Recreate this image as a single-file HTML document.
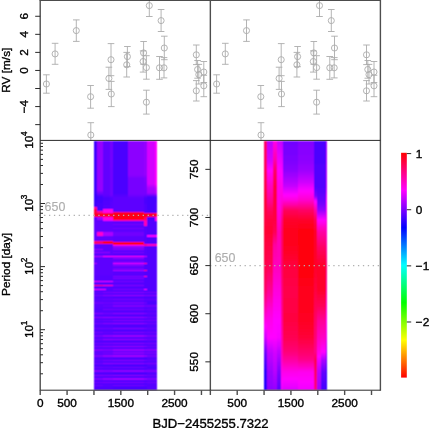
<!DOCTYPE html>
<html lang="en"><head><meta charset="utf-8"><title>RV periodogram</title>
<style>html,body{margin:0;padding:0;background:#fff;overflow:hidden}svg{display:block}text{stroke:#000;stroke-width:.36px}text.g{stroke:#adadad;stroke-width:.12px}</style>
</head><body>
<svg width="429" height="428" viewBox="0 0 429 428" font-family='"Liberation Sans", Arial, Helvetica, sans-serif' font-size="11.8" fill="#000">
<rect width="429" height="428" fill="#fff"/>
<defs><filter id="bl" x="-5%" y="-2%" width="110%" height="104%"><feConvolveMatrix order="3" kernelMatrix="1 2 1 2 5 2 1 2 1" divisor="17" edgeMode="none" preserveAlpha="false"/></filter></defs>
<g filter="url(#bl)" shape-rendering="crispEdges">
<rect x="94.10" y="140.90" width="62.80" height="249.00" fill="#4d00ff"/>
<rect x="264.35" y="140.90" width="62.80" height="249.00" fill="#ff0060"/>
<rect x="94.10" y="140.90" width="3.10" height="53.25" fill="#3c00ff"/>
<rect x="94.10" y="194.00" width="3.10" height="7.15" fill="#3700ff"/>
<rect x="94.10" y="201.00" width="3.10" height="5.25" fill="#3c00ff"/>
<rect x="94.10" y="206.10" width="3.10" height="0.45" fill="#4000ff"/>
<rect x="94.10" y="206.40" width="3.10" height="0.35" fill="#4400ff"/>
<rect x="94.10" y="206.60" width="3.10" height="0.45" fill="#4800ff"/>
<rect x="94.10" y="206.90" width="3.10" height="0.55" fill="#4c00ff"/>
<rect x="94.10" y="207.30" width="3.10" height="2.15" fill="#ff00a1"/>
<rect x="94.10" y="209.30" width="3.10" height="3.85" fill="#ff0040"/>
<rect x="94.10" y="213.00" width="3.10" height="3.85" fill="#ff0022"/>
<rect x="94.10" y="216.70" width="3.10" height="0.95" fill="#5900ff"/>
<rect x="94.10" y="217.50" width="3.10" height="3.15" fill="#5d00ff"/>
<rect x="94.10" y="220.50" width="3.10" height="19.15" fill="#6200ff"/>
<rect x="94.10" y="239.50" width="3.10" height="1.25" fill="#5d00ff"/>
<rect x="94.10" y="240.60" width="3.10" height="1.75" fill="#ff0080"/>
<rect x="94.10" y="242.20" width="3.10" height="1.85" fill="#ff005e"/>
<rect x="94.10" y="243.90" width="3.10" height="5.55" fill="#5d00ff"/>
<rect x="94.10" y="249.30" width="3.10" height="0.85" fill="#9900ff"/>
<rect x="94.10" y="250.00" width="3.10" height="2.45" fill="#5d00ff"/>
<rect x="94.10" y="252.30" width="3.10" height="0.85" fill="#9000ff"/>
<rect x="94.10" y="253.00" width="3.10" height="2.75" fill="#5d00ff"/>
<rect x="94.10" y="255.60" width="3.10" height="1.55" fill="#b700ff"/>
<rect x="94.10" y="257.00" width="3.10" height="5.85" fill="#5d00ff"/>
<rect x="94.10" y="262.70" width="3.10" height="1.45" fill="#aa00ff"/>
<rect x="94.10" y="264.00" width="3.10" height="2.65" fill="#5d00ff"/>
<rect x="94.10" y="266.50" width="3.10" height="0.85" fill="#8800ff"/>
<rect x="94.10" y="267.20" width="3.10" height="6.45" fill="#5d00ff"/>
<rect x="94.10" y="273.50" width="3.10" height="0.85" fill="#9000ff"/>
<rect x="94.10" y="274.20" width="3.10" height="0.45" fill="#5d00ff"/>
<rect x="94.10" y="274.50" width="3.10" height="6.25" fill="#5900ff"/>
<rect x="94.10" y="280.60" width="3.10" height="1.15" fill="#e100ff"/>
<rect x="94.10" y="281.60" width="3.10" height="3.55" fill="#5900ff"/>
<rect x="94.10" y="285.00" width="3.10" height="1.45" fill="#ff005e"/>
<rect x="94.10" y="286.30" width="3.10" height="2.45" fill="#5900ff"/>
<rect x="94.10" y="288.60" width="3.10" height="1.05" fill="#ee00ff"/>
<rect x="94.10" y="289.50" width="3.10" height="2.95" fill="#5900ff"/>
<rect x="94.10" y="292.30" width="3.10" height="1.15" fill="#6600ff"/>
<rect x="94.10" y="293.30" width="3.10" height="2.15" fill="#5900ff"/>
<rect x="94.10" y="295.30" width="3.10" height="1.15" fill="#7700ff"/>
<rect x="94.10" y="296.30" width="3.10" height="2.55" fill="#5900ff"/>
<rect x="94.10" y="298.70" width="3.10" height="1.15" fill="#6200ff"/>
<rect x="94.10" y="299.70" width="3.10" height="2.55" fill="#5900ff"/>
<rect x="94.10" y="302.10" width="3.10" height="1.55" fill="#6f00ff"/>
<rect x="94.10" y="303.50" width="3.10" height="1.75" fill="#5900ff"/>
<rect x="94.10" y="305.10" width="3.10" height="1.55" fill="#5d00ff"/>
<rect x="94.10" y="306.50" width="3.10" height="3.05" fill="#5900ff"/>
<rect x="94.10" y="309.40" width="3.10" height="1.15" fill="#5500ff"/>
<rect x="94.10" y="310.40" width="3.10" height="2.95" fill="#5900ff"/>
<rect x="94.10" y="313.20" width="3.10" height="1.15" fill="#8800ff"/>
<rect x="94.10" y="314.20" width="3.10" height="2.15" fill="#5900ff"/>
<rect x="94.10" y="316.20" width="3.10" height="0.95" fill="#5500ff"/>
<rect x="94.10" y="317.00" width="3.10" height="1.55" fill="#9000ff"/>
<rect x="94.10" y="318.40" width="3.10" height="2.15" fill="#5500ff"/>
<rect x="94.10" y="320.40" width="3.10" height="1.15" fill="#6600ff"/>
<rect x="94.10" y="321.40" width="3.10" height="2.15" fill="#5500ff"/>
<rect x="94.10" y="323.40" width="3.10" height="1.15" fill="#7700ff"/>
<rect x="94.10" y="324.40" width="3.10" height="3.45" fill="#5500ff"/>
<rect x="94.10" y="327.70" width="3.10" height="1.35" fill="#7300ff"/>
<rect x="94.10" y="328.90" width="3.10" height="2.75" fill="#5500ff"/>
<rect x="94.10" y="331.50" width="3.10" height="1.15" fill="#7700ff"/>
<rect x="94.10" y="332.50" width="3.10" height="2.95" fill="#5500ff"/>
<rect x="94.10" y="335.30" width="3.10" height="1.35" fill="#7700ff"/>
<rect x="94.10" y="336.50" width="3.10" height="2.75" fill="#5500ff"/>
<rect x="94.10" y="339.10" width="3.10" height="1.15" fill="#7700ff"/>
<rect x="94.10" y="340.10" width="3.10" height="2.55" fill="#5500ff"/>
<rect x="94.10" y="342.50" width="3.10" height="1.15" fill="#7300ff"/>
<rect x="94.10" y="343.50" width="3.10" height="2.15" fill="#5500ff"/>
<rect x="94.10" y="345.50" width="3.10" height="1.55" fill="#8400ff"/>
<rect x="94.10" y="346.90" width="3.10" height="2.55" fill="#5500ff"/>
<rect x="94.10" y="349.30" width="3.10" height="1.35" fill="#8400ff"/>
<rect x="94.10" y="350.50" width="3.10" height="1.95" fill="#5500ff"/>
<rect x="94.10" y="352.30" width="3.10" height="1.35" fill="#6600ff"/>
<rect x="94.10" y="353.50" width="3.10" height="1.95" fill="#5500ff"/>
<rect x="94.10" y="355.30" width="3.10" height="1.55" fill="#8000ff"/>
<rect x="94.10" y="356.70" width="3.10" height="3.05" fill="#5500ff"/>
<rect x="94.10" y="359.60" width="3.10" height="1.55" fill="#6600ff"/>
<rect x="94.10" y="361.00" width="3.10" height="1.75" fill="#5500ff"/>
<rect x="94.10" y="362.60" width="3.10" height="1.35" fill="#6f00ff"/>
<rect x="94.10" y="363.80" width="3.10" height="1.05" fill="#5500ff"/>
<rect x="94.10" y="364.70" width="3.10" height="2.35" fill="#5100ff"/>
<rect x="94.10" y="366.90" width="3.10" height="1.15" fill="#6f00ff"/>
<rect x="94.10" y="367.90" width="3.10" height="2.55" fill="#5100ff"/>
<rect x="94.10" y="370.30" width="3.10" height="1.35" fill="#8800ff"/>
<rect x="94.10" y="371.50" width="3.10" height="3.25" fill="#5100ff"/>
<rect x="94.10" y="374.60" width="3.10" height="1.55" fill="#8800ff"/>
<rect x="94.10" y="376.00" width="3.10" height="2.55" fill="#5100ff"/>
<rect x="94.10" y="378.40" width="3.10" height="1.35" fill="#8000ff"/>
<rect x="94.10" y="379.60" width="3.10" height="2.35" fill="#5100ff"/>
<rect x="94.10" y="381.80" width="3.10" height="1.15" fill="#7700ff"/>
<rect x="94.10" y="382.80" width="3.10" height="2.55" fill="#5100ff"/>
<rect x="94.10" y="385.20" width="3.10" height="1.35" fill="#6f00ff"/>
<rect x="94.10" y="386.40" width="3.10" height="3.65" fill="#5100ff"/>
<rect x="96.90" y="140.90" width="6.10" height="49.45" fill="#9500ff"/>
<rect x="96.90" y="190.20" width="6.10" height="0.45" fill="#9000ff"/>
<rect x="96.90" y="190.50" width="6.10" height="0.55" fill="#8c00ff"/>
<rect x="96.90" y="190.90" width="6.10" height="0.55" fill="#8800ff"/>
<rect x="96.90" y="191.30" width="6.10" height="0.45" fill="#8400ff"/>
<rect x="96.90" y="191.60" width="6.10" height="0.55" fill="#8000ff"/>
<rect x="96.90" y="192.00" width="6.10" height="0.55" fill="#7b00ff"/>
<rect x="96.90" y="192.40" width="6.10" height="0.45" fill="#7700ff"/>
<rect x="96.90" y="192.70" width="6.10" height="0.55" fill="#7300ff"/>
<rect x="96.90" y="193.10" width="6.10" height="0.55" fill="#6f00ff"/>
<rect x="96.90" y="193.50" width="6.10" height="0.45" fill="#6a00ff"/>
<rect x="96.90" y="193.80" width="6.10" height="0.55" fill="#6600ff"/>
<rect x="96.90" y="194.20" width="6.10" height="0.55" fill="#6200ff"/>
<rect x="96.90" y="194.60" width="6.10" height="0.45" fill="#5d00ff"/>
<rect x="96.90" y="194.90" width="6.10" height="0.55" fill="#5900ff"/>
<rect x="96.90" y="195.30" width="6.10" height="0.55" fill="#5500ff"/>
<rect x="96.90" y="195.70" width="6.10" height="0.55" fill="#5100ff"/>
<rect x="96.90" y="196.10" width="6.10" height="0.45" fill="#4c00ff"/>
<rect x="96.90" y="196.40" width="6.10" height="0.55" fill="#4800ff"/>
<rect x="96.90" y="196.80" width="6.10" height="5.85" fill="#4400ff"/>
<rect x="96.90" y="202.50" width="6.10" height="6.85" fill="#4800ff"/>
<rect x="96.90" y="209.20" width="6.10" height="2.15" fill="#4c00ff"/>
<rect x="96.90" y="211.20" width="6.10" height="1.95" fill="#ff0095"/>
<rect x="96.90" y="213.00" width="6.10" height="3.85" fill="#ff0022"/>
<rect x="96.90" y="216.70" width="6.10" height="2.95" fill="#a200ff"/>
<rect x="96.90" y="219.50" width="6.10" height="1.45" fill="#5d00ff"/>
<rect x="96.90" y="220.80" width="6.10" height="11.75" fill="#6200ff"/>
<rect x="96.90" y="232.40" width="6.10" height="3.45" fill="#ff00cc"/>
<rect x="96.90" y="235.70" width="6.10" height="3.95" fill="#6200ff"/>
<rect x="96.90" y="239.50" width="6.10" height="1.25" fill="#5d00ff"/>
<rect x="96.90" y="240.60" width="6.10" height="1.75" fill="#ff0080"/>
<rect x="96.90" y="242.20" width="6.10" height="1.85" fill="#ff005e"/>
<rect x="96.90" y="243.90" width="6.10" height="5.55" fill="#5d00ff"/>
<rect x="96.90" y="249.30" width="6.10" height="0.85" fill="#9900ff"/>
<rect x="96.90" y="250.00" width="6.10" height="2.45" fill="#5d00ff"/>
<rect x="96.90" y="252.30" width="6.10" height="0.85" fill="#9000ff"/>
<rect x="96.90" y="253.00" width="6.10" height="2.75" fill="#5d00ff"/>
<rect x="96.90" y="255.60" width="6.10" height="1.55" fill="#b700ff"/>
<rect x="96.90" y="257.00" width="6.10" height="9.65" fill="#5d00ff"/>
<rect x="96.90" y="266.50" width="6.10" height="0.85" fill="#8800ff"/>
<rect x="96.90" y="267.20" width="6.10" height="6.45" fill="#5d00ff"/>
<rect x="96.90" y="273.50" width="6.10" height="0.85" fill="#9000ff"/>
<rect x="96.90" y="274.20" width="6.10" height="0.45" fill="#5d00ff"/>
<rect x="96.90" y="274.50" width="6.10" height="6.25" fill="#5900ff"/>
<rect x="96.90" y="280.60" width="6.10" height="1.15" fill="#e100ff"/>
<rect x="96.90" y="281.60" width="6.10" height="3.55" fill="#5900ff"/>
<rect x="96.90" y="285.00" width="6.10" height="1.45" fill="#ff005e"/>
<rect x="96.90" y="286.30" width="6.10" height="2.45" fill="#5900ff"/>
<rect x="96.90" y="288.60" width="6.10" height="1.05" fill="#ee00ff"/>
<rect x="96.90" y="289.50" width="6.10" height="2.95" fill="#5900ff"/>
<rect x="96.90" y="292.30" width="6.10" height="1.15" fill="#6600ff"/>
<rect x="96.90" y="293.30" width="6.10" height="2.15" fill="#5900ff"/>
<rect x="96.90" y="295.30" width="6.10" height="1.15" fill="#7700ff"/>
<rect x="96.90" y="296.30" width="6.10" height="2.55" fill="#5900ff"/>
<rect x="96.90" y="298.70" width="6.10" height="1.15" fill="#6200ff"/>
<rect x="96.90" y="299.70" width="6.10" height="2.55" fill="#5900ff"/>
<rect x="96.90" y="302.10" width="6.10" height="1.55" fill="#6f00ff"/>
<rect x="96.90" y="303.50" width="6.10" height="1.75" fill="#5900ff"/>
<rect x="96.90" y="305.10" width="6.10" height="1.55" fill="#5d00ff"/>
<rect x="96.90" y="306.50" width="6.10" height="3.05" fill="#5900ff"/>
<rect x="96.90" y="309.40" width="6.10" height="1.15" fill="#5500ff"/>
<rect x="96.90" y="310.40" width="6.10" height="2.95" fill="#5900ff"/>
<rect x="96.90" y="313.20" width="6.10" height="1.15" fill="#8800ff"/>
<rect x="96.90" y="314.20" width="6.10" height="2.15" fill="#5900ff"/>
<rect x="96.90" y="316.20" width="6.10" height="0.95" fill="#5500ff"/>
<rect x="96.90" y="317.00" width="6.10" height="1.55" fill="#9000ff"/>
<rect x="96.90" y="318.40" width="6.10" height="2.15" fill="#5500ff"/>
<rect x="96.90" y="320.40" width="6.10" height="1.15" fill="#6600ff"/>
<rect x="96.90" y="321.40" width="6.10" height="2.15" fill="#5500ff"/>
<rect x="96.90" y="323.40" width="6.10" height="1.15" fill="#7700ff"/>
<rect x="96.90" y="324.40" width="6.10" height="3.45" fill="#5500ff"/>
<rect x="96.90" y="327.70" width="6.10" height="1.35" fill="#7300ff"/>
<rect x="96.90" y="328.90" width="6.10" height="2.75" fill="#5500ff"/>
<rect x="96.90" y="331.50" width="6.10" height="1.15" fill="#7700ff"/>
<rect x="96.90" y="332.50" width="6.10" height="2.95" fill="#5500ff"/>
<rect x="96.90" y="335.30" width="6.10" height="1.35" fill="#7700ff"/>
<rect x="96.90" y="336.50" width="6.10" height="2.75" fill="#5500ff"/>
<rect x="96.90" y="339.10" width="6.10" height="1.15" fill="#7700ff"/>
<rect x="96.90" y="340.10" width="6.10" height="2.55" fill="#5500ff"/>
<rect x="96.90" y="342.50" width="6.10" height="1.15" fill="#7300ff"/>
<rect x="96.90" y="343.50" width="6.10" height="2.15" fill="#5500ff"/>
<rect x="96.90" y="345.50" width="6.10" height="1.55" fill="#8400ff"/>
<rect x="96.90" y="346.90" width="6.10" height="2.55" fill="#5500ff"/>
<rect x="96.90" y="349.30" width="6.10" height="1.35" fill="#8400ff"/>
<rect x="96.90" y="350.50" width="6.10" height="1.95" fill="#5500ff"/>
<rect x="96.90" y="352.30" width="6.10" height="1.35" fill="#6600ff"/>
<rect x="96.90" y="353.50" width="6.10" height="1.95" fill="#5500ff"/>
<rect x="96.90" y="355.30" width="6.10" height="1.55" fill="#8000ff"/>
<rect x="96.90" y="356.70" width="6.10" height="3.05" fill="#5500ff"/>
<rect x="96.90" y="359.60" width="6.10" height="1.55" fill="#6600ff"/>
<rect x="96.90" y="361.00" width="6.10" height="1.75" fill="#5500ff"/>
<rect x="96.90" y="362.60" width="6.10" height="1.35" fill="#6f00ff"/>
<rect x="96.90" y="363.80" width="6.10" height="1.05" fill="#5500ff"/>
<rect x="96.90" y="364.70" width="6.10" height="2.35" fill="#5100ff"/>
<rect x="96.90" y="366.90" width="6.10" height="1.15" fill="#6f00ff"/>
<rect x="96.90" y="367.90" width="6.10" height="2.55" fill="#5100ff"/>
<rect x="96.90" y="370.30" width="6.10" height="1.35" fill="#8800ff"/>
<rect x="96.90" y="371.50" width="6.10" height="3.25" fill="#5100ff"/>
<rect x="96.90" y="374.60" width="6.10" height="1.55" fill="#8800ff"/>
<rect x="96.90" y="376.00" width="6.10" height="2.55" fill="#5100ff"/>
<rect x="96.90" y="378.40" width="6.10" height="1.35" fill="#8000ff"/>
<rect x="96.90" y="379.60" width="6.10" height="2.35" fill="#5100ff"/>
<rect x="96.90" y="381.80" width="6.10" height="1.15" fill="#7700ff"/>
<rect x="96.90" y="382.80" width="6.10" height="2.55" fill="#5100ff"/>
<rect x="96.90" y="385.20" width="6.10" height="1.35" fill="#6f00ff"/>
<rect x="96.90" y="386.40" width="6.10" height="3.65" fill="#5100ff"/>
<rect x="102.70" y="140.90" width="3.90" height="54.55" fill="#6200ff"/>
<rect x="102.70" y="195.30" width="3.90" height="0.75" fill="#5d00ff"/>
<rect x="102.70" y="195.90" width="3.90" height="0.75" fill="#5900ff"/>
<rect x="102.70" y="196.50" width="3.90" height="0.75" fill="#5500ff"/>
<rect x="102.70" y="197.10" width="3.90" height="0.75" fill="#5100ff"/>
<rect x="102.70" y="197.70" width="3.90" height="2.85" fill="#4c00ff"/>
<rect x="102.70" y="200.40" width="3.90" height="4.95" fill="#5100ff"/>
<rect x="102.70" y="205.20" width="3.90" height="4.25" fill="#5500ff"/>
<rect x="102.70" y="209.30" width="3.90" height="3.85" fill="#ff00ea"/>
<rect x="102.70" y="213.00" width="3.90" height="3.85" fill="#ff0022"/>
<rect x="102.70" y="216.70" width="3.90" height="2.95" fill="#ff00dd"/>
<rect x="102.70" y="219.50" width="3.90" height="1.25" fill="#ea00ff"/>
<rect x="102.70" y="220.60" width="3.90" height="11.95" fill="#6200ff"/>
<rect x="102.70" y="232.40" width="3.90" height="3.45" fill="#aa00ff"/>
<rect x="102.70" y="235.70" width="3.90" height="3.95" fill="#6200ff"/>
<rect x="102.70" y="239.50" width="3.90" height="1.25" fill="#5d00ff"/>
<rect x="102.70" y="240.60" width="3.90" height="3.45" fill="#ff0022"/>
<rect x="102.70" y="243.90" width="3.90" height="8.55" fill="#5d00ff"/>
<rect x="102.70" y="252.30" width="3.90" height="0.85" fill="#9000ff"/>
<rect x="102.70" y="253.00" width="3.90" height="2.75" fill="#5d00ff"/>
<rect x="102.70" y="255.60" width="3.90" height="1.55" fill="#ff00f2"/>
<rect x="102.70" y="257.00" width="3.90" height="9.65" fill="#5d00ff"/>
<rect x="102.70" y="266.50" width="3.90" height="0.85" fill="#8800ff"/>
<rect x="102.70" y="267.20" width="3.90" height="6.45" fill="#5d00ff"/>
<rect x="102.70" y="273.50" width="3.90" height="0.85" fill="#9000ff"/>
<rect x="102.70" y="274.20" width="3.90" height="0.45" fill="#5d00ff"/>
<rect x="102.70" y="274.50" width="3.90" height="6.25" fill="#5900ff"/>
<rect x="102.70" y="280.60" width="3.90" height="1.15" fill="#e100ff"/>
<rect x="102.70" y="281.60" width="3.90" height="3.55" fill="#5900ff"/>
<rect x="102.70" y="285.00" width="3.90" height="1.45" fill="#ff00b3"/>
<rect x="102.70" y="286.30" width="3.90" height="2.45" fill="#5900ff"/>
<rect x="102.70" y="288.60" width="3.90" height="1.05" fill="#ee00ff"/>
<rect x="102.70" y="289.50" width="3.90" height="2.95" fill="#5900ff"/>
<rect x="102.70" y="292.30" width="3.90" height="1.15" fill="#7b00ff"/>
<rect x="102.70" y="293.30" width="3.90" height="2.15" fill="#5900ff"/>
<rect x="102.70" y="295.30" width="3.90" height="1.15" fill="#8c00ff"/>
<rect x="102.70" y="296.30" width="3.90" height="2.55" fill="#5900ff"/>
<rect x="102.70" y="298.70" width="3.90" height="1.15" fill="#6a00ff"/>
<rect x="102.70" y="299.70" width="3.90" height="2.55" fill="#5900ff"/>
<rect x="102.70" y="302.10" width="3.90" height="1.55" fill="#6a00ff"/>
<rect x="102.70" y="303.50" width="3.90" height="1.75" fill="#5900ff"/>
<rect x="102.70" y="305.10" width="3.90" height="1.55" fill="#6600ff"/>
<rect x="102.70" y="306.50" width="3.90" height="3.05" fill="#5900ff"/>
<rect x="102.70" y="309.40" width="3.90" height="1.15" fill="#7700ff"/>
<rect x="102.70" y="310.40" width="3.90" height="2.95" fill="#5900ff"/>
<rect x="102.70" y="313.20" width="3.90" height="1.15" fill="#7700ff"/>
<rect x="102.70" y="314.20" width="3.90" height="2.15" fill="#5900ff"/>
<rect x="102.70" y="316.20" width="3.90" height="0.95" fill="#5500ff"/>
<rect x="102.70" y="317.00" width="3.90" height="1.55" fill="#9900ff"/>
<rect x="102.70" y="318.40" width="3.90" height="2.15" fill="#5500ff"/>
<rect x="102.70" y="320.40" width="3.90" height="1.15" fill="#6f00ff"/>
<rect x="102.70" y="321.40" width="3.90" height="2.15" fill="#5500ff"/>
<rect x="102.70" y="323.40" width="3.90" height="1.15" fill="#8c00ff"/>
<rect x="102.70" y="324.40" width="3.90" height="3.45" fill="#5500ff"/>
<rect x="102.70" y="327.70" width="3.90" height="1.35" fill="#6f00ff"/>
<rect x="102.70" y="328.90" width="3.90" height="2.75" fill="#5500ff"/>
<rect x="102.70" y="331.50" width="3.90" height="1.15" fill="#6600ff"/>
<rect x="102.70" y="332.50" width="3.90" height="2.95" fill="#5500ff"/>
<rect x="102.70" y="335.30" width="3.90" height="1.35" fill="#8c00ff"/>
<rect x="102.70" y="336.50" width="3.90" height="2.75" fill="#5500ff"/>
<rect x="102.70" y="339.10" width="3.90" height="1.15" fill="#9900ff"/>
<rect x="102.70" y="340.10" width="3.90" height="2.55" fill="#5500ff"/>
<rect x="102.70" y="342.50" width="3.90" height="1.15" fill="#7b00ff"/>
<rect x="102.70" y="343.50" width="3.90" height="2.15" fill="#5500ff"/>
<rect x="102.70" y="345.50" width="3.90" height="1.55" fill="#8c00ff"/>
<rect x="102.70" y="346.90" width="3.90" height="2.55" fill="#5500ff"/>
<rect x="102.70" y="349.30" width="3.90" height="1.35" fill="#8000ff"/>
<rect x="102.70" y="350.50" width="3.90" height="1.95" fill="#5500ff"/>
<rect x="102.70" y="352.30" width="3.90" height="1.35" fill="#6f00ff"/>
<rect x="102.70" y="353.50" width="3.90" height="1.95" fill="#5500ff"/>
<rect x="102.70" y="355.30" width="3.90" height="1.55" fill="#9500ff"/>
<rect x="102.70" y="356.70" width="3.90" height="3.05" fill="#5500ff"/>
<rect x="102.70" y="359.60" width="3.90" height="1.55" fill="#7b00ff"/>
<rect x="102.70" y="361.00" width="3.90" height="1.75" fill="#5500ff"/>
<rect x="102.70" y="362.60" width="3.90" height="1.35" fill="#9000ff"/>
<rect x="102.70" y="363.80" width="3.90" height="1.05" fill="#5500ff"/>
<rect x="102.70" y="364.70" width="3.90" height="2.35" fill="#5100ff"/>
<rect x="102.70" y="366.90" width="3.90" height="1.15" fill="#6a00ff"/>
<rect x="102.70" y="367.90" width="3.90" height="2.55" fill="#5100ff"/>
<rect x="102.70" y="370.30" width="3.90" height="1.35" fill="#8400ff"/>
<rect x="102.70" y="371.50" width="3.90" height="3.25" fill="#5100ff"/>
<rect x="102.70" y="374.60" width="3.90" height="1.55" fill="#8400ff"/>
<rect x="102.70" y="376.00" width="3.90" height="2.55" fill="#5100ff"/>
<rect x="102.70" y="378.40" width="3.90" height="1.35" fill="#9500ff"/>
<rect x="102.70" y="379.60" width="3.90" height="2.35" fill="#5100ff"/>
<rect x="102.70" y="381.80" width="3.90" height="1.15" fill="#8000ff"/>
<rect x="102.70" y="382.80" width="3.90" height="2.55" fill="#5100ff"/>
<rect x="102.70" y="385.20" width="3.90" height="1.35" fill="#5d00ff"/>
<rect x="102.70" y="386.40" width="3.90" height="3.65" fill="#5100ff"/>
<rect x="106.30" y="140.90" width="4.40" height="54.55" fill="#6200ff"/>
<rect x="106.30" y="195.30" width="4.40" height="0.75" fill="#5d00ff"/>
<rect x="106.30" y="195.90" width="4.40" height="0.75" fill="#5900ff"/>
<rect x="106.30" y="196.50" width="4.40" height="0.75" fill="#5500ff"/>
<rect x="106.30" y="197.10" width="4.40" height="0.75" fill="#5100ff"/>
<rect x="106.30" y="197.70" width="4.40" height="2.85" fill="#4c00ff"/>
<rect x="106.30" y="200.40" width="4.40" height="4.95" fill="#5100ff"/>
<rect x="106.30" y="205.20" width="4.40" height="4.25" fill="#5500ff"/>
<rect x="106.30" y="209.30" width="4.40" height="3.85" fill="#ff00ea"/>
<rect x="106.30" y="213.00" width="4.40" height="3.85" fill="#ff0022"/>
<rect x="106.30" y="216.70" width="4.40" height="2.95" fill="#ff00dd"/>
<rect x="106.30" y="219.50" width="4.40" height="1.25" fill="#ea00ff"/>
<rect x="106.30" y="220.60" width="4.40" height="11.95" fill="#6200ff"/>
<rect x="106.30" y="232.40" width="4.40" height="3.45" fill="#aa00ff"/>
<rect x="106.30" y="235.70" width="4.40" height="3.95" fill="#6200ff"/>
<rect x="106.30" y="239.50" width="4.40" height="1.25" fill="#5d00ff"/>
<rect x="106.30" y="240.60" width="4.40" height="3.45" fill="#ff0022"/>
<rect x="106.30" y="243.90" width="4.40" height="8.55" fill="#5d00ff"/>
<rect x="106.30" y="252.30" width="4.40" height="0.85" fill="#9000ff"/>
<rect x="106.30" y="253.00" width="4.40" height="2.75" fill="#5d00ff"/>
<rect x="106.30" y="255.60" width="4.40" height="1.55" fill="#ff00f2"/>
<rect x="106.30" y="257.00" width="4.40" height="9.65" fill="#5d00ff"/>
<rect x="106.30" y="266.50" width="4.40" height="0.85" fill="#8800ff"/>
<rect x="106.30" y="267.20" width="4.40" height="6.45" fill="#5d00ff"/>
<rect x="106.30" y="273.50" width="4.40" height="0.85" fill="#9000ff"/>
<rect x="106.30" y="274.20" width="4.40" height="0.45" fill="#5d00ff"/>
<rect x="106.30" y="274.50" width="4.40" height="6.25" fill="#5900ff"/>
<rect x="106.30" y="280.60" width="4.40" height="1.15" fill="#e100ff"/>
<rect x="106.30" y="281.60" width="4.40" height="3.55" fill="#5900ff"/>
<rect x="106.30" y="285.00" width="4.40" height="1.45" fill="#ff00b3"/>
<rect x="106.30" y="286.30" width="4.40" height="6.15" fill="#5900ff"/>
<rect x="106.30" y="292.30" width="4.40" height="1.15" fill="#7b00ff"/>
<rect x="106.30" y="293.30" width="4.40" height="2.15" fill="#5900ff"/>
<rect x="106.30" y="295.30" width="4.40" height="1.15" fill="#8c00ff"/>
<rect x="106.30" y="296.30" width="4.40" height="2.55" fill="#5900ff"/>
<rect x="106.30" y="298.70" width="4.40" height="1.15" fill="#6a00ff"/>
<rect x="106.30" y="299.70" width="4.40" height="2.55" fill="#5900ff"/>
<rect x="106.30" y="302.10" width="4.40" height="1.55" fill="#6a00ff"/>
<rect x="106.30" y="303.50" width="4.40" height="1.75" fill="#5900ff"/>
<rect x="106.30" y="305.10" width="4.40" height="1.55" fill="#6600ff"/>
<rect x="106.30" y="306.50" width="4.40" height="3.05" fill="#5900ff"/>
<rect x="106.30" y="309.40" width="4.40" height="1.15" fill="#7700ff"/>
<rect x="106.30" y="310.40" width="4.40" height="2.95" fill="#5900ff"/>
<rect x="106.30" y="313.20" width="4.40" height="1.15" fill="#7700ff"/>
<rect x="106.30" y="314.20" width="4.40" height="2.15" fill="#5900ff"/>
<rect x="106.30" y="316.20" width="4.40" height="0.95" fill="#5500ff"/>
<rect x="106.30" y="317.00" width="4.40" height="1.55" fill="#9900ff"/>
<rect x="106.30" y="318.40" width="4.40" height="2.15" fill="#5500ff"/>
<rect x="106.30" y="320.40" width="4.40" height="1.15" fill="#6f00ff"/>
<rect x="106.30" y="321.40" width="4.40" height="2.15" fill="#5500ff"/>
<rect x="106.30" y="323.40" width="4.40" height="1.15" fill="#8c00ff"/>
<rect x="106.30" y="324.40" width="4.40" height="3.45" fill="#5500ff"/>
<rect x="106.30" y="327.70" width="4.40" height="1.35" fill="#6f00ff"/>
<rect x="106.30" y="328.90" width="4.40" height="2.75" fill="#5500ff"/>
<rect x="106.30" y="331.50" width="4.40" height="1.15" fill="#6600ff"/>
<rect x="106.30" y="332.50" width="4.40" height="2.95" fill="#5500ff"/>
<rect x="106.30" y="335.30" width="4.40" height="1.35" fill="#8c00ff"/>
<rect x="106.30" y="336.50" width="4.40" height="2.75" fill="#5500ff"/>
<rect x="106.30" y="339.10" width="4.40" height="1.15" fill="#9900ff"/>
<rect x="106.30" y="340.10" width="4.40" height="2.55" fill="#5500ff"/>
<rect x="106.30" y="342.50" width="4.40" height="1.15" fill="#7b00ff"/>
<rect x="106.30" y="343.50" width="4.40" height="2.15" fill="#5500ff"/>
<rect x="106.30" y="345.50" width="4.40" height="1.55" fill="#8c00ff"/>
<rect x="106.30" y="346.90" width="4.40" height="2.55" fill="#5500ff"/>
<rect x="106.30" y="349.30" width="4.40" height="1.35" fill="#8000ff"/>
<rect x="106.30" y="350.50" width="4.40" height="1.95" fill="#5500ff"/>
<rect x="106.30" y="352.30" width="4.40" height="1.35" fill="#6f00ff"/>
<rect x="106.30" y="353.50" width="4.40" height="1.95" fill="#5500ff"/>
<rect x="106.30" y="355.30" width="4.40" height="1.55" fill="#9500ff"/>
<rect x="106.30" y="356.70" width="4.40" height="3.05" fill="#5500ff"/>
<rect x="106.30" y="359.60" width="4.40" height="1.55" fill="#7b00ff"/>
<rect x="106.30" y="361.00" width="4.40" height="1.75" fill="#5500ff"/>
<rect x="106.30" y="362.60" width="4.40" height="1.35" fill="#9000ff"/>
<rect x="106.30" y="363.80" width="4.40" height="1.05" fill="#5500ff"/>
<rect x="106.30" y="364.70" width="4.40" height="2.35" fill="#5100ff"/>
<rect x="106.30" y="366.90" width="4.40" height="1.15" fill="#6a00ff"/>
<rect x="106.30" y="367.90" width="4.40" height="2.55" fill="#5100ff"/>
<rect x="106.30" y="370.30" width="4.40" height="1.35" fill="#8400ff"/>
<rect x="106.30" y="371.50" width="4.40" height="3.25" fill="#5100ff"/>
<rect x="106.30" y="374.60" width="4.40" height="1.55" fill="#8400ff"/>
<rect x="106.30" y="376.00" width="4.40" height="2.55" fill="#5100ff"/>
<rect x="106.30" y="378.40" width="4.40" height="1.35" fill="#9500ff"/>
<rect x="106.30" y="379.60" width="4.40" height="2.35" fill="#5100ff"/>
<rect x="106.30" y="381.80" width="4.40" height="1.15" fill="#8000ff"/>
<rect x="106.30" y="382.80" width="4.40" height="2.55" fill="#5100ff"/>
<rect x="106.30" y="385.20" width="4.40" height="1.35" fill="#5d00ff"/>
<rect x="106.30" y="386.40" width="4.40" height="3.65" fill="#5100ff"/>
<rect x="110.40" y="140.90" width="2.40" height="27.25" fill="#7300ff"/>
<rect x="110.40" y="168.00" width="2.40" height="27.45" fill="#6f00ff"/>
<rect x="110.40" y="195.30" width="2.40" height="0.65" fill="#6a00ff"/>
<rect x="110.40" y="195.80" width="2.40" height="0.65" fill="#6600ff"/>
<rect x="110.40" y="196.30" width="2.40" height="0.65" fill="#6200ff"/>
<rect x="110.40" y="196.80" width="2.40" height="0.65" fill="#5d00ff"/>
<rect x="110.40" y="197.30" width="2.40" height="0.65" fill="#5900ff"/>
<rect x="110.40" y="197.80" width="2.40" height="4.35" fill="#5500ff"/>
<rect x="110.40" y="202.00" width="2.40" height="7.45" fill="#5900ff"/>
<rect x="110.40" y="209.30" width="2.40" height="3.85" fill="#ff00ea"/>
<rect x="110.40" y="213.00" width="2.40" height="3.85" fill="#ff0022"/>
<rect x="110.40" y="216.70" width="2.40" height="2.95" fill="#ff00dd"/>
<rect x="110.40" y="219.50" width="2.40" height="1.25" fill="#ea00ff"/>
<rect x="110.40" y="220.60" width="2.40" height="11.95" fill="#6200ff"/>
<rect x="110.40" y="232.40" width="2.40" height="3.45" fill="#aa00ff"/>
<rect x="110.40" y="235.70" width="2.40" height="3.95" fill="#6200ff"/>
<rect x="110.40" y="239.50" width="2.40" height="1.25" fill="#5d00ff"/>
<rect x="110.40" y="240.60" width="2.40" height="3.45" fill="#ff0022"/>
<rect x="110.40" y="243.90" width="2.40" height="11.85" fill="#5d00ff"/>
<rect x="110.40" y="255.60" width="2.40" height="1.55" fill="#ff00f2"/>
<rect x="110.40" y="257.00" width="2.40" height="16.65" fill="#5d00ff"/>
<rect x="110.40" y="273.50" width="2.40" height="0.85" fill="#9000ff"/>
<rect x="110.40" y="274.20" width="2.40" height="0.45" fill="#5d00ff"/>
<rect x="110.40" y="274.50" width="2.40" height="6.25" fill="#5900ff"/>
<rect x="110.40" y="280.60" width="2.40" height="1.15" fill="#e100ff"/>
<rect x="110.40" y="281.60" width="2.40" height="3.55" fill="#5900ff"/>
<rect x="110.40" y="285.00" width="2.40" height="1.45" fill="#ff00b3"/>
<rect x="110.40" y="286.30" width="2.40" height="6.15" fill="#5900ff"/>
<rect x="110.40" y="292.30" width="2.40" height="1.15" fill="#7b00ff"/>
<rect x="110.40" y="293.30" width="2.40" height="2.15" fill="#5900ff"/>
<rect x="110.40" y="295.30" width="2.40" height="1.15" fill="#8c00ff"/>
<rect x="110.40" y="296.30" width="2.40" height="2.55" fill="#5900ff"/>
<rect x="110.40" y="298.70" width="2.40" height="1.15" fill="#6a00ff"/>
<rect x="110.40" y="299.70" width="2.40" height="2.55" fill="#5900ff"/>
<rect x="110.40" y="302.10" width="2.40" height="1.55" fill="#6a00ff"/>
<rect x="110.40" y="303.50" width="2.40" height="1.75" fill="#5900ff"/>
<rect x="110.40" y="305.10" width="2.40" height="1.55" fill="#6600ff"/>
<rect x="110.40" y="306.50" width="2.40" height="3.05" fill="#5900ff"/>
<rect x="110.40" y="309.40" width="2.40" height="1.15" fill="#7700ff"/>
<rect x="110.40" y="310.40" width="2.40" height="2.95" fill="#5900ff"/>
<rect x="110.40" y="313.20" width="2.40" height="1.15" fill="#7700ff"/>
<rect x="110.40" y="314.20" width="2.40" height="2.15" fill="#5900ff"/>
<rect x="110.40" y="316.20" width="2.40" height="0.95" fill="#5500ff"/>
<rect x="110.40" y="317.00" width="2.40" height="1.55" fill="#9900ff"/>
<rect x="110.40" y="318.40" width="2.40" height="2.15" fill="#5500ff"/>
<rect x="110.40" y="320.40" width="2.40" height="1.15" fill="#6f00ff"/>
<rect x="110.40" y="321.40" width="2.40" height="2.15" fill="#5500ff"/>
<rect x="110.40" y="323.40" width="2.40" height="1.15" fill="#8c00ff"/>
<rect x="110.40" y="324.40" width="2.40" height="3.45" fill="#5500ff"/>
<rect x="110.40" y="327.70" width="2.40" height="1.35" fill="#6f00ff"/>
<rect x="110.40" y="328.90" width="2.40" height="2.75" fill="#5500ff"/>
<rect x="110.40" y="331.50" width="2.40" height="1.15" fill="#6600ff"/>
<rect x="110.40" y="332.50" width="2.40" height="2.95" fill="#5500ff"/>
<rect x="110.40" y="335.30" width="2.40" height="1.35" fill="#8c00ff"/>
<rect x="110.40" y="336.50" width="2.40" height="2.75" fill="#5500ff"/>
<rect x="110.40" y="339.10" width="2.40" height="1.15" fill="#9900ff"/>
<rect x="110.40" y="340.10" width="2.40" height="2.55" fill="#5500ff"/>
<rect x="110.40" y="342.50" width="2.40" height="1.15" fill="#7b00ff"/>
<rect x="110.40" y="343.50" width="2.40" height="2.15" fill="#5500ff"/>
<rect x="110.40" y="345.50" width="2.40" height="1.55" fill="#8c00ff"/>
<rect x="110.40" y="346.90" width="2.40" height="2.55" fill="#5500ff"/>
<rect x="110.40" y="349.30" width="2.40" height="1.35" fill="#8000ff"/>
<rect x="110.40" y="350.50" width="2.40" height="1.95" fill="#5500ff"/>
<rect x="110.40" y="352.30" width="2.40" height="1.35" fill="#6f00ff"/>
<rect x="110.40" y="353.50" width="2.40" height="1.95" fill="#5500ff"/>
<rect x="110.40" y="355.30" width="2.40" height="1.55" fill="#9500ff"/>
<rect x="110.40" y="356.70" width="2.40" height="3.05" fill="#5500ff"/>
<rect x="110.40" y="359.60" width="2.40" height="1.55" fill="#7b00ff"/>
<rect x="110.40" y="361.00" width="2.40" height="1.75" fill="#5500ff"/>
<rect x="110.40" y="362.60" width="2.40" height="1.35" fill="#9000ff"/>
<rect x="110.40" y="363.80" width="2.40" height="1.05" fill="#5500ff"/>
<rect x="110.40" y="364.70" width="2.40" height="2.35" fill="#5100ff"/>
<rect x="110.40" y="366.90" width="2.40" height="1.15" fill="#6a00ff"/>
<rect x="110.40" y="367.90" width="2.40" height="2.55" fill="#5100ff"/>
<rect x="110.40" y="370.30" width="2.40" height="1.35" fill="#8400ff"/>
<rect x="110.40" y="371.50" width="2.40" height="3.25" fill="#5100ff"/>
<rect x="110.40" y="374.60" width="2.40" height="1.55" fill="#8400ff"/>
<rect x="110.40" y="376.00" width="2.40" height="2.55" fill="#5100ff"/>
<rect x="110.40" y="378.40" width="2.40" height="1.35" fill="#9500ff"/>
<rect x="110.40" y="379.60" width="2.40" height="2.35" fill="#5100ff"/>
<rect x="110.40" y="381.80" width="2.40" height="1.15" fill="#8000ff"/>
<rect x="110.40" y="382.80" width="2.40" height="2.55" fill="#5100ff"/>
<rect x="110.40" y="385.20" width="2.40" height="1.35" fill="#5d00ff"/>
<rect x="110.40" y="386.40" width="2.40" height="3.65" fill="#5100ff"/>
<rect x="112.50" y="140.90" width="15.60" height="53.65" fill="#4c00ff"/>
<rect x="112.50" y="194.40" width="15.60" height="0.85" fill="#5100ff"/>
<rect x="112.50" y="195.10" width="15.60" height="0.95" fill="#5500ff"/>
<rect x="112.50" y="195.90" width="15.60" height="0.85" fill="#5900ff"/>
<rect x="112.50" y="196.60" width="15.60" height="15.35" fill="#5d00ff"/>
<rect x="112.50" y="211.80" width="15.60" height="1.35" fill="#ff0040"/>
<rect x="112.50" y="213.00" width="15.60" height="6.65" fill="#ff0015"/>
<rect x="112.50" y="219.50" width="15.60" height="1.25" fill="#ff00b3"/>
<rect x="112.50" y="220.60" width="15.60" height="3.55" fill="#5d00ff"/>
<rect x="112.50" y="224.00" width="15.60" height="1.15" fill="#7700ff"/>
<rect x="112.50" y="225.00" width="15.60" height="3.15" fill="#5d00ff"/>
<rect x="112.50" y="228.00" width="15.60" height="1.15" fill="#7700ff"/>
<rect x="112.50" y="229.00" width="15.60" height="3.55" fill="#5d00ff"/>
<rect x="112.50" y="232.40" width="15.60" height="3.45" fill="#6f00ff"/>
<rect x="112.50" y="235.70" width="15.60" height="3.95" fill="#5d00ff"/>
<rect x="112.50" y="239.50" width="15.60" height="2.85" fill="#5900ff"/>
<rect x="112.50" y="242.20" width="15.60" height="2.95" fill="#ff001a"/>
<rect x="112.50" y="245.00" width="15.60" height="1.45" fill="#ff00ff"/>
<rect x="112.50" y="246.30" width="15.60" height="0.65" fill="#5900ff"/>
<rect x="112.50" y="246.80" width="15.60" height="0.85" fill="#aa00ff"/>
<rect x="112.50" y="247.50" width="15.60" height="1.95" fill="#5900ff"/>
<rect x="112.50" y="249.30" width="15.60" height="0.85" fill="#9000ff"/>
<rect x="112.50" y="250.00" width="15.60" height="2.45" fill="#5900ff"/>
<rect x="112.50" y="252.30" width="15.60" height="0.85" fill="#7700ff"/>
<rect x="112.50" y="253.00" width="15.60" height="0.75" fill="#5900ff"/>
<rect x="112.50" y="253.60" width="15.60" height="0.75" fill="#8800ff"/>
<rect x="112.50" y="254.20" width="15.60" height="1.55" fill="#5900ff"/>
<rect x="112.50" y="255.60" width="15.60" height="1.55" fill="#ff00f2"/>
<rect x="112.50" y="257.00" width="15.60" height="1.05" fill="#5900ff"/>
<rect x="112.50" y="257.90" width="15.60" height="0.85" fill="#9900ff"/>
<rect x="112.50" y="258.60" width="15.60" height="1.05" fill="#5900ff"/>
<rect x="112.50" y="259.50" width="15.60" height="0.85" fill="#8800ff"/>
<rect x="112.50" y="260.20" width="15.60" height="1.15" fill="#5900ff"/>
<rect x="112.50" y="261.20" width="15.60" height="0.75" fill="#8000ff"/>
<rect x="112.50" y="261.80" width="15.60" height="1.05" fill="#5900ff"/>
<rect x="112.50" y="262.70" width="15.60" height="1.45" fill="#f700ff"/>
<rect x="112.50" y="264.00" width="15.60" height="1.05" fill="#5900ff"/>
<rect x="112.50" y="264.90" width="15.60" height="0.75" fill="#9900ff"/>
<rect x="112.50" y="265.50" width="15.60" height="1.15" fill="#5900ff"/>
<rect x="112.50" y="266.50" width="15.60" height="0.85" fill="#8000ff"/>
<rect x="112.50" y="267.20" width="15.60" height="1.35" fill="#5900ff"/>
<rect x="112.50" y="268.40" width="15.60" height="0.75" fill="#8000ff"/>
<rect x="112.50" y="269.00" width="15.60" height="1.15" fill="#5900ff"/>
<rect x="112.50" y="270.00" width="15.60" height="1.35" fill="#b700ff"/>
<rect x="112.50" y="271.20" width="15.60" height="2.45" fill="#5900ff"/>
<rect x="112.50" y="273.50" width="15.60" height="0.85" fill="#7700ff"/>
<rect x="112.50" y="274.20" width="15.60" height="0.45" fill="#5900ff"/>
<rect x="112.50" y="274.50" width="15.60" height="1.65" fill="#5500ff"/>
<rect x="112.50" y="276.00" width="15.60" height="1.15" fill="#8800ff"/>
<rect x="112.50" y="277.00" width="15.60" height="1.55" fill="#5500ff"/>
<rect x="112.50" y="278.40" width="15.60" height="0.75" fill="#8800ff"/>
<rect x="112.50" y="279.00" width="15.60" height="1.75" fill="#5500ff"/>
<rect x="112.50" y="280.60" width="15.60" height="1.15" fill="#7700ff"/>
<rect x="112.50" y="281.60" width="15.60" height="1.15" fill="#5500ff"/>
<rect x="112.50" y="282.60" width="15.60" height="0.75" fill="#8800ff"/>
<rect x="112.50" y="283.20" width="15.60" height="1.95" fill="#5500ff"/>
<rect x="112.50" y="285.00" width="15.60" height="1.45" fill="#8000ff"/>
<rect x="112.50" y="286.30" width="15.60" height="2.45" fill="#5500ff"/>
<rect x="112.50" y="288.60" width="15.60" height="1.05" fill="#7700ff"/>
<rect x="112.50" y="289.50" width="15.60" height="1.25" fill="#5500ff"/>
<rect x="112.50" y="290.60" width="15.60" height="0.75" fill="#8000ff"/>
<rect x="112.50" y="291.20" width="15.60" height="1.25" fill="#5500ff"/>
<rect x="112.50" y="292.30" width="15.60" height="1.15" fill="#8800ff"/>
<rect x="112.50" y="293.30" width="15.60" height="2.15" fill="#5500ff"/>
<rect x="112.50" y="295.30" width="15.60" height="1.15" fill="#9900ff"/>
<rect x="112.50" y="296.30" width="15.60" height="2.55" fill="#5500ff"/>
<rect x="112.50" y="298.70" width="15.60" height="1.15" fill="#7700ff"/>
<rect x="112.50" y="299.70" width="15.60" height="2.55" fill="#5500ff"/>
<rect x="112.50" y="302.10" width="15.60" height="1.55" fill="#7700ff"/>
<rect x="112.50" y="303.50" width="15.60" height="1.75" fill="#5500ff"/>
<rect x="112.50" y="305.10" width="15.60" height="1.55" fill="#8000ff"/>
<rect x="112.50" y="306.50" width="15.60" height="3.05" fill="#5500ff"/>
<rect x="112.50" y="309.40" width="15.60" height="1.15" fill="#7700ff"/>
<rect x="112.50" y="310.40" width="15.60" height="2.95" fill="#5500ff"/>
<rect x="112.50" y="313.20" width="15.60" height="1.15" fill="#9000ff"/>
<rect x="112.50" y="314.20" width="15.60" height="2.15" fill="#5500ff"/>
<rect x="112.50" y="316.20" width="15.60" height="0.95" fill="#5100ff"/>
<rect x="112.50" y="317.00" width="15.60" height="1.55" fill="#9900ff"/>
<rect x="112.50" y="318.40" width="15.60" height="2.15" fill="#5100ff"/>
<rect x="112.50" y="320.40" width="15.60" height="1.15" fill="#8800ff"/>
<rect x="112.50" y="321.40" width="15.60" height="2.15" fill="#5100ff"/>
<rect x="112.50" y="323.40" width="15.60" height="1.15" fill="#9900ff"/>
<rect x="112.50" y="324.40" width="15.60" height="3.45" fill="#5100ff"/>
<rect x="112.50" y="327.70" width="15.60" height="1.35" fill="#8800ff"/>
<rect x="112.50" y="328.90" width="15.60" height="2.75" fill="#5100ff"/>
<rect x="112.50" y="331.50" width="15.60" height="1.15" fill="#8000ff"/>
<rect x="112.50" y="332.50" width="15.60" height="2.95" fill="#5100ff"/>
<rect x="112.50" y="335.30" width="15.60" height="1.35" fill="#9900ff"/>
<rect x="112.50" y="336.50" width="15.60" height="2.75" fill="#5100ff"/>
<rect x="112.50" y="339.10" width="15.60" height="1.15" fill="#9900ff"/>
<rect x="112.50" y="340.10" width="15.60" height="2.55" fill="#5100ff"/>
<rect x="112.50" y="342.50" width="15.60" height="1.15" fill="#8800ff"/>
<rect x="112.50" y="343.50" width="15.60" height="2.15" fill="#5100ff"/>
<rect x="112.50" y="345.50" width="15.60" height="1.55" fill="#9900ff"/>
<rect x="112.50" y="346.90" width="15.60" height="2.55" fill="#5100ff"/>
<rect x="112.50" y="349.30" width="15.60" height="1.35" fill="#9900ff"/>
<rect x="112.50" y="350.50" width="15.60" height="1.95" fill="#5100ff"/>
<rect x="112.50" y="352.30" width="15.60" height="1.35" fill="#8800ff"/>
<rect x="112.50" y="353.50" width="15.60" height="1.95" fill="#5100ff"/>
<rect x="112.50" y="355.30" width="15.60" height="1.55" fill="#a200ff"/>
<rect x="112.50" y="356.70" width="15.60" height="3.05" fill="#5100ff"/>
<rect x="112.50" y="359.60" width="15.60" height="1.55" fill="#8800ff"/>
<rect x="112.50" y="361.00" width="15.60" height="1.75" fill="#5100ff"/>
<rect x="112.50" y="362.60" width="15.60" height="1.35" fill="#9000ff"/>
<rect x="112.50" y="363.80" width="15.60" height="1.05" fill="#5100ff"/>
<rect x="112.50" y="364.70" width="15.60" height="2.35" fill="#4c00ff"/>
<rect x="112.50" y="366.90" width="15.60" height="1.15" fill="#7700ff"/>
<rect x="112.50" y="367.90" width="15.60" height="2.55" fill="#4c00ff"/>
<rect x="112.50" y="370.30" width="15.60" height="1.35" fill="#9000ff"/>
<rect x="112.50" y="371.50" width="15.60" height="3.25" fill="#4c00ff"/>
<rect x="112.50" y="374.60" width="15.60" height="1.55" fill="#9000ff"/>
<rect x="112.50" y="376.00" width="15.60" height="2.55" fill="#4c00ff"/>
<rect x="112.50" y="378.40" width="15.60" height="1.35" fill="#a200ff"/>
<rect x="112.50" y="379.60" width="15.60" height="2.35" fill="#4c00ff"/>
<rect x="112.50" y="381.80" width="15.60" height="1.15" fill="#8000ff"/>
<rect x="112.50" y="382.80" width="15.60" height="2.55" fill="#4c00ff"/>
<rect x="112.50" y="385.20" width="15.60" height="1.35" fill="#7700ff"/>
<rect x="112.50" y="386.40" width="15.60" height="3.65" fill="#4c00ff"/>
<rect x="127.80" y="140.90" width="16.50" height="34.55" fill="#8c00ff"/>
<rect x="127.80" y="175.30" width="16.50" height="0.75" fill="#8800ff"/>
<rect x="127.80" y="175.90" width="16.50" height="0.75" fill="#8400ff"/>
<rect x="127.80" y="176.50" width="16.50" height="0.75" fill="#8000ff"/>
<rect x="127.80" y="177.10" width="16.50" height="0.75" fill="#7b00ff"/>
<rect x="127.80" y="177.70" width="16.50" height="16.75" fill="#7700ff"/>
<rect x="127.80" y="194.30" width="16.50" height="0.85" fill="#7300ff"/>
<rect x="127.80" y="195.00" width="16.50" height="0.85" fill="#6f00ff"/>
<rect x="127.80" y="195.70" width="16.50" height="0.75" fill="#6a00ff"/>
<rect x="127.80" y="196.30" width="16.50" height="0.85" fill="#6600ff"/>
<rect x="127.80" y="197.00" width="16.50" height="0.85" fill="#6200ff"/>
<rect x="127.80" y="197.70" width="16.50" height="14.25" fill="#5d00ff"/>
<rect x="127.80" y="211.80" width="16.50" height="1.35" fill="#ff0040"/>
<rect x="127.80" y="213.00" width="16.50" height="6.65" fill="#ff0015"/>
<rect x="127.80" y="219.50" width="16.50" height="1.25" fill="#ff00b3"/>
<rect x="127.80" y="220.60" width="16.50" height="3.55" fill="#5d00ff"/>
<rect x="127.80" y="224.00" width="16.50" height="1.15" fill="#7700ff"/>
<rect x="127.80" y="225.00" width="16.50" height="3.15" fill="#5d00ff"/>
<rect x="127.80" y="228.00" width="16.50" height="1.15" fill="#7700ff"/>
<rect x="127.80" y="229.00" width="16.50" height="3.55" fill="#5d00ff"/>
<rect x="127.80" y="232.40" width="16.50" height="3.45" fill="#6f00ff"/>
<rect x="127.80" y="235.70" width="16.50" height="3.95" fill="#5d00ff"/>
<rect x="127.80" y="239.50" width="16.50" height="2.85" fill="#5900ff"/>
<rect x="127.80" y="242.20" width="16.50" height="2.95" fill="#ff001a"/>
<rect x="127.80" y="245.00" width="16.50" height="1.45" fill="#ff00ff"/>
<rect x="127.80" y="246.30" width="16.50" height="0.65" fill="#5900ff"/>
<rect x="127.80" y="246.80" width="16.50" height="0.85" fill="#aa00ff"/>
<rect x="127.80" y="247.50" width="16.50" height="1.95" fill="#5900ff"/>
<rect x="127.80" y="249.30" width="16.50" height="0.85" fill="#9000ff"/>
<rect x="127.80" y="250.00" width="16.50" height="2.45" fill="#5900ff"/>
<rect x="127.80" y="252.30" width="16.50" height="0.85" fill="#7700ff"/>
<rect x="127.80" y="253.00" width="16.50" height="0.75" fill="#5900ff"/>
<rect x="127.80" y="253.60" width="16.50" height="0.75" fill="#8800ff"/>
<rect x="127.80" y="254.20" width="16.50" height="1.55" fill="#5900ff"/>
<rect x="127.80" y="255.60" width="16.50" height="1.55" fill="#ff00f2"/>
<rect x="127.80" y="257.00" width="16.50" height="1.05" fill="#5900ff"/>
<rect x="127.80" y="257.90" width="16.50" height="0.85" fill="#9900ff"/>
<rect x="127.80" y="258.60" width="16.50" height="1.05" fill="#5900ff"/>
<rect x="127.80" y="259.50" width="16.50" height="0.85" fill="#8800ff"/>
<rect x="127.80" y="260.20" width="16.50" height="1.15" fill="#5900ff"/>
<rect x="127.80" y="261.20" width="16.50" height="0.75" fill="#8000ff"/>
<rect x="127.80" y="261.80" width="16.50" height="1.05" fill="#5900ff"/>
<rect x="127.80" y="262.70" width="16.50" height="1.45" fill="#f700ff"/>
<rect x="127.80" y="264.00" width="16.50" height="1.05" fill="#5900ff"/>
<rect x="127.80" y="264.90" width="16.50" height="0.75" fill="#9900ff"/>
<rect x="127.80" y="265.50" width="16.50" height="1.15" fill="#5900ff"/>
<rect x="127.80" y="266.50" width="16.50" height="0.85" fill="#8000ff"/>
<rect x="127.80" y="267.20" width="16.50" height="1.35" fill="#5900ff"/>
<rect x="127.80" y="268.40" width="16.50" height="0.75" fill="#8000ff"/>
<rect x="127.80" y="269.00" width="16.50" height="1.15" fill="#5900ff"/>
<rect x="127.80" y="270.00" width="16.50" height="1.35" fill="#b700ff"/>
<rect x="127.80" y="271.20" width="16.50" height="2.45" fill="#5900ff"/>
<rect x="127.80" y="273.50" width="16.50" height="0.85" fill="#7700ff"/>
<rect x="127.80" y="274.20" width="16.50" height="0.45" fill="#5900ff"/>
<rect x="127.80" y="274.50" width="16.50" height="1.65" fill="#5500ff"/>
<rect x="127.80" y="276.00" width="16.50" height="1.15" fill="#8800ff"/>
<rect x="127.80" y="277.00" width="16.50" height="1.55" fill="#5500ff"/>
<rect x="127.80" y="278.40" width="16.50" height="0.75" fill="#8800ff"/>
<rect x="127.80" y="279.00" width="16.50" height="1.75" fill="#5500ff"/>
<rect x="127.80" y="280.60" width="16.50" height="1.15" fill="#7700ff"/>
<rect x="127.80" y="281.60" width="16.50" height="1.15" fill="#5500ff"/>
<rect x="127.80" y="282.60" width="16.50" height="0.75" fill="#8800ff"/>
<rect x="127.80" y="283.20" width="16.50" height="1.95" fill="#5500ff"/>
<rect x="127.80" y="285.00" width="16.50" height="1.45" fill="#8000ff"/>
<rect x="127.80" y="286.30" width="16.50" height="2.45" fill="#5500ff"/>
<rect x="127.80" y="288.60" width="16.50" height="1.05" fill="#7700ff"/>
<rect x="127.80" y="289.50" width="16.50" height="1.25" fill="#5500ff"/>
<rect x="127.80" y="290.60" width="16.50" height="0.75" fill="#8000ff"/>
<rect x="127.80" y="291.20" width="16.50" height="1.25" fill="#5500ff"/>
<rect x="127.80" y="292.30" width="16.50" height="1.15" fill="#8800ff"/>
<rect x="127.80" y="293.30" width="16.50" height="2.15" fill="#5500ff"/>
<rect x="127.80" y="295.30" width="16.50" height="1.15" fill="#9900ff"/>
<rect x="127.80" y="296.30" width="16.50" height="2.55" fill="#5500ff"/>
<rect x="127.80" y="298.70" width="16.50" height="1.15" fill="#7700ff"/>
<rect x="127.80" y="299.70" width="16.50" height="2.55" fill="#5500ff"/>
<rect x="127.80" y="302.10" width="16.50" height="1.55" fill="#7700ff"/>
<rect x="127.80" y="303.50" width="16.50" height="1.75" fill="#5500ff"/>
<rect x="127.80" y="305.10" width="16.50" height="1.55" fill="#8000ff"/>
<rect x="127.80" y="306.50" width="16.50" height="3.05" fill="#5500ff"/>
<rect x="127.80" y="309.40" width="16.50" height="1.15" fill="#7700ff"/>
<rect x="127.80" y="310.40" width="16.50" height="2.95" fill="#5500ff"/>
<rect x="127.80" y="313.20" width="16.50" height="1.15" fill="#9000ff"/>
<rect x="127.80" y="314.20" width="16.50" height="2.15" fill="#5500ff"/>
<rect x="127.80" y="316.20" width="16.50" height="0.95" fill="#5100ff"/>
<rect x="127.80" y="317.00" width="16.50" height="1.55" fill="#9900ff"/>
<rect x="127.80" y="318.40" width="16.50" height="2.15" fill="#5100ff"/>
<rect x="127.80" y="320.40" width="16.50" height="1.15" fill="#8800ff"/>
<rect x="127.80" y="321.40" width="16.50" height="2.15" fill="#5100ff"/>
<rect x="127.80" y="323.40" width="16.50" height="1.15" fill="#9900ff"/>
<rect x="127.80" y="324.40" width="16.50" height="3.45" fill="#5100ff"/>
<rect x="127.80" y="327.70" width="16.50" height="1.35" fill="#8800ff"/>
<rect x="127.80" y="328.90" width="16.50" height="2.75" fill="#5100ff"/>
<rect x="127.80" y="331.50" width="16.50" height="1.15" fill="#8000ff"/>
<rect x="127.80" y="332.50" width="16.50" height="2.95" fill="#5100ff"/>
<rect x="127.80" y="335.30" width="16.50" height="1.35" fill="#9900ff"/>
<rect x="127.80" y="336.50" width="16.50" height="2.75" fill="#5100ff"/>
<rect x="127.80" y="339.10" width="16.50" height="1.15" fill="#9900ff"/>
<rect x="127.80" y="340.10" width="16.50" height="2.55" fill="#5100ff"/>
<rect x="127.80" y="342.50" width="16.50" height="1.15" fill="#8800ff"/>
<rect x="127.80" y="343.50" width="16.50" height="2.15" fill="#5100ff"/>
<rect x="127.80" y="345.50" width="16.50" height="1.55" fill="#9900ff"/>
<rect x="127.80" y="346.90" width="16.50" height="2.55" fill="#5100ff"/>
<rect x="127.80" y="349.30" width="16.50" height="1.35" fill="#9900ff"/>
<rect x="127.80" y="350.50" width="16.50" height="1.95" fill="#5100ff"/>
<rect x="127.80" y="352.30" width="16.50" height="1.35" fill="#8800ff"/>
<rect x="127.80" y="353.50" width="16.50" height="1.95" fill="#5100ff"/>
<rect x="127.80" y="355.30" width="16.50" height="1.55" fill="#a200ff"/>
<rect x="127.80" y="356.70" width="16.50" height="3.05" fill="#5100ff"/>
<rect x="127.80" y="359.60" width="16.50" height="1.55" fill="#8800ff"/>
<rect x="127.80" y="361.00" width="16.50" height="1.75" fill="#5100ff"/>
<rect x="127.80" y="362.60" width="16.50" height="1.35" fill="#9000ff"/>
<rect x="127.80" y="363.80" width="16.50" height="1.05" fill="#5100ff"/>
<rect x="127.80" y="364.70" width="16.50" height="2.35" fill="#4c00ff"/>
<rect x="127.80" y="366.90" width="16.50" height="1.15" fill="#7700ff"/>
<rect x="127.80" y="367.90" width="16.50" height="2.55" fill="#4c00ff"/>
<rect x="127.80" y="370.30" width="16.50" height="1.35" fill="#9000ff"/>
<rect x="127.80" y="371.50" width="16.50" height="3.25" fill="#4c00ff"/>
<rect x="127.80" y="374.60" width="16.50" height="1.55" fill="#9000ff"/>
<rect x="127.80" y="376.00" width="16.50" height="2.55" fill="#4c00ff"/>
<rect x="127.80" y="378.40" width="16.50" height="1.35" fill="#a200ff"/>
<rect x="127.80" y="379.60" width="16.50" height="2.35" fill="#4c00ff"/>
<rect x="127.80" y="381.80" width="16.50" height="1.15" fill="#8000ff"/>
<rect x="127.80" y="382.80" width="16.50" height="2.55" fill="#4c00ff"/>
<rect x="127.80" y="385.20" width="16.50" height="1.35" fill="#7700ff"/>
<rect x="127.80" y="386.40" width="16.50" height="3.65" fill="#4c00ff"/>
<rect x="144.00" y="140.90" width="3.10" height="34.55" fill="#9500ff"/>
<rect x="144.00" y="175.30" width="3.10" height="0.75" fill="#9000ff"/>
<rect x="144.00" y="175.90" width="3.10" height="0.75" fill="#8c00ff"/>
<rect x="144.00" y="176.50" width="3.10" height="0.75" fill="#8800ff"/>
<rect x="144.00" y="177.10" width="3.10" height="0.75" fill="#8400ff"/>
<rect x="144.00" y="177.70" width="3.10" height="4.45" fill="#8000ff"/>
<rect x="144.00" y="182.00" width="3.10" height="8.15" fill="#7b00ff"/>
<rect x="144.00" y="190.00" width="3.10" height="4.35" fill="#7700ff"/>
<rect x="144.00" y="194.20" width="3.10" height="0.55" fill="#7300ff"/>
<rect x="144.00" y="194.60" width="3.10" height="0.55" fill="#6f00ff"/>
<rect x="144.00" y="195.00" width="3.10" height="0.55" fill="#6a00ff"/>
<rect x="144.00" y="195.40" width="3.10" height="0.55" fill="#6600ff"/>
<rect x="144.00" y="195.80" width="3.10" height="0.55" fill="#6200ff"/>
<rect x="144.00" y="196.20" width="3.10" height="0.55" fill="#5d00ff"/>
<rect x="144.00" y="196.60" width="3.10" height="0.55" fill="#5900ff"/>
<rect x="144.00" y="197.00" width="3.10" height="0.55" fill="#5500ff"/>
<rect x="144.00" y="197.40" width="3.10" height="0.55" fill="#5100ff"/>
<rect x="144.00" y="197.80" width="3.10" height="6.35" fill="#4c00ff"/>
<rect x="144.00" y="204.00" width="3.10" height="9.15" fill="#5100ff"/>
<rect x="144.00" y="213.00" width="3.10" height="3.85" fill="#ff0015"/>
<rect x="144.00" y="216.70" width="3.10" height="2.95" fill="#ff005e"/>
<rect x="144.00" y="219.50" width="3.10" height="1.05" fill="#ff0080"/>
<rect x="144.00" y="220.40" width="3.10" height="5.85" fill="#ff00b3"/>
<rect x="144.00" y="226.10" width="3.10" height="17.95" fill="#5500ff"/>
<rect x="144.00" y="243.90" width="3.10" height="2.55" fill="#ff0080"/>
<rect x="144.00" y="246.30" width="3.10" height="9.45" fill="#5500ff"/>
<rect x="144.00" y="255.60" width="3.10" height="1.55" fill="#c300ff"/>
<rect x="144.00" y="257.00" width="3.10" height="5.85" fill="#5500ff"/>
<rect x="144.00" y="262.70" width="3.10" height="1.45" fill="#ff0088"/>
<rect x="144.00" y="264.00" width="3.10" height="6.15" fill="#5100ff"/>
<rect x="144.00" y="270.00" width="3.10" height="1.35" fill="#ff005e"/>
<rect x="144.00" y="271.20" width="3.10" height="4.95" fill="#5100ff"/>
<rect x="144.00" y="276.00" width="3.10" height="1.15" fill="#ff00aa"/>
<rect x="144.00" y="277.00" width="3.10" height="6.65" fill="#5100ff"/>
<rect x="144.00" y="283.50" width="3.10" height="0.95" fill="#ff00ff"/>
<rect x="144.00" y="284.30" width="3.10" height="4.45" fill="#5100ff"/>
<rect x="144.00" y="288.60" width="3.10" height="1.05" fill="#ff00ff"/>
<rect x="144.00" y="289.50" width="3.10" height="2.95" fill="#5100ff"/>
<rect x="144.00" y="292.30" width="3.10" height="1.15" fill="#7700ff"/>
<rect x="144.00" y="293.30" width="3.10" height="2.15" fill="#5100ff"/>
<rect x="144.00" y="295.30" width="3.10" height="1.15" fill="#8800ff"/>
<rect x="144.00" y="296.30" width="3.10" height="2.55" fill="#5100ff"/>
<rect x="144.00" y="298.70" width="3.10" height="1.15" fill="#6600ff"/>
<rect x="144.00" y="299.70" width="3.10" height="2.55" fill="#5100ff"/>
<rect x="144.00" y="302.10" width="3.10" height="1.55" fill="#6600ff"/>
<rect x="144.00" y="303.50" width="3.10" height="1.75" fill="#5100ff"/>
<rect x="144.00" y="305.10" width="3.10" height="1.55" fill="#6f00ff"/>
<rect x="144.00" y="306.50" width="3.10" height="3.05" fill="#5100ff"/>
<rect x="144.00" y="309.40" width="3.10" height="1.15" fill="#6600ff"/>
<rect x="144.00" y="310.40" width="3.10" height="2.95" fill="#5100ff"/>
<rect x="144.00" y="313.20" width="3.10" height="1.15" fill="#8000ff"/>
<rect x="144.00" y="314.20" width="3.10" height="2.95" fill="#5100ff"/>
<rect x="144.00" y="317.00" width="3.10" height="1.55" fill="#8800ff"/>
<rect x="144.00" y="318.40" width="3.10" height="2.15" fill="#5100ff"/>
<rect x="144.00" y="320.40" width="3.10" height="1.15" fill="#7700ff"/>
<rect x="144.00" y="321.40" width="3.10" height="2.15" fill="#5100ff"/>
<rect x="144.00" y="323.40" width="3.10" height="1.15" fill="#8800ff"/>
<rect x="144.00" y="324.40" width="3.10" height="3.45" fill="#5100ff"/>
<rect x="144.00" y="327.70" width="3.10" height="1.35" fill="#7700ff"/>
<rect x="144.00" y="328.90" width="3.10" height="2.75" fill="#5100ff"/>
<rect x="144.00" y="331.50" width="3.10" height="1.15" fill="#6f00ff"/>
<rect x="144.00" y="332.50" width="3.10" height="2.95" fill="#5100ff"/>
<rect x="144.00" y="335.30" width="3.10" height="1.35" fill="#8800ff"/>
<rect x="144.00" y="336.50" width="3.10" height="2.75" fill="#5100ff"/>
<rect x="144.00" y="339.10" width="3.10" height="1.15" fill="#8800ff"/>
<rect x="144.00" y="340.10" width="3.10" height="2.55" fill="#5100ff"/>
<rect x="144.00" y="342.50" width="3.10" height="1.15" fill="#7700ff"/>
<rect x="144.00" y="343.50" width="3.10" height="2.15" fill="#5100ff"/>
<rect x="144.00" y="345.50" width="3.10" height="1.55" fill="#8800ff"/>
<rect x="144.00" y="346.90" width="3.10" height="0.45" fill="#5100ff"/>
<rect x="144.00" y="347.20" width="3.10" height="2.25" fill="#4c00ff"/>
<rect x="144.00" y="349.30" width="3.10" height="1.35" fill="#8800ff"/>
<rect x="144.00" y="350.50" width="3.10" height="1.95" fill="#4c00ff"/>
<rect x="144.00" y="352.30" width="3.10" height="1.35" fill="#7700ff"/>
<rect x="144.00" y="353.50" width="3.10" height="1.95" fill="#4c00ff"/>
<rect x="144.00" y="355.30" width="3.10" height="1.55" fill="#9000ff"/>
<rect x="144.00" y="356.70" width="3.10" height="3.05" fill="#4c00ff"/>
<rect x="144.00" y="359.60" width="3.10" height="1.55" fill="#7700ff"/>
<rect x="144.00" y="361.00" width="3.10" height="1.75" fill="#4c00ff"/>
<rect x="144.00" y="362.60" width="3.10" height="1.35" fill="#8000ff"/>
<rect x="144.00" y="363.80" width="3.10" height="3.25" fill="#4c00ff"/>
<rect x="144.00" y="366.90" width="3.10" height="1.15" fill="#6600ff"/>
<rect x="144.00" y="367.90" width="3.10" height="2.55" fill="#4c00ff"/>
<rect x="144.00" y="370.30" width="3.10" height="1.35" fill="#8000ff"/>
<rect x="144.00" y="371.50" width="3.10" height="3.25" fill="#4c00ff"/>
<rect x="144.00" y="374.60" width="3.10" height="1.55" fill="#8000ff"/>
<rect x="144.00" y="376.00" width="3.10" height="2.55" fill="#4c00ff"/>
<rect x="144.00" y="378.40" width="3.10" height="1.35" fill="#9000ff"/>
<rect x="144.00" y="379.60" width="3.10" height="2.35" fill="#4c00ff"/>
<rect x="144.00" y="381.80" width="3.10" height="1.15" fill="#6f00ff"/>
<rect x="144.00" y="382.80" width="3.10" height="2.55" fill="#4c00ff"/>
<rect x="144.00" y="385.20" width="3.10" height="1.35" fill="#6600ff"/>
<rect x="144.00" y="386.40" width="3.10" height="3.65" fill="#4c00ff"/>
<rect x="146.80" y="140.90" width="4.20" height="43.45" fill="#d500ff"/>
<rect x="146.80" y="184.20" width="4.20" height="0.55" fill="#d000ff"/>
<rect x="146.80" y="184.60" width="4.20" height="0.55" fill="#cc00ff"/>
<rect x="146.80" y="185.00" width="4.20" height="0.55" fill="#c800ff"/>
<rect x="146.80" y="185.40" width="4.20" height="0.55" fill="#c300ff"/>
<rect x="146.80" y="185.80" width="4.20" height="0.55" fill="#bf00ff"/>
<rect x="146.80" y="186.20" width="4.20" height="0.55" fill="#bb00ff"/>
<rect x="146.80" y="186.60" width="4.20" height="0.55" fill="#b700ff"/>
<rect x="146.80" y="187.00" width="4.20" height="0.55" fill="#b300ff"/>
<rect x="146.80" y="187.40" width="4.20" height="0.55" fill="#ae00ff"/>
<rect x="146.80" y="187.80" width="4.20" height="1.65" fill="#aa00ff"/>
<rect x="146.80" y="189.30" width="4.20" height="2.65" fill="#a600ff"/>
<rect x="146.80" y="191.80" width="4.20" height="1.45" fill="#a200ff"/>
<rect x="146.80" y="193.10" width="4.20" height="0.35" fill="#9d00ff"/>
<rect x="146.80" y="193.30" width="4.20" height="0.35" fill="#9900ff"/>
<rect x="146.80" y="193.50" width="4.20" height="0.25" fill="#9500ff"/>
<rect x="146.80" y="193.60" width="4.20" height="0.35" fill="#9000ff"/>
<rect x="146.80" y="193.80" width="4.20" height="0.35" fill="#8c00ff"/>
<rect x="146.80" y="194.00" width="4.20" height="0.35" fill="#8800ff"/>
<rect x="146.80" y="194.20" width="4.20" height="0.35" fill="#8400ff"/>
<rect x="146.80" y="194.40" width="4.20" height="0.25" fill="#8000ff"/>
<rect x="146.80" y="194.50" width="4.20" height="0.35" fill="#7b00ff"/>
<rect x="146.80" y="194.70" width="4.20" height="0.35" fill="#7700ff"/>
<rect x="146.80" y="194.90" width="4.20" height="0.35" fill="#7300ff"/>
<rect x="146.80" y="195.10" width="4.20" height="0.35" fill="#6f00ff"/>
<rect x="146.80" y="195.30" width="4.20" height="0.35" fill="#6a00ff"/>
<rect x="146.80" y="195.50" width="4.20" height="0.25" fill="#6600ff"/>
<rect x="146.80" y="195.60" width="4.20" height="0.35" fill="#6200ff"/>
<rect x="146.80" y="195.80" width="4.20" height="0.35" fill="#5d00ff"/>
<rect x="146.80" y="196.00" width="4.20" height="0.35" fill="#5900ff"/>
<rect x="146.80" y="196.20" width="4.20" height="0.35" fill="#5500ff"/>
<rect x="146.80" y="196.40" width="4.20" height="0.25" fill="#5100ff"/>
<rect x="146.80" y="196.50" width="4.20" height="0.35" fill="#4c00ff"/>
<rect x="146.80" y="196.70" width="4.20" height="0.35" fill="#4800ff"/>
<rect x="146.80" y="196.90" width="4.20" height="13.55" fill="#4400ff"/>
<rect x="146.80" y="210.30" width="4.20" height="2.85" fill="#4800ff"/>
<rect x="146.80" y="213.00" width="4.20" height="3.85" fill="#ff002b"/>
<rect x="146.80" y="216.70" width="4.20" height="3.15" fill="#4c00ff"/>
<rect x="146.80" y="219.70" width="4.20" height="15.45" fill="#5100ff"/>
<rect x="146.80" y="235.00" width="4.20" height="2.35" fill="#f700ff"/>
<rect x="146.80" y="237.20" width="4.20" height="6.85" fill="#5100ff"/>
<rect x="146.80" y="243.90" width="4.20" height="1.25" fill="#ff00bf"/>
<rect x="146.80" y="245.00" width="4.20" height="1.45" fill="#ff00b3"/>
<rect x="146.80" y="246.30" width="4.20" height="46.15" fill="#5100ff"/>
<rect x="146.80" y="292.30" width="4.20" height="1.15" fill="#7700ff"/>
<rect x="146.80" y="293.30" width="4.20" height="2.15" fill="#5100ff"/>
<rect x="146.80" y="295.30" width="4.20" height="1.15" fill="#8800ff"/>
<rect x="146.80" y="296.30" width="4.20" height="2.55" fill="#5100ff"/>
<rect x="146.80" y="298.70" width="4.20" height="1.15" fill="#6600ff"/>
<rect x="146.80" y="299.70" width="4.20" height="2.55" fill="#5100ff"/>
<rect x="146.80" y="302.10" width="4.20" height="1.55" fill="#4c00ff"/>
<rect x="146.80" y="303.50" width="4.20" height="1.75" fill="#5100ff"/>
<rect x="146.80" y="305.10" width="4.20" height="1.55" fill="#6f00ff"/>
<rect x="146.80" y="306.50" width="4.20" height="3.05" fill="#5500ff"/>
<rect x="146.80" y="309.40" width="4.20" height="1.15" fill="#6600ff"/>
<rect x="146.80" y="310.40" width="4.20" height="2.95" fill="#5500ff"/>
<rect x="146.80" y="313.20" width="4.20" height="1.15" fill="#6600ff"/>
<rect x="146.80" y="314.20" width="4.20" height="2.95" fill="#5500ff"/>
<rect x="146.80" y="317.00" width="4.20" height="1.55" fill="#6f00ff"/>
<rect x="146.80" y="318.40" width="4.20" height="2.15" fill="#5500ff"/>
<rect x="146.80" y="320.40" width="4.20" height="1.15" fill="#7700ff"/>
<rect x="146.80" y="321.40" width="4.20" height="1.25" fill="#5500ff"/>
<rect x="146.80" y="322.50" width="4.20" height="1.05" fill="#7700ff"/>
<rect x="146.80" y="323.40" width="4.20" height="1.15" fill="#6f00ff"/>
<rect x="146.80" y="324.40" width="4.20" height="3.45" fill="#5500ff"/>
<rect x="146.80" y="327.70" width="4.20" height="1.35" fill="#6600ff"/>
<rect x="146.80" y="328.90" width="4.20" height="2.75" fill="#5500ff"/>
<rect x="146.80" y="331.50" width="4.20" height="1.15" fill="#6f00ff"/>
<rect x="146.80" y="332.50" width="4.20" height="2.95" fill="#5500ff"/>
<rect x="146.80" y="335.30" width="4.20" height="1.35" fill="#7700ff"/>
<rect x="146.80" y="336.50" width="4.20" height="2.75" fill="#5500ff"/>
<rect x="146.80" y="339.10" width="4.20" height="1.15" fill="#7700ff"/>
<rect x="146.80" y="340.10" width="4.20" height="2.55" fill="#5500ff"/>
<rect x="146.80" y="342.50" width="4.20" height="1.15" fill="#7700ff"/>
<rect x="146.80" y="343.50" width="4.20" height="2.15" fill="#5500ff"/>
<rect x="146.80" y="345.50" width="4.20" height="1.55" fill="#6f00ff"/>
<rect x="146.80" y="346.90" width="4.20" height="2.55" fill="#5500ff"/>
<rect x="146.80" y="349.30" width="4.20" height="1.35" fill="#8800ff"/>
<rect x="146.80" y="350.50" width="4.20" height="1.95" fill="#5500ff"/>
<rect x="146.80" y="352.30" width="4.20" height="1.35" fill="#7700ff"/>
<rect x="146.80" y="353.50" width="4.20" height="1.95" fill="#5500ff"/>
<rect x="146.80" y="355.30" width="4.20" height="1.55" fill="#7700ff"/>
<rect x="146.80" y="356.70" width="4.20" height="3.05" fill="#5500ff"/>
<rect x="146.80" y="359.60" width="4.20" height="1.55" fill="#6600ff"/>
<rect x="146.80" y="361.00" width="4.20" height="1.75" fill="#5500ff"/>
<rect x="146.80" y="362.60" width="4.20" height="1.35" fill="#8000ff"/>
<rect x="146.80" y="363.80" width="4.20" height="3.25" fill="#5500ff"/>
<rect x="146.80" y="366.90" width="4.20" height="1.15" fill="#4c00ff"/>
<rect x="146.80" y="367.90" width="4.20" height="2.55" fill="#5500ff"/>
<rect x="146.80" y="370.30" width="4.20" height="1.35" fill="#8000ff"/>
<rect x="146.80" y="371.50" width="4.20" height="3.25" fill="#5500ff"/>
<rect x="146.80" y="374.60" width="4.20" height="1.55" fill="#6f00ff"/>
<rect x="146.80" y="376.00" width="4.20" height="2.55" fill="#5500ff"/>
<rect x="146.80" y="378.40" width="4.20" height="1.35" fill="#8000ff"/>
<rect x="146.80" y="379.60" width="4.20" height="2.35" fill="#5500ff"/>
<rect x="146.80" y="381.80" width="4.20" height="1.15" fill="#6f00ff"/>
<rect x="146.80" y="382.80" width="4.20" height="7.25" fill="#5500ff"/>
<rect x="150.70" y="140.90" width="4.90" height="43.45" fill="#d500ff"/>
<rect x="150.70" y="184.20" width="4.90" height="0.55" fill="#d000ff"/>
<rect x="150.70" y="184.60" width="4.90" height="0.55" fill="#cc00ff"/>
<rect x="150.70" y="185.00" width="4.90" height="0.55" fill="#c800ff"/>
<rect x="150.70" y="185.40" width="4.90" height="0.55" fill="#c300ff"/>
<rect x="150.70" y="185.80" width="4.90" height="0.55" fill="#bf00ff"/>
<rect x="150.70" y="186.20" width="4.90" height="0.55" fill="#bb00ff"/>
<rect x="150.70" y="186.60" width="4.90" height="0.55" fill="#b700ff"/>
<rect x="150.70" y="187.00" width="4.90" height="0.55" fill="#b300ff"/>
<rect x="150.70" y="187.40" width="4.90" height="0.55" fill="#ae00ff"/>
<rect x="150.70" y="187.80" width="4.90" height="1.65" fill="#aa00ff"/>
<rect x="150.70" y="189.30" width="4.90" height="2.65" fill="#a600ff"/>
<rect x="150.70" y="191.80" width="4.90" height="1.45" fill="#a200ff"/>
<rect x="150.70" y="193.10" width="4.90" height="0.35" fill="#9d00ff"/>
<rect x="150.70" y="193.30" width="4.90" height="0.35" fill="#9900ff"/>
<rect x="150.70" y="193.50" width="4.90" height="0.25" fill="#9500ff"/>
<rect x="150.70" y="193.60" width="4.90" height="0.35" fill="#9000ff"/>
<rect x="150.70" y="193.80" width="4.90" height="0.35" fill="#8c00ff"/>
<rect x="150.70" y="194.00" width="4.90" height="0.35" fill="#8800ff"/>
<rect x="150.70" y="194.20" width="4.90" height="0.35" fill="#8400ff"/>
<rect x="150.70" y="194.40" width="4.90" height="0.25" fill="#8000ff"/>
<rect x="150.70" y="194.50" width="4.90" height="0.35" fill="#7b00ff"/>
<rect x="150.70" y="194.70" width="4.90" height="0.35" fill="#7700ff"/>
<rect x="150.70" y="194.90" width="4.90" height="0.35" fill="#7300ff"/>
<rect x="150.70" y="195.10" width="4.90" height="0.35" fill="#6f00ff"/>
<rect x="150.70" y="195.30" width="4.90" height="0.35" fill="#6a00ff"/>
<rect x="150.70" y="195.50" width="4.90" height="0.25" fill="#6600ff"/>
<rect x="150.70" y="195.60" width="4.90" height="0.35" fill="#6200ff"/>
<rect x="150.70" y="195.80" width="4.90" height="0.35" fill="#5d00ff"/>
<rect x="150.70" y="196.00" width="4.90" height="0.35" fill="#5900ff"/>
<rect x="150.70" y="196.20" width="4.90" height="0.35" fill="#5500ff"/>
<rect x="150.70" y="196.40" width="4.90" height="0.25" fill="#5100ff"/>
<rect x="150.70" y="196.50" width="4.90" height="0.35" fill="#4c00ff"/>
<rect x="150.70" y="196.70" width="4.90" height="0.35" fill="#4800ff"/>
<rect x="150.70" y="196.90" width="4.90" height="13.55" fill="#4400ff"/>
<rect x="150.70" y="210.30" width="4.90" height="2.85" fill="#4800ff"/>
<rect x="150.70" y="213.00" width="4.90" height="3.85" fill="#ff002b"/>
<rect x="150.70" y="216.70" width="4.90" height="3.15" fill="#4c00ff"/>
<rect x="150.70" y="219.70" width="4.90" height="15.45" fill="#5100ff"/>
<rect x="150.70" y="235.00" width="4.90" height="2.35" fill="#f700ff"/>
<rect x="150.70" y="237.20" width="4.90" height="6.85" fill="#5100ff"/>
<rect x="150.70" y="243.90" width="4.90" height="1.25" fill="#ff00bf"/>
<rect x="150.70" y="245.00" width="4.90" height="1.45" fill="#ff00b3"/>
<rect x="150.70" y="246.30" width="4.90" height="46.15" fill="#5100ff"/>
<rect x="150.70" y="292.30" width="4.90" height="1.15" fill="#7700ff"/>
<rect x="150.70" y="293.30" width="4.90" height="2.15" fill="#5100ff"/>
<rect x="150.70" y="295.30" width="4.90" height="1.15" fill="#8800ff"/>
<rect x="150.70" y="296.30" width="4.90" height="2.55" fill="#5100ff"/>
<rect x="150.70" y="298.70" width="4.90" height="1.15" fill="#6600ff"/>
<rect x="150.70" y="299.70" width="4.90" height="2.55" fill="#5100ff"/>
<rect x="150.70" y="302.10" width="4.90" height="1.55" fill="#4c00ff"/>
<rect x="150.70" y="303.50" width="4.90" height="1.75" fill="#5100ff"/>
<rect x="150.70" y="305.10" width="4.90" height="1.55" fill="#6f00ff"/>
<rect x="150.70" y="306.50" width="4.90" height="3.05" fill="#5500ff"/>
<rect x="150.70" y="309.40" width="4.90" height="1.15" fill="#6600ff"/>
<rect x="150.70" y="310.40" width="4.90" height="2.95" fill="#5500ff"/>
<rect x="150.70" y="313.20" width="4.90" height="1.15" fill="#6600ff"/>
<rect x="150.70" y="314.20" width="4.90" height="2.95" fill="#5500ff"/>
<rect x="150.70" y="317.00" width="4.90" height="1.55" fill="#6f00ff"/>
<rect x="150.70" y="318.40" width="4.90" height="2.15" fill="#5500ff"/>
<rect x="150.70" y="320.40" width="4.90" height="1.15" fill="#7700ff"/>
<rect x="150.70" y="321.40" width="4.90" height="1.25" fill="#5500ff"/>
<rect x="150.70" y="322.50" width="4.90" height="1.05" fill="#7700ff"/>
<rect x="150.70" y="323.40" width="4.90" height="1.15" fill="#6f00ff"/>
<rect x="150.70" y="324.40" width="4.90" height="3.45" fill="#5500ff"/>
<rect x="150.70" y="327.70" width="4.90" height="1.35" fill="#6600ff"/>
<rect x="150.70" y="328.90" width="4.90" height="2.75" fill="#5500ff"/>
<rect x="150.70" y="331.50" width="4.90" height="1.15" fill="#6f00ff"/>
<rect x="150.70" y="332.50" width="4.90" height="2.95" fill="#5500ff"/>
<rect x="150.70" y="335.30" width="4.90" height="1.35" fill="#7700ff"/>
<rect x="150.70" y="336.50" width="4.90" height="2.75" fill="#5500ff"/>
<rect x="150.70" y="339.10" width="4.90" height="1.15" fill="#7700ff"/>
<rect x="150.70" y="340.10" width="4.90" height="2.55" fill="#5500ff"/>
<rect x="150.70" y="342.50" width="4.90" height="1.15" fill="#7700ff"/>
<rect x="150.70" y="343.50" width="4.90" height="2.15" fill="#5500ff"/>
<rect x="150.70" y="345.50" width="4.90" height="1.55" fill="#6f00ff"/>
<rect x="150.70" y="346.90" width="4.90" height="2.55" fill="#5500ff"/>
<rect x="150.70" y="349.30" width="4.90" height="1.35" fill="#8800ff"/>
<rect x="150.70" y="350.50" width="4.90" height="1.95" fill="#5500ff"/>
<rect x="150.70" y="352.30" width="4.90" height="1.35" fill="#7700ff"/>
<rect x="150.70" y="353.50" width="4.90" height="1.95" fill="#5500ff"/>
<rect x="150.70" y="355.30" width="4.90" height="1.55" fill="#7700ff"/>
<rect x="150.70" y="356.70" width="4.90" height="3.05" fill="#5500ff"/>
<rect x="150.70" y="359.60" width="4.90" height="1.55" fill="#6600ff"/>
<rect x="150.70" y="361.00" width="4.90" height="1.75" fill="#5500ff"/>
<rect x="150.70" y="362.60" width="4.90" height="1.35" fill="#8000ff"/>
<rect x="150.70" y="363.80" width="4.90" height="3.25" fill="#5500ff"/>
<rect x="150.70" y="366.90" width="4.90" height="1.15" fill="#4c00ff"/>
<rect x="150.70" y="367.90" width="4.90" height="2.55" fill="#5500ff"/>
<rect x="150.70" y="370.30" width="4.90" height="1.35" fill="#8000ff"/>
<rect x="150.70" y="371.50" width="4.90" height="3.25" fill="#5500ff"/>
<rect x="150.70" y="374.60" width="4.90" height="1.55" fill="#6f00ff"/>
<rect x="150.70" y="376.00" width="4.90" height="2.55" fill="#5500ff"/>
<rect x="150.70" y="378.40" width="4.90" height="1.35" fill="#8000ff"/>
<rect x="150.70" y="379.60" width="4.90" height="2.35" fill="#5500ff"/>
<rect x="150.70" y="381.80" width="4.90" height="1.15" fill="#6f00ff"/>
<rect x="150.70" y="382.80" width="4.90" height="7.25" fill="#5500ff"/>
<rect x="155.30" y="140.90" width="1.60" height="43.45" fill="#ff00ff"/>
<rect x="155.30" y="184.20" width="1.60" height="0.45" fill="#fb00ff"/>
<rect x="155.30" y="184.50" width="1.60" height="0.45" fill="#f700ff"/>
<rect x="155.30" y="184.80" width="1.60" height="0.55" fill="#f200ff"/>
<rect x="155.30" y="185.20" width="1.60" height="0.45" fill="#ee00ff"/>
<rect x="155.30" y="185.50" width="1.60" height="0.45" fill="#ea00ff"/>
<rect x="155.30" y="185.80" width="1.60" height="0.55" fill="#e600ff"/>
<rect x="155.30" y="186.20" width="1.60" height="0.45" fill="#e100ff"/>
<rect x="155.30" y="186.50" width="1.60" height="0.45" fill="#dd00ff"/>
<rect x="155.30" y="186.80" width="1.60" height="0.55" fill="#d900ff"/>
<rect x="155.30" y="187.20" width="1.60" height="0.45" fill="#d500ff"/>
<rect x="155.30" y="187.50" width="1.60" height="0.45" fill="#d000ff"/>
<rect x="155.30" y="187.80" width="1.60" height="0.95" fill="#cc00ff"/>
<rect x="155.30" y="188.60" width="1.60" height="1.45" fill="#c800ff"/>
<rect x="155.30" y="189.90" width="1.60" height="1.35" fill="#c300ff"/>
<rect x="155.30" y="191.10" width="1.60" height="1.45" fill="#bf00ff"/>
<rect x="155.30" y="192.40" width="1.60" height="0.85" fill="#bb00ff"/>
<rect x="155.30" y="193.10" width="1.60" height="0.25" fill="#b700ff"/>
<rect x="155.30" y="193.20" width="1.60" height="0.35" fill="#b300ff"/>
<rect x="155.30" y="193.40" width="1.60" height="0.25" fill="#ae00ff"/>
<rect x="155.30" y="193.50" width="1.60" height="0.35" fill="#aa00ff"/>
<rect x="155.30" y="193.70" width="1.60" height="0.25" fill="#a600ff"/>
<rect x="155.30" y="193.80" width="1.60" height="0.35" fill="#a200ff"/>
<rect x="155.30" y="194.00" width="1.60" height="0.35" fill="#9d00ff"/>
<rect x="155.30" y="194.20" width="1.60" height="0.25" fill="#9900ff"/>
<rect x="155.30" y="194.30" width="1.60" height="0.35" fill="#9500ff"/>
<rect x="155.30" y="194.50" width="1.60" height="0.25" fill="#9000ff"/>
<rect x="155.30" y="194.60" width="1.60" height="0.35" fill="#8c00ff"/>
<rect x="155.30" y="194.80" width="1.60" height="0.25" fill="#8800ff"/>
<rect x="155.30" y="194.90" width="1.60" height="0.35" fill="#8400ff"/>
<rect x="155.30" y="195.10" width="1.60" height="0.25" fill="#8000ff"/>
<rect x="155.30" y="195.20" width="1.60" height="0.35" fill="#7b00ff"/>
<rect x="155.30" y="195.40" width="1.60" height="0.25" fill="#7700ff"/>
<rect x="155.30" y="195.50" width="1.60" height="0.35" fill="#7300ff"/>
<rect x="155.30" y="195.70" width="1.60" height="0.25" fill="#6f00ff"/>
<rect x="155.30" y="195.80" width="1.60" height="0.35" fill="#6a00ff"/>
<rect x="155.30" y="196.00" width="1.60" height="0.35" fill="#6600ff"/>
<rect x="155.30" y="196.20" width="1.60" height="0.25" fill="#6200ff"/>
<rect x="155.30" y="196.30" width="1.60" height="0.35" fill="#5d00ff"/>
<rect x="155.30" y="196.50" width="1.60" height="0.25" fill="#5900ff"/>
<rect x="155.30" y="196.60" width="1.60" height="0.35" fill="#5500ff"/>
<rect x="155.30" y="196.80" width="1.60" height="0.25" fill="#5100ff"/>
<rect x="155.30" y="196.90" width="1.60" height="5.75" fill="#4c00ff"/>
<rect x="155.30" y="202.50" width="1.60" height="10.65" fill="#5100ff"/>
<rect x="155.30" y="213.00" width="1.60" height="3.85" fill="#ff002b"/>
<rect x="155.30" y="216.70" width="1.60" height="1.45" fill="#ff00ff"/>
<rect x="155.30" y="218.00" width="1.60" height="3.15" fill="#ff00ea"/>
<rect x="155.30" y="221.00" width="1.60" height="14.15" fill="#5100ff"/>
<rect x="155.30" y="235.00" width="1.60" height="2.35" fill="#f700ff"/>
<rect x="155.30" y="237.20" width="1.60" height="6.85" fill="#5100ff"/>
<rect x="155.30" y="243.90" width="1.60" height="1.25" fill="#ff00bf"/>
<rect x="155.30" y="245.00" width="1.60" height="1.45" fill="#ff00b3"/>
<rect x="155.30" y="246.30" width="1.60" height="7.15" fill="#5100ff"/>
<rect x="155.30" y="253.30" width="1.60" height="39.15" fill="#5500ff"/>
<rect x="155.30" y="292.30" width="1.60" height="1.15" fill="#7700ff"/>
<rect x="155.30" y="293.30" width="1.60" height="2.15" fill="#5500ff"/>
<rect x="155.30" y="295.30" width="1.60" height="1.15" fill="#8800ff"/>
<rect x="155.30" y="296.30" width="1.60" height="2.55" fill="#5500ff"/>
<rect x="155.30" y="298.70" width="1.60" height="1.15" fill="#6600ff"/>
<rect x="155.30" y="299.70" width="1.60" height="2.55" fill="#5500ff"/>
<rect x="155.30" y="302.10" width="1.60" height="1.55" fill="#4c00ff"/>
<rect x="155.30" y="303.50" width="1.60" height="1.75" fill="#5500ff"/>
<rect x="155.30" y="305.10" width="1.60" height="1.55" fill="#6f00ff"/>
<rect x="155.30" y="306.50" width="1.60" height="3.05" fill="#5500ff"/>
<rect x="155.30" y="309.40" width="1.60" height="1.15" fill="#6600ff"/>
<rect x="155.30" y="310.40" width="1.60" height="2.95" fill="#5500ff"/>
<rect x="155.30" y="313.20" width="1.60" height="1.15" fill="#6600ff"/>
<rect x="155.30" y="314.20" width="1.60" height="2.95" fill="#5500ff"/>
<rect x="155.30" y="317.00" width="1.60" height="1.55" fill="#6f00ff"/>
<rect x="155.30" y="318.40" width="1.60" height="2.15" fill="#5500ff"/>
<rect x="155.30" y="320.40" width="1.60" height="1.15" fill="#7700ff"/>
<rect x="155.30" y="321.40" width="1.60" height="1.25" fill="#5500ff"/>
<rect x="155.30" y="322.50" width="1.60" height="1.05" fill="#7700ff"/>
<rect x="155.30" y="323.40" width="1.60" height="1.15" fill="#6f00ff"/>
<rect x="155.30" y="324.40" width="1.60" height="3.45" fill="#5500ff"/>
<rect x="155.30" y="327.70" width="1.60" height="1.35" fill="#6600ff"/>
<rect x="155.30" y="328.90" width="1.60" height="2.75" fill="#5500ff"/>
<rect x="155.30" y="331.50" width="1.60" height="1.15" fill="#6f00ff"/>
<rect x="155.30" y="332.50" width="1.60" height="2.95" fill="#5500ff"/>
<rect x="155.30" y="335.30" width="1.60" height="1.35" fill="#7700ff"/>
<rect x="155.30" y="336.50" width="1.60" height="2.75" fill="#5500ff"/>
<rect x="155.30" y="339.10" width="1.60" height="1.15" fill="#7700ff"/>
<rect x="155.30" y="340.10" width="1.60" height="2.55" fill="#5500ff"/>
<rect x="155.30" y="342.50" width="1.60" height="1.15" fill="#7700ff"/>
<rect x="155.30" y="343.50" width="1.60" height="0.35" fill="#5500ff"/>
<rect x="155.30" y="343.70" width="1.60" height="1.95" fill="#5900ff"/>
<rect x="155.30" y="345.50" width="1.60" height="1.55" fill="#6f00ff"/>
<rect x="155.30" y="346.90" width="1.60" height="2.55" fill="#5900ff"/>
<rect x="155.30" y="349.30" width="1.60" height="1.35" fill="#8800ff"/>
<rect x="155.30" y="350.50" width="1.60" height="1.95" fill="#5900ff"/>
<rect x="155.30" y="352.30" width="1.60" height="1.35" fill="#7700ff"/>
<rect x="155.30" y="353.50" width="1.60" height="1.95" fill="#5900ff"/>
<rect x="155.30" y="355.30" width="1.60" height="1.55" fill="#7700ff"/>
<rect x="155.30" y="356.70" width="1.60" height="3.05" fill="#5900ff"/>
<rect x="155.30" y="359.60" width="1.60" height="1.55" fill="#6600ff"/>
<rect x="155.30" y="361.00" width="1.60" height="1.75" fill="#5900ff"/>
<rect x="155.30" y="362.60" width="1.60" height="1.35" fill="#8000ff"/>
<rect x="155.30" y="363.80" width="1.60" height="3.25" fill="#5900ff"/>
<rect x="155.30" y="366.90" width="1.60" height="1.15" fill="#4c00ff"/>
<rect x="155.30" y="367.90" width="1.60" height="2.55" fill="#5900ff"/>
<rect x="155.30" y="370.30" width="1.60" height="1.35" fill="#8000ff"/>
<rect x="155.30" y="371.50" width="1.60" height="3.25" fill="#5900ff"/>
<rect x="155.30" y="374.60" width="1.60" height="1.55" fill="#6f00ff"/>
<rect x="155.30" y="376.00" width="1.60" height="2.55" fill="#5900ff"/>
<rect x="155.30" y="378.40" width="1.60" height="1.35" fill="#8000ff"/>
<rect x="155.30" y="379.60" width="1.60" height="2.35" fill="#5900ff"/>
<rect x="155.30" y="381.80" width="1.60" height="1.15" fill="#6f00ff"/>
<rect x="155.30" y="382.80" width="1.60" height="2.55" fill="#5900ff"/>
<rect x="155.30" y="385.20" width="1.60" height="1.35" fill="#5500ff"/>
<rect x="155.30" y="386.40" width="1.60" height="3.65" fill="#5900ff"/>
<rect x="264.35" y="140.90" width="3.10" height="5.05" fill="#ff006a"/>
<rect x="264.35" y="145.80" width="3.10" height="9.85" fill="#ff0066"/>
<rect x="264.35" y="155.50" width="3.10" height="9.85" fill="#ff0062"/>
<rect x="264.35" y="165.20" width="3.10" height="7.05" fill="#ff005e"/>
<rect x="264.35" y="172.10" width="3.10" height="4.45" fill="#ff0059"/>
<rect x="264.35" y="176.40" width="3.10" height="4.35" fill="#ff0055"/>
<rect x="264.35" y="180.60" width="3.10" height="4.45" fill="#ff0051"/>
<rect x="264.35" y="184.90" width="3.10" height="3.85" fill="#ff004d"/>
<rect x="264.35" y="188.60" width="3.10" height="3.45" fill="#ff0048"/>
<rect x="264.35" y="191.90" width="3.10" height="3.35" fill="#ff0044"/>
<rect x="264.35" y="195.10" width="3.10" height="3.45" fill="#ff0040"/>
<rect x="264.35" y="198.40" width="3.10" height="11.75" fill="#ff003c"/>
<rect x="264.35" y="210.00" width="3.10" height="12.15" fill="#ff0040"/>
<rect x="264.35" y="222.00" width="3.10" height="4.15" fill="#ff003c"/>
<rect x="264.35" y="226.00" width="3.10" height="4.15" fill="#ff0037"/>
<rect x="264.35" y="230.00" width="3.10" height="5.45" fill="#ff0033"/>
<rect x="264.35" y="235.30" width="3.10" height="6.75" fill="#ff0037"/>
<rect x="264.35" y="241.90" width="3.10" height="6.75" fill="#ff003c"/>
<rect x="264.35" y="248.50" width="3.10" height="6.75" fill="#ff0040"/>
<rect x="264.35" y="255.10" width="3.10" height="6.75" fill="#ff0044"/>
<rect x="264.35" y="261.70" width="3.10" height="5.05" fill="#ff0048"/>
<rect x="264.35" y="266.60" width="3.10" height="3.25" fill="#ff004d"/>
<rect x="264.35" y="269.70" width="3.10" height="3.25" fill="#ff0051"/>
<rect x="264.35" y="272.80" width="3.10" height="3.25" fill="#ff0055"/>
<rect x="264.35" y="275.90" width="3.10" height="3.35" fill="#ff0059"/>
<rect x="264.35" y="279.10" width="3.10" height="3.25" fill="#ff005e"/>
<rect x="264.35" y="282.20" width="3.10" height="3.25" fill="#ff0062"/>
<rect x="264.35" y="285.30" width="3.10" height="3.25" fill="#ff0066"/>
<rect x="264.35" y="288.40" width="3.10" height="2.35" fill="#ff006a"/>
<rect x="264.35" y="290.60" width="3.10" height="1.25" fill="#ff006f"/>
<rect x="264.35" y="291.70" width="3.10" height="1.35" fill="#ff0073"/>
<rect x="264.35" y="292.90" width="3.10" height="1.25" fill="#ff0077"/>
<rect x="264.35" y="294.00" width="3.10" height="1.35" fill="#ff007b"/>
<rect x="264.35" y="295.20" width="3.10" height="1.25" fill="#ff0080"/>
<rect x="264.35" y="296.30" width="3.10" height="1.35" fill="#ff0084"/>
<rect x="264.35" y="297.50" width="3.10" height="1.35" fill="#ff0088"/>
<rect x="264.35" y="298.70" width="3.10" height="1.25" fill="#ff008c"/>
<rect x="264.35" y="299.80" width="3.10" height="1.35" fill="#ff0090"/>
<rect x="264.35" y="301.00" width="3.10" height="1.25" fill="#ff0095"/>
<rect x="264.35" y="302.10" width="3.10" height="1.35" fill="#ff0099"/>
<rect x="264.35" y="303.30" width="3.10" height="1.25" fill="#ff009d"/>
<rect x="264.35" y="304.40" width="3.10" height="1.25" fill="#ff00a1"/>
<rect x="264.35" y="305.50" width="3.10" height="1.05" fill="#ff00a6"/>
<rect x="264.35" y="306.40" width="3.10" height="1.05" fill="#ff00aa"/>
<rect x="264.35" y="307.30" width="3.10" height="1.15" fill="#ff00ae"/>
<rect x="264.35" y="308.30" width="3.10" height="1.05" fill="#ff00b3"/>
<rect x="264.35" y="309.20" width="3.10" height="1.15" fill="#ff00b7"/>
<rect x="264.35" y="310.20" width="3.10" height="1.05" fill="#ff00bb"/>
<rect x="264.35" y="311.10" width="3.10" height="1.05" fill="#ff00bf"/>
<rect x="264.35" y="312.00" width="3.10" height="1.15" fill="#ff00c3"/>
<rect x="264.35" y="313.00" width="3.10" height="1.05" fill="#ff00c8"/>
<rect x="264.35" y="313.90" width="3.10" height="1.05" fill="#ff00cc"/>
<rect x="264.35" y="314.80" width="3.10" height="1.15" fill="#ff00d0"/>
<rect x="264.35" y="315.80" width="3.10" height="1.05" fill="#ff00d4"/>
<rect x="264.35" y="316.70" width="3.10" height="1.15" fill="#ff00d9"/>
<rect x="264.35" y="317.70" width="3.10" height="1.05" fill="#ff00dd"/>
<rect x="264.35" y="318.60" width="3.10" height="1.05" fill="#ff00e1"/>
<rect x="264.35" y="319.50" width="3.10" height="1.15" fill="#ff00e6"/>
<rect x="264.35" y="320.50" width="3.10" height="1.25" fill="#ff00ea"/>
<rect x="264.35" y="321.60" width="3.10" height="1.25" fill="#ff00ee"/>
<rect x="264.35" y="322.70" width="3.10" height="1.15" fill="#ff00f2"/>
<rect x="264.35" y="323.70" width="3.10" height="1.25" fill="#ff00f7"/>
<rect x="264.35" y="324.80" width="3.10" height="1.15" fill="#ff00fb"/>
<rect x="264.35" y="325.80" width="3.10" height="1.25" fill="#ff00ff"/>
<rect x="264.35" y="326.90" width="3.10" height="1.25" fill="#fb00ff"/>
<rect x="264.35" y="328.00" width="3.10" height="1.15" fill="#f700ff"/>
<rect x="264.35" y="329.00" width="3.10" height="1.25" fill="#f200ff"/>
<rect x="264.35" y="330.10" width="3.10" height="1.25" fill="#ee00ff"/>
<rect x="264.35" y="331.20" width="3.10" height="1.15" fill="#ea00ff"/>
<rect x="264.35" y="332.20" width="3.10" height="1.25" fill="#e600ff"/>
<rect x="264.35" y="333.30" width="3.10" height="1.15" fill="#e100ff"/>
<rect x="264.35" y="334.30" width="3.10" height="1.25" fill="#dd00ff"/>
<rect x="264.35" y="335.40" width="3.10" height="1.25" fill="#d900ff"/>
<rect x="264.35" y="336.50" width="3.10" height="0.95" fill="#d500ff"/>
<rect x="264.35" y="337.30" width="3.10" height="0.75" fill="#d000ff"/>
<rect x="264.35" y="337.90" width="3.10" height="0.85" fill="#cc00ff"/>
<rect x="264.35" y="338.60" width="3.10" height="0.75" fill="#c800ff"/>
<rect x="264.35" y="339.20" width="3.10" height="0.75" fill="#c300ff"/>
<rect x="264.35" y="339.80" width="3.10" height="0.75" fill="#bf00ff"/>
<rect x="264.35" y="340.40" width="3.10" height="0.85" fill="#bb00ff"/>
<rect x="264.35" y="341.10" width="3.10" height="0.75" fill="#b700ff"/>
<rect x="264.35" y="341.70" width="3.10" height="0.75" fill="#b300ff"/>
<rect x="264.35" y="342.30" width="3.10" height="0.75" fill="#ae00ff"/>
<rect x="264.35" y="342.90" width="3.10" height="0.85" fill="#aa00ff"/>
<rect x="264.35" y="343.60" width="3.10" height="0.75" fill="#a600ff"/>
<rect x="264.35" y="344.20" width="3.10" height="0.75" fill="#a200ff"/>
<rect x="264.35" y="344.80" width="3.10" height="0.75" fill="#9d00ff"/>
<rect x="264.35" y="345.40" width="3.10" height="0.85" fill="#9900ff"/>
<rect x="264.35" y="346.10" width="3.10" height="0.75" fill="#9500ff"/>
<rect x="264.35" y="346.70" width="3.10" height="0.75" fill="#9000ff"/>
<rect x="264.35" y="347.30" width="3.10" height="0.75" fill="#8c00ff"/>
<rect x="264.35" y="347.90" width="3.10" height="0.85" fill="#8800ff"/>
<rect x="264.35" y="348.60" width="3.10" height="0.75" fill="#8400ff"/>
<rect x="264.35" y="349.20" width="3.10" height="0.75" fill="#8000ff"/>
<rect x="264.35" y="349.80" width="3.10" height="0.75" fill="#7b00ff"/>
<rect x="264.35" y="350.40" width="3.10" height="0.85" fill="#7700ff"/>
<rect x="264.35" y="351.10" width="3.10" height="0.75" fill="#7300ff"/>
<rect x="264.35" y="351.70" width="3.10" height="1.05" fill="#6f00ff"/>
<rect x="264.35" y="352.60" width="3.10" height="1.45" fill="#6a00ff"/>
<rect x="264.35" y="353.90" width="3.10" height="1.35" fill="#6600ff"/>
<rect x="264.35" y="355.10" width="3.10" height="1.45" fill="#6200ff"/>
<rect x="264.35" y="356.40" width="3.10" height="1.35" fill="#5d00ff"/>
<rect x="264.35" y="357.60" width="3.10" height="1.45" fill="#5900ff"/>
<rect x="264.35" y="358.90" width="3.10" height="1.35" fill="#5500ff"/>
<rect x="264.35" y="360.10" width="3.10" height="1.45" fill="#5100ff"/>
<rect x="264.35" y="361.40" width="3.10" height="1.35" fill="#4c00ff"/>
<rect x="264.35" y="362.60" width="3.10" height="1.45" fill="#4800ff"/>
<rect x="264.35" y="363.90" width="3.10" height="1.35" fill="#4400ff"/>
<rect x="264.35" y="365.10" width="3.10" height="1.45" fill="#4000ff"/>
<rect x="264.35" y="366.40" width="3.10" height="1.35" fill="#3c00ff"/>
<rect x="264.35" y="367.60" width="3.10" height="1.45" fill="#3700ff"/>
<rect x="264.35" y="368.90" width="3.10" height="1.35" fill="#3300ff"/>
<rect x="264.35" y="370.10" width="3.10" height="1.45" fill="#2f00ff"/>
<rect x="264.35" y="371.40" width="3.10" height="4.95" fill="#2a00ff"/>
<rect x="264.35" y="376.20" width="3.10" height="8.65" fill="#2600ff"/>
<rect x="264.35" y="384.70" width="3.10" height="5.35" fill="#2200ff"/>
<rect x="267.15" y="140.90" width="6.10" height="2.15" fill="#bf00ff"/>
<rect x="267.15" y="142.90" width="6.10" height="3.95" fill="#c300ff"/>
<rect x="267.15" y="146.70" width="6.10" height="3.95" fill="#c800ff"/>
<rect x="267.15" y="150.50" width="6.10" height="3.95" fill="#cc00ff"/>
<rect x="267.15" y="154.30" width="6.10" height="3.95" fill="#d000ff"/>
<rect x="267.15" y="158.10" width="6.10" height="2.55" fill="#d500ff"/>
<rect x="267.15" y="160.50" width="6.10" height="1.15" fill="#d900ff"/>
<rect x="267.15" y="161.50" width="6.10" height="1.15" fill="#dd00ff"/>
<rect x="267.15" y="162.50" width="6.10" height="1.15" fill="#e100ff"/>
<rect x="267.15" y="163.50" width="6.10" height="1.15" fill="#e600ff"/>
<rect x="267.15" y="164.50" width="6.10" height="1.15" fill="#ea00ff"/>
<rect x="267.15" y="165.50" width="6.10" height="1.15" fill="#ee00ff"/>
<rect x="267.15" y="166.50" width="6.10" height="1.15" fill="#f200ff"/>
<rect x="267.15" y="167.50" width="6.10" height="1.15" fill="#f700ff"/>
<rect x="267.15" y="168.50" width="6.10" height="1.15" fill="#fb00ff"/>
<rect x="267.15" y="169.50" width="6.10" height="1.25" fill="#ff00ff"/>
<rect x="267.15" y="170.60" width="6.10" height="1.25" fill="#ff00fb"/>
<rect x="267.15" y="171.70" width="6.10" height="1.25" fill="#ff00f7"/>
<rect x="267.15" y="172.80" width="6.10" height="1.35" fill="#ff00f2"/>
<rect x="267.15" y="174.00" width="6.10" height="1.25" fill="#ff00ee"/>
<rect x="267.15" y="175.10" width="6.10" height="1.25" fill="#ff00ea"/>
<rect x="267.15" y="176.20" width="6.10" height="1.35" fill="#ff00e6"/>
<rect x="267.15" y="177.40" width="6.10" height="1.25" fill="#ff00e1"/>
<rect x="267.15" y="178.50" width="6.10" height="1.25" fill="#ff00dd"/>
<rect x="267.15" y="179.60" width="6.10" height="1.35" fill="#ff00d9"/>
<rect x="267.15" y="180.80" width="6.10" height="1.25" fill="#ff00d4"/>
<rect x="267.15" y="181.90" width="6.10" height="1.25" fill="#ff00d0"/>
<rect x="267.15" y="183.00" width="6.10" height="1.35" fill="#ff00cc"/>
<rect x="267.15" y="184.20" width="6.10" height="1.25" fill="#ff00c8"/>
<rect x="267.15" y="185.30" width="6.10" height="1.25" fill="#ff00c3"/>
<rect x="267.15" y="186.40" width="6.10" height="1.45" fill="#ff00bf"/>
<rect x="267.15" y="187.70" width="6.10" height="1.45" fill="#ff00bb"/>
<rect x="267.15" y="189.00" width="6.10" height="1.45" fill="#ff00b7"/>
<rect x="267.15" y="190.30" width="6.10" height="1.45" fill="#ff00b3"/>
<rect x="267.15" y="191.60" width="6.10" height="1.45" fill="#ff00ae"/>
<rect x="267.15" y="192.90" width="6.10" height="1.45" fill="#ff00aa"/>
<rect x="267.15" y="194.20" width="6.10" height="1.45" fill="#ff00a6"/>
<rect x="267.15" y="195.50" width="6.10" height="1.45" fill="#ff00a1"/>
<rect x="267.15" y="196.80" width="6.10" height="1.45" fill="#ff009d"/>
<rect x="267.15" y="198.10" width="6.10" height="1.45" fill="#ff0099"/>
<rect x="267.15" y="199.40" width="6.10" height="1.15" fill="#ff0095"/>
<rect x="267.15" y="200.40" width="6.10" height="0.95" fill="#ff0090"/>
<rect x="267.15" y="201.20" width="6.10" height="0.85" fill="#ff008c"/>
<rect x="267.15" y="201.90" width="6.10" height="0.95" fill="#ff0088"/>
<rect x="267.15" y="202.70" width="6.10" height="0.95" fill="#ff0084"/>
<rect x="267.15" y="203.50" width="6.10" height="0.85" fill="#ff0080"/>
<rect x="267.15" y="204.20" width="6.10" height="0.95" fill="#ff007b"/>
<rect x="267.15" y="205.00" width="6.10" height="0.95" fill="#ff0077"/>
<rect x="267.15" y="205.80" width="6.10" height="0.85" fill="#ff0073"/>
<rect x="267.15" y="206.50" width="6.10" height="0.95" fill="#ff006f"/>
<rect x="267.15" y="207.30" width="6.10" height="0.95" fill="#ff006a"/>
<rect x="267.15" y="208.10" width="6.10" height="0.85" fill="#ff0066"/>
<rect x="267.15" y="208.80" width="6.10" height="0.95" fill="#ff0062"/>
<rect x="267.15" y="209.60" width="6.10" height="1.25" fill="#ff005e"/>
<rect x="267.15" y="210.70" width="6.10" height="1.55" fill="#ff0059"/>
<rect x="267.15" y="212.10" width="6.10" height="1.65" fill="#ff0055"/>
<rect x="267.15" y="213.60" width="6.10" height="1.55" fill="#ff0051"/>
<rect x="267.15" y="215.00" width="6.10" height="1.55" fill="#ff004d"/>
<rect x="267.15" y="216.40" width="6.10" height="1.65" fill="#ff0048"/>
<rect x="267.15" y="217.90" width="6.10" height="1.55" fill="#ff0044"/>
<rect x="267.15" y="219.30" width="6.10" height="2.85" fill="#ff0040"/>
<rect x="267.15" y="222.00" width="6.10" height="4.15" fill="#ff003c"/>
<rect x="267.15" y="226.00" width="6.10" height="4.15" fill="#ff0037"/>
<rect x="267.15" y="230.00" width="6.10" height="4.25" fill="#ff0033"/>
<rect x="267.15" y="234.10" width="6.10" height="4.25" fill="#ff0037"/>
<rect x="267.15" y="238.20" width="6.10" height="4.25" fill="#ff003c"/>
<rect x="267.15" y="242.30" width="6.10" height="4.25" fill="#ff0040"/>
<rect x="267.15" y="246.40" width="6.10" height="4.35" fill="#ff0044"/>
<rect x="267.15" y="250.60" width="6.10" height="4.25" fill="#ff0048"/>
<rect x="267.15" y="254.70" width="6.10" height="4.25" fill="#ff004d"/>
<rect x="267.15" y="258.80" width="6.10" height="4.25" fill="#ff0051"/>
<rect x="267.15" y="262.90" width="6.10" height="3.15" fill="#ff0055"/>
<rect x="267.15" y="265.90" width="6.10" height="2.05" fill="#ff0059"/>
<rect x="267.15" y="267.80" width="6.10" height="2.05" fill="#ff005e"/>
<rect x="267.15" y="269.70" width="6.10" height="2.05" fill="#ff0062"/>
<rect x="267.15" y="271.60" width="6.10" height="1.95" fill="#ff0066"/>
<rect x="267.15" y="273.40" width="6.10" height="2.05" fill="#ff006a"/>
<rect x="267.15" y="275.30" width="6.10" height="2.05" fill="#ff006f"/>
<rect x="267.15" y="277.20" width="6.10" height="2.05" fill="#ff0073"/>
<rect x="267.15" y="279.10" width="6.10" height="1.85" fill="#ff0077"/>
<rect x="267.15" y="280.80" width="6.10" height="1.65" fill="#ff007b"/>
<rect x="267.15" y="282.30" width="6.10" height="1.65" fill="#ff0080"/>
<rect x="267.15" y="283.80" width="6.10" height="1.55" fill="#ff0084"/>
<rect x="267.15" y="285.20" width="6.10" height="1.65" fill="#ff0088"/>
<rect x="267.15" y="286.70" width="6.10" height="1.65" fill="#ff008c"/>
<rect x="267.15" y="288.20" width="6.10" height="1.65" fill="#ff0090"/>
<rect x="267.15" y="289.70" width="6.10" height="1.65" fill="#ff0095"/>
<rect x="267.15" y="291.20" width="6.10" height="1.65" fill="#ff0099"/>
<rect x="267.15" y="292.70" width="6.10" height="1.65" fill="#ff009d"/>
<rect x="267.15" y="294.20" width="6.10" height="1.55" fill="#ff00a1"/>
<rect x="267.15" y="295.60" width="6.10" height="1.45" fill="#ff00a6"/>
<rect x="267.15" y="296.90" width="6.10" height="1.35" fill="#ff00aa"/>
<rect x="267.15" y="298.10" width="6.10" height="1.45" fill="#ff00ae"/>
<rect x="267.15" y="299.40" width="6.10" height="1.35" fill="#ff00b3"/>
<rect x="267.15" y="300.60" width="6.10" height="1.45" fill="#ff00b7"/>
<rect x="267.15" y="301.90" width="6.10" height="1.35" fill="#ff00bb"/>
<rect x="267.15" y="303.10" width="6.10" height="1.45" fill="#ff00bf"/>
<rect x="267.15" y="304.40" width="6.10" height="1.35" fill="#ff00c3"/>
<rect x="267.15" y="305.60" width="6.10" height="1.45" fill="#ff00c8"/>
<rect x="267.15" y="306.90" width="6.10" height="1.35" fill="#ff00cc"/>
<rect x="267.15" y="308.10" width="6.10" height="1.45" fill="#ff00d0"/>
<rect x="267.15" y="309.40" width="6.10" height="1.75" fill="#ff00d4"/>
<rect x="267.15" y="311.00" width="6.10" height="2.15" fill="#ff00d9"/>
<rect x="267.15" y="313.00" width="6.10" height="2.15" fill="#ff00dd"/>
<rect x="267.15" y="315.00" width="6.10" height="2.15" fill="#ff00e1"/>
<rect x="267.15" y="317.00" width="6.10" height="2.15" fill="#ff00e6"/>
<rect x="267.15" y="319.00" width="6.10" height="2.85" fill="#ff00ea"/>
<rect x="267.15" y="321.70" width="6.10" height="3.55" fill="#ff00ee"/>
<rect x="267.15" y="325.10" width="6.10" height="3.55" fill="#ff00f2"/>
<rect x="267.15" y="328.50" width="6.10" height="3.55" fill="#ff00f7"/>
<rect x="267.15" y="331.90" width="6.10" height="3.55" fill="#ff00fb"/>
<rect x="267.15" y="335.30" width="6.10" height="2.35" fill="#ff00ff"/>
<rect x="267.15" y="337.50" width="6.10" height="1.25" fill="#fb00ff"/>
<rect x="267.15" y="338.60" width="6.10" height="1.25" fill="#f700ff"/>
<rect x="267.15" y="339.70" width="6.10" height="1.15" fill="#f200ff"/>
<rect x="267.15" y="340.70" width="6.10" height="1.25" fill="#ee00ff"/>
<rect x="267.15" y="341.80" width="6.10" height="1.25" fill="#ea00ff"/>
<rect x="267.15" y="342.90" width="6.10" height="1.25" fill="#e600ff"/>
<rect x="267.15" y="344.00" width="6.10" height="1.15" fill="#e100ff"/>
<rect x="267.15" y="345.00" width="6.10" height="1.25" fill="#dd00ff"/>
<rect x="267.15" y="346.10" width="6.10" height="1.25" fill="#d900ff"/>
<rect x="267.15" y="347.20" width="6.10" height="1.15" fill="#d500ff"/>
<rect x="267.15" y="348.20" width="6.10" height="1.25" fill="#d000ff"/>
<rect x="267.15" y="349.30" width="6.10" height="1.25" fill="#cc00ff"/>
<rect x="267.15" y="350.40" width="6.10" height="1.25" fill="#c800ff"/>
<rect x="267.15" y="351.50" width="6.10" height="1.75" fill="#c300ff"/>
<rect x="267.15" y="353.10" width="6.10" height="2.35" fill="#bf00ff"/>
<rect x="267.15" y="355.30" width="6.10" height="2.45" fill="#bb00ff"/>
<rect x="267.15" y="357.60" width="6.10" height="2.35" fill="#b700ff"/>
<rect x="267.15" y="359.80" width="6.10" height="2.35" fill="#b300ff"/>
<rect x="267.15" y="362.00" width="6.10" height="2.35" fill="#ae00ff"/>
<rect x="267.15" y="364.20" width="6.10" height="2.35" fill="#aa00ff"/>
<rect x="267.15" y="366.40" width="6.10" height="2.45" fill="#a600ff"/>
<rect x="267.15" y="368.70" width="6.10" height="2.35" fill="#a200ff"/>
<rect x="267.15" y="370.90" width="6.10" height="4.05" fill="#9d00ff"/>
<rect x="267.15" y="374.80" width="6.10" height="5.85" fill="#9900ff"/>
<rect x="267.15" y="380.50" width="6.10" height="5.85" fill="#9500ff"/>
<rect x="267.15" y="386.20" width="6.10" height="3.85" fill="#9000ff"/>
<rect x="272.95" y="140.90" width="3.90" height="0.85" fill="#ff00ea"/>
<rect x="272.95" y="141.60" width="3.90" height="1.45" fill="#ff00e6"/>
<rect x="272.95" y="142.90" width="3.90" height="1.45" fill="#ff00e1"/>
<rect x="272.95" y="144.20" width="3.90" height="1.35" fill="#ff00dd"/>
<rect x="272.95" y="145.40" width="3.90" height="1.45" fill="#ff00d9"/>
<rect x="272.95" y="146.70" width="3.90" height="1.45" fill="#ff00d4"/>
<rect x="272.95" y="148.00" width="3.90" height="1.35" fill="#ff00d0"/>
<rect x="272.95" y="149.20" width="3.90" height="1.45" fill="#ff00cc"/>
<rect x="272.95" y="150.50" width="3.90" height="1.45" fill="#ff00c8"/>
<rect x="272.95" y="151.80" width="3.90" height="1.35" fill="#ff00c3"/>
<rect x="272.95" y="153.00" width="3.90" height="1.45" fill="#ff00bf"/>
<rect x="272.95" y="154.30" width="3.90" height="1.45" fill="#ff00bb"/>
<rect x="272.95" y="155.60" width="3.90" height="1.35" fill="#ff00b7"/>
<rect x="272.95" y="156.80" width="3.90" height="1.45" fill="#ff00b3"/>
<rect x="272.95" y="158.10" width="3.90" height="1.45" fill="#ff00ae"/>
<rect x="272.95" y="159.40" width="3.90" height="1.05" fill="#ff00aa"/>
<rect x="272.95" y="160.30" width="3.90" height="0.85" fill="#ff00a6"/>
<rect x="272.95" y="161.00" width="3.90" height="0.85" fill="#ff00a1"/>
<rect x="272.95" y="161.70" width="3.90" height="0.75" fill="#ff009d"/>
<rect x="272.95" y="162.30" width="3.90" height="0.85" fill="#ff0099"/>
<rect x="272.95" y="163.00" width="3.90" height="0.85" fill="#ff0095"/>
<rect x="272.95" y="163.70" width="3.90" height="0.75" fill="#ff0090"/>
<rect x="272.95" y="164.30" width="3.90" height="0.85" fill="#ff008c"/>
<rect x="272.95" y="165.00" width="3.90" height="0.85" fill="#ff0088"/>
<rect x="272.95" y="165.70" width="3.90" height="0.75" fill="#ff0084"/>
<rect x="272.95" y="166.30" width="3.90" height="0.85" fill="#ff0080"/>
<rect x="272.95" y="167.00" width="3.90" height="0.85" fill="#ff007b"/>
<rect x="272.95" y="167.70" width="3.90" height="0.75" fill="#ff0077"/>
<rect x="272.95" y="168.30" width="3.90" height="0.85" fill="#ff0073"/>
<rect x="272.95" y="169.00" width="3.90" height="0.85" fill="#ff006f"/>
<rect x="272.95" y="169.70" width="3.90" height="1.35" fill="#ff006a"/>
<rect x="272.95" y="170.90" width="3.90" height="1.85" fill="#ff0066"/>
<rect x="272.95" y="172.60" width="3.90" height="1.85" fill="#ff0062"/>
<rect x="272.95" y="174.30" width="3.90" height="1.85" fill="#ff005e"/>
<rect x="272.95" y="176.00" width="3.90" height="1.85" fill="#ff0059"/>
<rect x="272.95" y="177.70" width="3.90" height="1.85" fill="#ff0055"/>
<rect x="272.95" y="179.40" width="3.90" height="1.85" fill="#ff0051"/>
<rect x="272.95" y="181.10" width="3.90" height="1.85" fill="#ff004d"/>
<rect x="272.95" y="182.80" width="3.90" height="1.85" fill="#ff0048"/>
<rect x="272.95" y="184.50" width="3.90" height="1.85" fill="#ff0044"/>
<rect x="272.95" y="186.20" width="3.90" height="7.45" fill="#ff0040"/>
<rect x="272.95" y="193.50" width="3.90" height="16.65" fill="#ff003c"/>
<rect x="272.95" y="210.00" width="3.90" height="11.35" fill="#ff0040"/>
<rect x="272.95" y="221.20" width="3.90" height="2.55" fill="#ff0044"/>
<rect x="272.95" y="223.60" width="3.90" height="2.55" fill="#ff0048"/>
<rect x="272.95" y="226.00" width="3.90" height="2.55" fill="#ff004d"/>
<rect x="272.95" y="228.40" width="3.90" height="2.55" fill="#ff0051"/>
<rect x="272.95" y="230.80" width="3.90" height="1.75" fill="#ff0055"/>
<rect x="272.95" y="232.40" width="3.90" height="0.85" fill="#ff0059"/>
<rect x="272.95" y="233.10" width="3.90" height="0.85" fill="#ff005e"/>
<rect x="272.95" y="233.80" width="3.90" height="0.85" fill="#ff0062"/>
<rect x="272.95" y="234.50" width="3.90" height="0.95" fill="#ff0066"/>
<rect x="272.95" y="235.30" width="3.90" height="0.85" fill="#ff006a"/>
<rect x="272.95" y="236.00" width="3.90" height="0.85" fill="#ff006f"/>
<rect x="272.95" y="236.70" width="3.90" height="0.85" fill="#ff0073"/>
<rect x="272.95" y="237.40" width="3.90" height="0.85" fill="#ff0077"/>
<rect x="272.95" y="238.10" width="3.90" height="0.95" fill="#ff007b"/>
<rect x="272.95" y="238.90" width="3.90" height="0.85" fill="#ff0080"/>
<rect x="272.95" y="239.60" width="3.90" height="0.85" fill="#ff0084"/>
<rect x="272.95" y="240.30" width="3.90" height="0.85" fill="#ff0088"/>
<rect x="272.95" y="241.00" width="3.90" height="0.95" fill="#ff008c"/>
<rect x="272.95" y="241.80" width="3.90" height="0.85" fill="#ff0090"/>
<rect x="272.95" y="242.50" width="3.90" height="0.85" fill="#ff0095"/>
<rect x="272.95" y="243.20" width="3.90" height="0.85" fill="#ff0099"/>
<rect x="272.95" y="243.90" width="3.90" height="0.85" fill="#ff009d"/>
<rect x="272.95" y="244.60" width="3.90" height="2.25" fill="#ff00a1"/>
<rect x="272.95" y="246.70" width="3.90" height="3.45" fill="#ff00a6"/>
<rect x="272.95" y="250.00" width="3.90" height="3.45" fill="#ff00aa"/>
<rect x="272.95" y="253.30" width="3.90" height="3.55" fill="#ff00ae"/>
<rect x="272.95" y="256.70" width="3.90" height="3.45" fill="#ff00b3"/>
<rect x="272.95" y="260.00" width="3.90" height="3.45" fill="#ff00b7"/>
<rect x="272.95" y="263.30" width="3.90" height="3.45" fill="#ff00bb"/>
<rect x="272.95" y="266.60" width="3.90" height="3.25" fill="#ff00bf"/>
<rect x="272.95" y="269.70" width="3.90" height="3.25" fill="#ff00c3"/>
<rect x="272.95" y="272.80" width="3.90" height="3.25" fill="#ff00c8"/>
<rect x="272.95" y="275.90" width="3.90" height="3.35" fill="#ff00cc"/>
<rect x="272.95" y="279.10" width="3.90" height="3.25" fill="#ff00d0"/>
<rect x="272.95" y="282.20" width="3.90" height="3.25" fill="#ff00d4"/>
<rect x="272.95" y="285.30" width="3.90" height="3.25" fill="#ff00d9"/>
<rect x="272.95" y="288.40" width="3.90" height="3.65" fill="#ff00dd"/>
<rect x="272.95" y="291.90" width="3.90" height="3.85" fill="#ff00e1"/>
<rect x="272.95" y="295.60" width="3.90" height="3.95" fill="#ff00e6"/>
<rect x="272.95" y="299.40" width="3.90" height="3.85" fill="#ff00ea"/>
<rect x="272.95" y="303.10" width="3.90" height="3.95" fill="#ff00ee"/>
<rect x="272.95" y="306.90" width="3.90" height="3.85" fill="#ff00f2"/>
<rect x="272.95" y="310.60" width="3.90" height="3.95" fill="#ff00f7"/>
<rect x="272.95" y="314.40" width="3.90" height="3.85" fill="#ff00fb"/>
<rect x="272.95" y="318.10" width="3.90" height="19.75" fill="#ff00ff"/>
<rect x="272.95" y="337.70" width="3.90" height="1.65" fill="#fb00ff"/>
<rect x="272.95" y="339.20" width="3.90" height="1.65" fill="#f700ff"/>
<rect x="272.95" y="340.70" width="3.90" height="1.65" fill="#f200ff"/>
<rect x="272.95" y="342.20" width="3.90" height="1.65" fill="#ee00ff"/>
<rect x="272.95" y="343.70" width="3.90" height="1.65" fill="#ea00ff"/>
<rect x="272.95" y="345.20" width="3.90" height="1.65" fill="#e600ff"/>
<rect x="272.95" y="346.70" width="3.90" height="1.65" fill="#e100ff"/>
<rect x="272.95" y="348.20" width="3.90" height="1.65" fill="#dd00ff"/>
<rect x="272.95" y="349.70" width="3.90" height="1.65" fill="#d900ff"/>
<rect x="272.95" y="351.20" width="3.90" height="2.35" fill="#d500ff"/>
<rect x="272.95" y="353.40" width="3.90" height="3.05" fill="#d000ff"/>
<rect x="272.95" y="356.30" width="3.90" height="2.95" fill="#cc00ff"/>
<rect x="272.95" y="359.10" width="3.90" height="3.05" fill="#c800ff"/>
<rect x="272.95" y="362.00" width="3.90" height="3.05" fill="#c300ff"/>
<rect x="272.95" y="364.90" width="3.90" height="2.95" fill="#bf00ff"/>
<rect x="272.95" y="367.70" width="3.90" height="3.05" fill="#bb00ff"/>
<rect x="272.95" y="370.60" width="3.90" height="2.65" fill="#b700ff"/>
<rect x="272.95" y="373.10" width="3.90" height="2.25" fill="#b300ff"/>
<rect x="272.95" y="375.20" width="3.90" height="2.25" fill="#ae00ff"/>
<rect x="272.95" y="377.30" width="3.90" height="2.25" fill="#aa00ff"/>
<rect x="272.95" y="379.40" width="3.90" height="2.35" fill="#a600ff"/>
<rect x="272.95" y="381.60" width="3.90" height="2.25" fill="#a200ff"/>
<rect x="272.95" y="383.70" width="3.90" height="2.25" fill="#9d00ff"/>
<rect x="272.95" y="385.80" width="3.90" height="2.25" fill="#9900ff"/>
<rect x="272.95" y="387.90" width="3.90" height="2.15" fill="#9500ff"/>
<rect x="276.55" y="140.90" width="4.40" height="1.45" fill="#cc00ff"/>
<rect x="276.55" y="142.20" width="4.40" height="2.55" fill="#d000ff"/>
<rect x="276.55" y="144.60" width="4.40" height="2.55" fill="#d500ff"/>
<rect x="276.55" y="147.00" width="4.40" height="2.65" fill="#d900ff"/>
<rect x="276.55" y="149.50" width="4.40" height="2.55" fill="#dd00ff"/>
<rect x="276.55" y="151.90" width="4.40" height="2.55" fill="#e100ff"/>
<rect x="276.55" y="154.30" width="4.40" height="2.55" fill="#e600ff"/>
<rect x="276.55" y="156.70" width="4.40" height="2.55" fill="#ea00ff"/>
<rect x="276.55" y="159.10" width="4.40" height="2.55" fill="#ee00ff"/>
<rect x="276.55" y="161.50" width="4.40" height="2.65" fill="#f200ff"/>
<rect x="276.55" y="164.00" width="4.40" height="2.55" fill="#f700ff"/>
<rect x="276.55" y="166.40" width="4.40" height="2.55" fill="#fb00ff"/>
<rect x="276.55" y="168.80" width="4.40" height="3.05" fill="#ff00ff"/>
<rect x="276.55" y="171.70" width="4.40" height="3.55" fill="#ff00fb"/>
<rect x="276.55" y="175.10" width="4.40" height="3.55" fill="#ff00f7"/>
<rect x="276.55" y="178.50" width="4.40" height="3.55" fill="#ff00f2"/>
<rect x="276.55" y="181.90" width="4.40" height="3.55" fill="#ff00ee"/>
<rect x="276.55" y="185.30" width="4.40" height="8.35" fill="#ff00ea"/>
<rect x="276.55" y="193.50" width="4.40" height="9.15" fill="#ff00e6"/>
<rect x="276.55" y="202.50" width="4.40" height="5.15" fill="#ff00e1"/>
<rect x="276.55" y="207.50" width="4.40" height="3.95" fill="#ff00dd"/>
<rect x="276.55" y="211.30" width="4.40" height="2.65" fill="#ff00d9"/>
<rect x="276.55" y="213.80" width="4.40" height="2.65" fill="#ff00d4"/>
<rect x="276.55" y="216.30" width="4.40" height="2.65" fill="#ff00d0"/>
<rect x="276.55" y="218.80" width="4.40" height="2.35" fill="#ff00cc"/>
<rect x="276.55" y="221.00" width="4.40" height="2.15" fill="#ff00c8"/>
<rect x="276.55" y="223.00" width="4.40" height="2.15" fill="#ff00c3"/>
<rect x="276.55" y="225.00" width="4.40" height="2.15" fill="#ff00bf"/>
<rect x="276.55" y="227.00" width="4.40" height="2.15" fill="#ff00bb"/>
<rect x="276.55" y="229.00" width="4.40" height="2.15" fill="#ff00b7"/>
<rect x="276.55" y="231.00" width="4.40" height="9.45" fill="#ff00b3"/>
<rect x="276.55" y="240.30" width="4.40" height="16.65" fill="#ff00b7"/>
<rect x="276.55" y="256.80" width="4.40" height="9.95" fill="#ff00bb"/>
<rect x="276.55" y="266.60" width="4.40" height="3.25" fill="#ff00bf"/>
<rect x="276.55" y="269.70" width="4.40" height="3.25" fill="#ff00c3"/>
<rect x="276.55" y="272.80" width="4.40" height="3.25" fill="#ff00c8"/>
<rect x="276.55" y="275.90" width="4.40" height="3.35" fill="#ff00cc"/>
<rect x="276.55" y="279.10" width="4.40" height="3.25" fill="#ff00d0"/>
<rect x="276.55" y="282.20" width="4.40" height="3.25" fill="#ff00d4"/>
<rect x="276.55" y="285.30" width="4.40" height="3.25" fill="#ff00d9"/>
<rect x="276.55" y="288.40" width="4.40" height="3.65" fill="#ff00dd"/>
<rect x="276.55" y="291.90" width="4.40" height="3.85" fill="#ff00e1"/>
<rect x="276.55" y="295.60" width="4.40" height="3.95" fill="#ff00e6"/>
<rect x="276.55" y="299.40" width="4.40" height="3.85" fill="#ff00ea"/>
<rect x="276.55" y="303.10" width="4.40" height="3.95" fill="#ff00ee"/>
<rect x="276.55" y="306.90" width="4.40" height="3.85" fill="#ff00f2"/>
<rect x="276.55" y="310.60" width="4.40" height="3.95" fill="#ff00f7"/>
<rect x="276.55" y="314.40" width="4.40" height="3.85" fill="#ff00fb"/>
<rect x="276.55" y="318.10" width="4.40" height="6.25" fill="#ff00ff"/>
<rect x="276.55" y="324.20" width="4.40" height="8.65" fill="#fb00ff"/>
<rect x="276.55" y="332.70" width="4.40" height="5.05" fill="#f700ff"/>
<rect x="276.55" y="337.60" width="4.40" height="1.25" fill="#f200ff"/>
<rect x="276.55" y="338.70" width="4.40" height="1.35" fill="#ee00ff"/>
<rect x="276.55" y="339.90" width="4.40" height="1.25" fill="#ea00ff"/>
<rect x="276.55" y="341.00" width="4.40" height="1.35" fill="#e600ff"/>
<rect x="276.55" y="342.20" width="4.40" height="1.25" fill="#e100ff"/>
<rect x="276.55" y="343.30" width="4.40" height="1.35" fill="#dd00ff"/>
<rect x="276.55" y="344.50" width="4.40" height="1.35" fill="#d900ff"/>
<rect x="276.55" y="345.70" width="4.40" height="1.25" fill="#d500ff"/>
<rect x="276.55" y="346.80" width="4.40" height="1.35" fill="#d000ff"/>
<rect x="276.55" y="348.00" width="4.40" height="1.25" fill="#cc00ff"/>
<rect x="276.55" y="349.10" width="4.40" height="1.35" fill="#c800ff"/>
<rect x="276.55" y="350.30" width="4.40" height="1.25" fill="#c300ff"/>
<rect x="276.55" y="351.40" width="4.40" height="1.45" fill="#bf00ff"/>
<rect x="276.55" y="352.70" width="4.40" height="1.45" fill="#bb00ff"/>
<rect x="276.55" y="354.00" width="4.40" height="1.45" fill="#b700ff"/>
<rect x="276.55" y="355.30" width="4.40" height="1.55" fill="#b300ff"/>
<rect x="276.55" y="356.70" width="4.40" height="1.45" fill="#ae00ff"/>
<rect x="276.55" y="358.00" width="4.40" height="1.45" fill="#aa00ff"/>
<rect x="276.55" y="359.30" width="4.40" height="1.55" fill="#a600ff"/>
<rect x="276.55" y="360.70" width="4.40" height="1.45" fill="#a200ff"/>
<rect x="276.55" y="362.00" width="4.40" height="1.45" fill="#9d00ff"/>
<rect x="276.55" y="363.30" width="4.40" height="1.55" fill="#9900ff"/>
<rect x="276.55" y="364.70" width="4.40" height="1.45" fill="#9500ff"/>
<rect x="276.55" y="366.00" width="4.40" height="1.45" fill="#9000ff"/>
<rect x="276.55" y="367.30" width="4.40" height="1.55" fill="#8c00ff"/>
<rect x="276.55" y="368.70" width="4.40" height="1.45" fill="#8800ff"/>
<rect x="276.55" y="370.00" width="4.40" height="1.45" fill="#8400ff"/>
<rect x="276.55" y="371.30" width="4.40" height="1.95" fill="#8000ff"/>
<rect x="276.55" y="373.10" width="4.40" height="2.25" fill="#7b00ff"/>
<rect x="276.55" y="375.20" width="4.40" height="2.25" fill="#7700ff"/>
<rect x="276.55" y="377.30" width="4.40" height="2.25" fill="#7300ff"/>
<rect x="276.55" y="379.40" width="4.40" height="2.35" fill="#6f00ff"/>
<rect x="276.55" y="381.60" width="4.40" height="2.25" fill="#6a00ff"/>
<rect x="276.55" y="383.70" width="4.40" height="2.25" fill="#6600ff"/>
<rect x="276.55" y="385.80" width="4.40" height="2.25" fill="#6200ff"/>
<rect x="276.55" y="387.90" width="4.40" height="2.15" fill="#5d00ff"/>
<rect x="280.65" y="140.90" width="2.40" height="1.35" fill="#bf00ff"/>
<rect x="280.65" y="142.10" width="2.40" height="2.35" fill="#c300ff"/>
<rect x="280.65" y="144.30" width="2.40" height="2.45" fill="#c800ff"/>
<rect x="280.65" y="146.60" width="2.40" height="2.35" fill="#cc00ff"/>
<rect x="280.65" y="148.80" width="2.40" height="2.35" fill="#d000ff"/>
<rect x="280.65" y="151.00" width="2.40" height="2.45" fill="#d500ff"/>
<rect x="280.65" y="153.30" width="2.40" height="2.35" fill="#d900ff"/>
<rect x="280.65" y="155.50" width="2.40" height="2.35" fill="#dd00ff"/>
<rect x="280.65" y="157.70" width="2.40" height="2.45" fill="#e100ff"/>
<rect x="280.65" y="160.00" width="2.40" height="2.35" fill="#e600ff"/>
<rect x="280.65" y="162.20" width="2.40" height="2.35" fill="#ea00ff"/>
<rect x="280.65" y="164.40" width="2.40" height="2.45" fill="#ee00ff"/>
<rect x="280.65" y="166.70" width="2.40" height="2.35" fill="#f200ff"/>
<rect x="280.65" y="168.90" width="2.40" height="2.65" fill="#f700ff"/>
<rect x="280.65" y="171.40" width="2.40" height="3.05" fill="#fb00ff"/>
<rect x="280.65" y="174.30" width="2.40" height="2.95" fill="#ff00ff"/>
<rect x="280.65" y="177.10" width="2.40" height="2.95" fill="#ff00fb"/>
<rect x="280.65" y="179.90" width="2.40" height="3.05" fill="#ff00f7"/>
<rect x="280.65" y="182.80" width="2.40" height="2.95" fill="#ff00f2"/>
<rect x="280.65" y="185.60" width="2.40" height="3.15" fill="#ff00ee"/>
<rect x="280.65" y="188.60" width="2.40" height="3.45" fill="#ff00ea"/>
<rect x="280.65" y="191.90" width="2.40" height="3.35" fill="#ff00e6"/>
<rect x="280.65" y="195.10" width="2.40" height="3.45" fill="#ff00e1"/>
<rect x="280.65" y="198.40" width="2.40" height="2.15" fill="#ff00dd"/>
<rect x="280.65" y="200.40" width="2.40" height="1.05" fill="#ff00d9"/>
<rect x="280.65" y="201.30" width="2.40" height="0.95" fill="#ff00d4"/>
<rect x="280.65" y="202.10" width="2.40" height="0.95" fill="#ff00d0"/>
<rect x="280.65" y="202.90" width="2.40" height="1.05" fill="#ff00cc"/>
<rect x="280.65" y="203.80" width="2.40" height="0.95" fill="#ff00c8"/>
<rect x="280.65" y="204.60" width="2.40" height="0.95" fill="#ff00c3"/>
<rect x="280.65" y="205.40" width="2.40" height="1.05" fill="#ff00bf"/>
<rect x="280.65" y="206.30" width="2.40" height="0.95" fill="#ff00bb"/>
<rect x="280.65" y="207.10" width="2.40" height="0.95" fill="#ff00b7"/>
<rect x="280.65" y="207.90" width="2.40" height="1.05" fill="#ff00b3"/>
<rect x="280.65" y="208.80" width="2.40" height="0.95" fill="#ff00ae"/>
<rect x="280.65" y="209.60" width="2.40" height="1.05" fill="#ff00aa"/>
<rect x="280.65" y="210.50" width="2.40" height="1.15" fill="#ff00a6"/>
<rect x="280.65" y="211.50" width="2.40" height="1.15" fill="#ff00a1"/>
<rect x="280.65" y="212.50" width="2.40" height="1.15" fill="#ff009d"/>
<rect x="280.65" y="213.50" width="2.40" height="1.15" fill="#ff0099"/>
<rect x="280.65" y="214.50" width="2.40" height="1.15" fill="#ff0095"/>
<rect x="280.65" y="215.50" width="2.40" height="1.15" fill="#ff0090"/>
<rect x="280.65" y="216.50" width="2.40" height="1.15" fill="#ff008c"/>
<rect x="280.65" y="217.50" width="2.40" height="1.15" fill="#ff0088"/>
<rect x="280.65" y="218.50" width="2.40" height="1.15" fill="#ff0084"/>
<rect x="280.65" y="219.50" width="2.40" height="1.85" fill="#ff0080"/>
<rect x="280.65" y="221.20" width="2.40" height="2.55" fill="#ff007b"/>
<rect x="280.65" y="223.60" width="2.40" height="2.55" fill="#ff0077"/>
<rect x="280.65" y="226.00" width="2.40" height="2.55" fill="#ff0073"/>
<rect x="280.65" y="228.40" width="2.40" height="2.55" fill="#ff006f"/>
<rect x="280.65" y="230.80" width="2.40" height="36.85" fill="#ff006a"/>
<rect x="280.65" y="267.50" width="2.40" height="5.15" fill="#ff006f"/>
<rect x="280.65" y="272.50" width="2.40" height="5.15" fill="#ff0073"/>
<rect x="280.65" y="277.50" width="2.40" height="5.15" fill="#ff0077"/>
<rect x="280.65" y="282.50" width="2.40" height="5.15" fill="#ff007b"/>
<rect x="280.65" y="287.50" width="2.40" height="5.65" fill="#ff0080"/>
<rect x="280.65" y="293.00" width="2.40" height="6.15" fill="#ff0084"/>
<rect x="280.65" y="299.00" width="2.40" height="6.15" fill="#ff0088"/>
<rect x="280.65" y="305.00" width="2.40" height="6.15" fill="#ff008c"/>
<rect x="280.65" y="311.00" width="2.40" height="6.15" fill="#ff0090"/>
<rect x="280.65" y="317.00" width="2.40" height="4.85" fill="#ff0095"/>
<rect x="280.65" y="321.70" width="2.40" height="3.55" fill="#ff0099"/>
<rect x="280.65" y="325.10" width="2.40" height="3.55" fill="#ff009d"/>
<rect x="280.65" y="328.50" width="2.40" height="3.55" fill="#ff00a1"/>
<rect x="280.65" y="331.90" width="2.40" height="3.55" fill="#ff00a6"/>
<rect x="280.65" y="335.30" width="2.40" height="5.55" fill="#ff00aa"/>
<rect x="280.65" y="340.70" width="2.40" height="7.65" fill="#ff00ae"/>
<rect x="280.65" y="348.20" width="2.40" height="4.95" fill="#ff00b3"/>
<rect x="280.65" y="353.00" width="2.40" height="2.15" fill="#ff00b7"/>
<rect x="280.65" y="355.00" width="2.40" height="2.15" fill="#ff00bb"/>
<rect x="280.65" y="357.00" width="2.40" height="2.15" fill="#ff00bf"/>
<rect x="280.65" y="359.00" width="2.40" height="1.85" fill="#ff00c3"/>
<rect x="280.65" y="360.70" width="2.40" height="1.45" fill="#ff00c8"/>
<rect x="280.65" y="362.00" width="2.40" height="1.45" fill="#ff00cc"/>
<rect x="280.65" y="363.30" width="2.40" height="1.55" fill="#ff00d0"/>
<rect x="280.65" y="364.70" width="2.40" height="1.45" fill="#ff00d4"/>
<rect x="280.65" y="366.00" width="2.40" height="1.45" fill="#ff00d9"/>
<rect x="280.65" y="367.30" width="2.40" height="1.55" fill="#ff00dd"/>
<rect x="280.65" y="368.70" width="2.40" height="1.45" fill="#ff00e1"/>
<rect x="280.65" y="370.00" width="2.40" height="1.45" fill="#ff00e6"/>
<rect x="280.65" y="371.30" width="2.40" height="1.75" fill="#ff00ea"/>
<rect x="280.65" y="372.90" width="2.40" height="2.05" fill="#ff00ee"/>
<rect x="280.65" y="374.80" width="2.40" height="2.05" fill="#ff00f2"/>
<rect x="280.65" y="376.70" width="2.40" height="2.05" fill="#ff00f7"/>
<rect x="280.65" y="378.60" width="2.40" height="2.05" fill="#ff00fb"/>
<rect x="280.65" y="380.50" width="2.40" height="2.05" fill="#ff00ff"/>
<rect x="280.65" y="382.40" width="2.40" height="2.05" fill="#fb00ff"/>
<rect x="280.65" y="384.30" width="2.40" height="2.05" fill="#f700ff"/>
<rect x="280.65" y="386.20" width="2.40" height="2.05" fill="#f200ff"/>
<rect x="280.65" y="388.10" width="2.40" height="1.95" fill="#ee00ff"/>
<rect x="282.75" y="140.90" width="15.60" height="4.95" fill="#7300ff"/>
<rect x="282.75" y="145.70" width="15.60" height="9.75" fill="#7700ff"/>
<rect x="282.75" y="155.30" width="15.60" height="6.15" fill="#7b00ff"/>
<rect x="282.75" y="161.30" width="15.60" height="2.65" fill="#8000ff"/>
<rect x="282.75" y="163.80" width="15.60" height="2.65" fill="#8400ff"/>
<rect x="282.75" y="166.30" width="15.60" height="2.65" fill="#8800ff"/>
<rect x="282.75" y="168.80" width="15.60" height="1.95" fill="#8c00ff"/>
<rect x="282.75" y="170.60" width="15.60" height="1.45" fill="#9000ff"/>
<rect x="282.75" y="171.90" width="15.60" height="1.35" fill="#9500ff"/>
<rect x="282.75" y="173.10" width="15.60" height="1.45" fill="#9900ff"/>
<rect x="282.75" y="174.40" width="15.60" height="1.35" fill="#9d00ff"/>
<rect x="282.75" y="175.60" width="15.60" height="1.45" fill="#a200ff"/>
<rect x="282.75" y="176.90" width="15.60" height="1.35" fill="#a600ff"/>
<rect x="282.75" y="178.10" width="15.60" height="1.45" fill="#aa00ff"/>
<rect x="282.75" y="179.40" width="15.60" height="1.25" fill="#ae00ff"/>
<rect x="282.75" y="180.50" width="15.60" height="1.15" fill="#b300ff"/>
<rect x="282.75" y="181.50" width="15.60" height="1.15" fill="#b700ff"/>
<rect x="282.75" y="182.50" width="15.60" height="1.15" fill="#bb00ff"/>
<rect x="282.75" y="183.50" width="15.60" height="1.15" fill="#bf00ff"/>
<rect x="282.75" y="184.50" width="15.60" height="1.15" fill="#c300ff"/>
<rect x="282.75" y="185.50" width="15.60" height="1.15" fill="#c800ff"/>
<rect x="282.75" y="186.50" width="15.60" height="0.95" fill="#cc00ff"/>
<rect x="282.75" y="187.30" width="15.60" height="0.85" fill="#d000ff"/>
<rect x="282.75" y="188.00" width="15.60" height="0.85" fill="#d500ff"/>
<rect x="282.75" y="188.70" width="15.60" height="0.75" fill="#d900ff"/>
<rect x="282.75" y="189.30" width="15.60" height="0.85" fill="#dd00ff"/>
<rect x="282.75" y="190.00" width="15.60" height="0.85" fill="#e100ff"/>
<rect x="282.75" y="190.70" width="15.60" height="0.75" fill="#e600ff"/>
<rect x="282.75" y="191.30" width="15.60" height="0.85" fill="#ea00ff"/>
<rect x="282.75" y="192.00" width="15.60" height="0.85" fill="#ee00ff"/>
<rect x="282.75" y="192.70" width="15.60" height="0.75" fill="#f200ff"/>
<rect x="282.75" y="193.30" width="15.60" height="0.85" fill="#f700ff"/>
<rect x="282.75" y="194.00" width="15.60" height="0.85" fill="#fb00ff"/>
<rect x="282.75" y="194.70" width="15.60" height="0.75" fill="#ff00ff"/>
<rect x="282.75" y="195.30" width="15.60" height="0.75" fill="#ff00fb"/>
<rect x="282.75" y="195.90" width="15.60" height="0.85" fill="#ff00f7"/>
<rect x="282.75" y="196.60" width="15.60" height="0.75" fill="#ff00f2"/>
<rect x="282.75" y="197.20" width="15.60" height="0.75" fill="#ff00ee"/>
<rect x="282.75" y="197.80" width="15.60" height="0.75" fill="#ff00ea"/>
<rect x="282.75" y="198.40" width="15.60" height="0.85" fill="#ff00e6"/>
<rect x="282.75" y="199.10" width="15.60" height="0.75" fill="#ff00e1"/>
<rect x="282.75" y="199.70" width="15.60" height="0.65" fill="#ff00dd"/>
<rect x="282.75" y="200.20" width="15.60" height="0.45" fill="#ff00d9"/>
<rect x="282.75" y="200.50" width="15.60" height="0.55" fill="#ff00d4"/>
<rect x="282.75" y="200.90" width="15.60" height="0.55" fill="#ff00d0"/>
<rect x="282.75" y="201.30" width="15.60" height="0.45" fill="#ff00cc"/>
<rect x="282.75" y="201.60" width="15.60" height="0.55" fill="#ff00c8"/>
<rect x="282.75" y="202.00" width="15.60" height="0.45" fill="#ff00c3"/>
<rect x="282.75" y="202.30" width="15.60" height="0.55" fill="#ff00bf"/>
<rect x="282.75" y="202.70" width="15.60" height="0.45" fill="#ff00bb"/>
<rect x="282.75" y="203.00" width="15.60" height="0.55" fill="#ff00b7"/>
<rect x="282.75" y="203.40" width="15.60" height="0.55" fill="#ff00b3"/>
<rect x="282.75" y="203.80" width="15.60" height="0.45" fill="#ff00ae"/>
<rect x="282.75" y="204.10" width="15.60" height="0.55" fill="#ff00aa"/>
<rect x="282.75" y="204.50" width="15.60" height="0.45" fill="#ff00a6"/>
<rect x="282.75" y="204.80" width="15.60" height="0.55" fill="#ff00a1"/>
<rect x="282.75" y="205.20" width="15.60" height="0.45" fill="#ff009d"/>
<rect x="282.75" y="205.50" width="15.60" height="0.45" fill="#ff0099"/>
<rect x="282.75" y="205.80" width="15.60" height="0.45" fill="#ff0095"/>
<rect x="282.75" y="206.10" width="15.60" height="0.45" fill="#ff0090"/>
<rect x="282.75" y="206.40" width="15.60" height="0.45" fill="#ff008c"/>
<rect x="282.75" y="206.70" width="15.60" height="0.45" fill="#ff0088"/>
<rect x="282.75" y="207.00" width="15.60" height="0.45" fill="#ff0084"/>
<rect x="282.75" y="207.30" width="15.60" height="0.55" fill="#ff0080"/>
<rect x="282.75" y="207.70" width="15.60" height="0.45" fill="#ff007b"/>
<rect x="282.75" y="208.00" width="15.60" height="0.45" fill="#ff0077"/>
<rect x="282.75" y="208.30" width="15.60" height="0.45" fill="#ff0073"/>
<rect x="282.75" y="208.60" width="15.60" height="0.45" fill="#ff006f"/>
<rect x="282.75" y="208.90" width="15.60" height="0.45" fill="#ff006a"/>
<rect x="282.75" y="209.20" width="15.60" height="0.45" fill="#ff0066"/>
<rect x="282.75" y="209.50" width="15.60" height="0.45" fill="#ff0062"/>
<rect x="282.75" y="209.80" width="15.60" height="0.75" fill="#ff005e"/>
<rect x="282.75" y="210.40" width="15.60" height="1.05" fill="#ff0059"/>
<rect x="282.75" y="211.30" width="15.60" height="0.95" fill="#ff0055"/>
<rect x="282.75" y="212.10" width="15.60" height="0.95" fill="#ff0051"/>
<rect x="282.75" y="212.90" width="15.60" height="1.05" fill="#ff004d"/>
<rect x="282.75" y="213.80" width="15.60" height="0.95" fill="#ff0048"/>
<rect x="282.75" y="214.60" width="15.60" height="0.95" fill="#ff0044"/>
<rect x="282.75" y="215.40" width="15.60" height="1.05" fill="#ff0040"/>
<rect x="282.75" y="216.30" width="15.60" height="0.95" fill="#ff003c"/>
<rect x="282.75" y="217.10" width="15.60" height="0.95" fill="#ff0037"/>
<rect x="282.75" y="217.90" width="15.60" height="1.05" fill="#ff0033"/>
<rect x="282.75" y="218.80" width="15.60" height="0.95" fill="#ff002f"/>
<rect x="282.75" y="219.60" width="15.60" height="2.05" fill="#ff002b"/>
<rect x="282.75" y="221.50" width="15.60" height="3.15" fill="#ff0026"/>
<rect x="282.75" y="224.50" width="15.60" height="3.15" fill="#ff0022"/>
<rect x="282.75" y="227.50" width="15.60" height="3.15" fill="#ff001e"/>
<rect x="282.75" y="230.50" width="15.60" height="6.15" fill="#ff001a"/>
<rect x="282.75" y="236.50" width="15.60" height="9.15" fill="#ff001e"/>
<rect x="282.75" y="245.50" width="15.60" height="5.95" fill="#ff0022"/>
<rect x="282.75" y="251.30" width="15.60" height="2.65" fill="#ff0026"/>
<rect x="282.75" y="253.80" width="15.60" height="2.65" fill="#ff002b"/>
<rect x="282.75" y="256.30" width="15.60" height="2.65" fill="#ff002f"/>
<rect x="282.75" y="258.80" width="15.60" height="2.65" fill="#ff0033"/>
<rect x="282.75" y="261.30" width="15.60" height="2.65" fill="#ff0037"/>
<rect x="282.75" y="263.80" width="15.60" height="5.55" fill="#ff003c"/>
<rect x="282.75" y="269.20" width="15.60" height="8.45" fill="#ff0040"/>
<rect x="282.75" y="277.50" width="15.60" height="8.45" fill="#ff0044"/>
<rect x="282.75" y="285.80" width="15.60" height="11.85" fill="#ff0048"/>
<rect x="282.75" y="297.50" width="15.60" height="15.15" fill="#ff0044"/>
<rect x="282.75" y="312.50" width="15.60" height="9.75" fill="#ff0040"/>
<rect x="282.75" y="322.10" width="15.60" height="4.45" fill="#ff0044"/>
<rect x="282.75" y="326.40" width="15.60" height="4.35" fill="#ff0048"/>
<rect x="282.75" y="330.60" width="15.60" height="4.45" fill="#ff004d"/>
<rect x="282.75" y="334.90" width="15.60" height="3.05" fill="#ff0051"/>
<rect x="282.75" y="337.80" width="15.60" height="1.85" fill="#ff0055"/>
<rect x="282.75" y="339.50" width="15.60" height="1.85" fill="#ff0059"/>
<rect x="282.75" y="341.20" width="15.60" height="1.75" fill="#ff005e"/>
<rect x="282.75" y="342.80" width="15.60" height="1.85" fill="#ff0062"/>
<rect x="282.75" y="344.50" width="15.60" height="1.85" fill="#ff0066"/>
<rect x="282.75" y="346.20" width="15.60" height="1.75" fill="#ff006a"/>
<rect x="282.75" y="347.80" width="15.60" height="1.85" fill="#ff006f"/>
<rect x="282.75" y="349.50" width="15.60" height="1.85" fill="#ff0073"/>
<rect x="282.75" y="351.20" width="15.60" height="1.35" fill="#ff0077"/>
<rect x="282.75" y="352.40" width="15.60" height="0.95" fill="#ff007b"/>
<rect x="282.75" y="353.20" width="15.60" height="0.95" fill="#ff0080"/>
<rect x="282.75" y="354.00" width="15.60" height="0.95" fill="#ff0084"/>
<rect x="282.75" y="354.80" width="15.60" height="0.95" fill="#ff0088"/>
<rect x="282.75" y="355.60" width="15.60" height="0.95" fill="#ff008c"/>
<rect x="282.75" y="356.40" width="15.60" height="0.95" fill="#ff0090"/>
<rect x="282.75" y="357.20" width="15.60" height="0.95" fill="#ff0095"/>
<rect x="282.75" y="358.00" width="15.60" height="0.95" fill="#ff0099"/>
<rect x="282.75" y="358.80" width="15.60" height="0.95" fill="#ff009d"/>
<rect x="282.75" y="359.60" width="15.60" height="0.95" fill="#ff00a1"/>
<rect x="282.75" y="360.40" width="15.60" height="0.85" fill="#ff00a6"/>
<rect x="282.75" y="361.10" width="15.60" height="0.85" fill="#ff00aa"/>
<rect x="282.75" y="361.80" width="15.60" height="0.85" fill="#ff00ae"/>
<rect x="282.75" y="362.50" width="15.60" height="0.85" fill="#ff00b3"/>
<rect x="282.75" y="363.20" width="15.60" height="0.85" fill="#ff00b7"/>
<rect x="282.75" y="363.90" width="15.60" height="0.85" fill="#ff00bb"/>
<rect x="282.75" y="364.60" width="15.60" height="0.85" fill="#ff00bf"/>
<rect x="282.75" y="365.30" width="15.60" height="0.85" fill="#ff00c3"/>
<rect x="282.75" y="366.00" width="15.60" height="0.85" fill="#ff00c8"/>
<rect x="282.75" y="366.70" width="15.60" height="0.85" fill="#ff00cc"/>
<rect x="282.75" y="367.40" width="15.60" height="0.85" fill="#ff00d0"/>
<rect x="282.75" y="368.10" width="15.60" height="0.85" fill="#ff00d4"/>
<rect x="282.75" y="368.80" width="15.60" height="0.85" fill="#ff00d9"/>
<rect x="282.75" y="369.50" width="15.60" height="0.85" fill="#ff00dd"/>
<rect x="282.75" y="370.20" width="15.60" height="0.85" fill="#ff00e1"/>
<rect x="282.75" y="370.90" width="15.60" height="0.85" fill="#ff00e6"/>
<rect x="282.75" y="371.60" width="15.60" height="1.25" fill="#ff00ea"/>
<rect x="282.75" y="372.70" width="15.60" height="1.55" fill="#ff00ee"/>
<rect x="282.75" y="374.10" width="15.60" height="1.55" fill="#ff00f2"/>
<rect x="282.75" y="375.50" width="15.60" height="1.65" fill="#ff00f7"/>
<rect x="282.75" y="377.00" width="15.60" height="1.55" fill="#ff00fb"/>
<rect x="282.75" y="378.40" width="15.60" height="1.55" fill="#ff00ff"/>
<rect x="282.75" y="379.80" width="15.60" height="1.55" fill="#fb00ff"/>
<rect x="282.75" y="381.20" width="15.60" height="1.55" fill="#f700ff"/>
<rect x="282.75" y="382.60" width="15.60" height="1.55" fill="#f200ff"/>
<rect x="282.75" y="384.00" width="15.60" height="1.65" fill="#ee00ff"/>
<rect x="282.75" y="385.50" width="15.60" height="1.55" fill="#ea00ff"/>
<rect x="282.75" y="386.90" width="15.60" height="1.55" fill="#e600ff"/>
<rect x="282.75" y="388.30" width="15.60" height="1.75" fill="#e100ff"/>
<rect x="298.05" y="140.90" width="16.50" height="4.95" fill="#8400ff"/>
<rect x="298.05" y="145.70" width="16.50" height="9.75" fill="#8800ff"/>
<rect x="298.05" y="155.30" width="16.50" height="6.15" fill="#8c00ff"/>
<rect x="298.05" y="161.30" width="16.50" height="2.65" fill="#9000ff"/>
<rect x="298.05" y="163.80" width="16.50" height="2.65" fill="#9500ff"/>
<rect x="298.05" y="166.30" width="16.50" height="2.65" fill="#9900ff"/>
<rect x="298.05" y="168.80" width="16.50" height="1.95" fill="#9d00ff"/>
<rect x="298.05" y="170.60" width="16.50" height="1.25" fill="#a200ff"/>
<rect x="298.05" y="171.70" width="16.50" height="1.25" fill="#a600ff"/>
<rect x="298.05" y="172.80" width="16.50" height="1.25" fill="#aa00ff"/>
<rect x="298.05" y="173.90" width="16.50" height="1.25" fill="#ae00ff"/>
<rect x="298.05" y="175.00" width="16.50" height="1.25" fill="#b300ff"/>
<rect x="298.05" y="176.10" width="16.50" height="1.25" fill="#b700ff"/>
<rect x="298.05" y="177.20" width="16.50" height="1.25" fill="#bb00ff"/>
<rect x="298.05" y="178.30" width="16.50" height="1.25" fill="#bf00ff"/>
<rect x="298.05" y="179.40" width="16.50" height="1.15" fill="#c300ff"/>
<rect x="298.05" y="180.40" width="16.50" height="0.95" fill="#c800ff"/>
<rect x="298.05" y="181.20" width="16.50" height="0.85" fill="#cc00ff"/>
<rect x="298.05" y="181.90" width="16.50" height="0.95" fill="#d000ff"/>
<rect x="298.05" y="182.70" width="16.50" height="0.95" fill="#d500ff"/>
<rect x="298.05" y="183.50" width="16.50" height="0.95" fill="#d900ff"/>
<rect x="298.05" y="184.30" width="16.50" height="0.95" fill="#dd00ff"/>
<rect x="298.05" y="185.10" width="16.50" height="0.85" fill="#e100ff"/>
<rect x="298.05" y="185.80" width="16.50" height="0.95" fill="#e600ff"/>
<rect x="298.05" y="186.60" width="16.50" height="0.95" fill="#ea00ff"/>
<rect x="298.05" y="187.40" width="16.50" height="0.95" fill="#ee00ff"/>
<rect x="298.05" y="188.20" width="16.50" height="0.95" fill="#f200ff"/>
<rect x="298.05" y="189.00" width="16.50" height="0.95" fill="#f700ff"/>
<rect x="298.05" y="189.80" width="16.50" height="0.95" fill="#fb00ff"/>
<rect x="298.05" y="190.60" width="16.50" height="0.95" fill="#ff00ff"/>
<rect x="298.05" y="191.40" width="16.50" height="0.95" fill="#ff00fb"/>
<rect x="298.05" y="192.20" width="16.50" height="0.95" fill="#ff00f7"/>
<rect x="298.05" y="193.00" width="16.50" height="0.95" fill="#ff00f2"/>
<rect x="298.05" y="193.80" width="16.50" height="0.95" fill="#ff00ee"/>
<rect x="298.05" y="194.60" width="16.50" height="0.95" fill="#ff00ea"/>
<rect x="298.05" y="195.40" width="16.50" height="0.85" fill="#ff00e6"/>
<rect x="298.05" y="196.10" width="16.50" height="0.85" fill="#ff00e1"/>
<rect x="298.05" y="196.80" width="16.50" height="0.85" fill="#ff00dd"/>
<rect x="298.05" y="197.50" width="16.50" height="0.85" fill="#ff00d9"/>
<rect x="298.05" y="198.20" width="16.50" height="0.85" fill="#ff00d4"/>
<rect x="298.05" y="198.90" width="16.50" height="0.85" fill="#ff00d0"/>
<rect x="298.05" y="199.60" width="16.50" height="0.75" fill="#ff00cc"/>
<rect x="298.05" y="200.20" width="16.50" height="0.55" fill="#ff00c8"/>
<rect x="298.05" y="200.60" width="16.50" height="0.55" fill="#ff00c3"/>
<rect x="298.05" y="201.00" width="16.50" height="0.65" fill="#ff00bf"/>
<rect x="298.05" y="201.50" width="16.50" height="0.55" fill="#ff00bb"/>
<rect x="298.05" y="201.90" width="16.50" height="0.55" fill="#ff00b7"/>
<rect x="298.05" y="202.30" width="16.50" height="0.55" fill="#ff00b3"/>
<rect x="298.05" y="202.70" width="16.50" height="0.55" fill="#ff00ae"/>
<rect x="298.05" y="203.10" width="16.50" height="0.55" fill="#ff00aa"/>
<rect x="298.05" y="203.50" width="16.50" height="0.65" fill="#ff00a6"/>
<rect x="298.05" y="204.00" width="16.50" height="0.55" fill="#ff00a1"/>
<rect x="298.05" y="204.40" width="16.50" height="0.55" fill="#ff009d"/>
<rect x="298.05" y="204.80" width="16.50" height="0.55" fill="#ff0099"/>
<rect x="298.05" y="205.20" width="16.50" height="0.55" fill="#ff0095"/>
<rect x="298.05" y="205.60" width="16.50" height="0.55" fill="#ff0090"/>
<rect x="298.05" y="206.00" width="16.50" height="0.65" fill="#ff008c"/>
<rect x="298.05" y="206.50" width="16.50" height="0.55" fill="#ff0088"/>
<rect x="298.05" y="206.90" width="16.50" height="0.55" fill="#ff0084"/>
<rect x="298.05" y="207.30" width="16.50" height="0.55" fill="#ff0080"/>
<rect x="298.05" y="207.70" width="16.50" height="0.55" fill="#ff007b"/>
<rect x="298.05" y="208.10" width="16.50" height="0.55" fill="#ff0077"/>
<rect x="298.05" y="208.50" width="16.50" height="0.65" fill="#ff0073"/>
<rect x="298.05" y="209.00" width="16.50" height="0.55" fill="#ff006f"/>
<rect x="298.05" y="209.40" width="16.50" height="0.55" fill="#ff006a"/>
<rect x="298.05" y="209.80" width="16.50" height="0.75" fill="#ff0066"/>
<rect x="298.05" y="210.40" width="16.50" height="0.85" fill="#ff0062"/>
<rect x="298.05" y="211.10" width="16.50" height="0.85" fill="#ff005e"/>
<rect x="298.05" y="211.80" width="16.50" height="0.85" fill="#ff0059"/>
<rect x="298.05" y="212.50" width="16.50" height="0.85" fill="#ff0055"/>
<rect x="298.05" y="213.20" width="16.50" height="0.85" fill="#ff0051"/>
<rect x="298.05" y="213.90" width="16.50" height="0.85" fill="#ff004d"/>
<rect x="298.05" y="214.60" width="16.50" height="0.95" fill="#ff0048"/>
<rect x="298.05" y="215.40" width="16.50" height="0.85" fill="#ff0044"/>
<rect x="298.05" y="216.10" width="16.50" height="0.85" fill="#ff0040"/>
<rect x="298.05" y="216.80" width="16.50" height="0.85" fill="#ff003c"/>
<rect x="298.05" y="217.50" width="16.50" height="0.85" fill="#ff0037"/>
<rect x="298.05" y="218.20" width="16.50" height="0.85" fill="#ff0033"/>
<rect x="298.05" y="218.90" width="16.50" height="0.85" fill="#ff002f"/>
<rect x="298.05" y="219.60" width="16.50" height="1.45" fill="#ff002b"/>
<rect x="298.05" y="220.90" width="16.50" height="1.85" fill="#ff0026"/>
<rect x="298.05" y="222.60" width="16.50" height="1.85" fill="#ff0022"/>
<rect x="298.05" y="224.30" width="16.50" height="1.85" fill="#ff001e"/>
<rect x="298.05" y="226.00" width="16.50" height="1.85" fill="#ff001a"/>
<rect x="298.05" y="227.70" width="16.50" height="1.85" fill="#ff0015"/>
<rect x="298.05" y="229.40" width="16.50" height="1.85" fill="#ff0011"/>
<rect x="298.05" y="231.10" width="16.50" height="38.25" fill="#ff000d"/>
<rect x="298.05" y="269.20" width="16.50" height="8.45" fill="#ff0011"/>
<rect x="298.05" y="277.50" width="16.50" height="8.45" fill="#ff0015"/>
<rect x="298.05" y="285.80" width="16.50" height="11.85" fill="#ff001a"/>
<rect x="298.05" y="297.50" width="16.50" height="15.15" fill="#ff001e"/>
<rect x="298.05" y="312.50" width="16.50" height="9.35" fill="#ff0022"/>
<rect x="298.05" y="321.70" width="16.50" height="3.55" fill="#ff0026"/>
<rect x="298.05" y="325.10" width="16.50" height="3.55" fill="#ff002b"/>
<rect x="298.05" y="328.50" width="16.50" height="3.55" fill="#ff002f"/>
<rect x="298.05" y="331.90" width="16.50" height="3.55" fill="#ff0033"/>
<rect x="298.05" y="335.30" width="16.50" height="2.45" fill="#ff0037"/>
<rect x="298.05" y="337.60" width="16.50" height="1.45" fill="#ff003c"/>
<rect x="298.05" y="338.90" width="16.50" height="1.35" fill="#ff0040"/>
<rect x="298.05" y="340.10" width="16.50" height="1.45" fill="#ff0044"/>
<rect x="298.05" y="341.40" width="16.50" height="1.35" fill="#ff0048"/>
<rect x="298.05" y="342.60" width="16.50" height="1.45" fill="#ff004d"/>
<rect x="298.05" y="343.90" width="16.50" height="1.35" fill="#ff0051"/>
<rect x="298.05" y="345.10" width="16.50" height="1.45" fill="#ff0055"/>
<rect x="298.05" y="346.40" width="16.50" height="1.35" fill="#ff0059"/>
<rect x="298.05" y="347.60" width="16.50" height="1.45" fill="#ff005e"/>
<rect x="298.05" y="348.90" width="16.50" height="1.35" fill="#ff0062"/>
<rect x="298.05" y="350.10" width="16.50" height="1.45" fill="#ff0066"/>
<rect x="298.05" y="351.40" width="16.50" height="1.25" fill="#ff006a"/>
<rect x="298.05" y="352.50" width="16.50" height="1.15" fill="#ff006f"/>
<rect x="298.05" y="353.50" width="16.50" height="1.15" fill="#ff0073"/>
<rect x="298.05" y="354.50" width="16.50" height="1.15" fill="#ff0077"/>
<rect x="298.05" y="355.50" width="16.50" height="1.15" fill="#ff007b"/>
<rect x="298.05" y="356.50" width="16.50" height="1.15" fill="#ff0080"/>
<rect x="298.05" y="357.50" width="16.50" height="1.15" fill="#ff0084"/>
<rect x="298.05" y="358.50" width="16.50" height="1.15" fill="#ff0088"/>
<rect x="298.05" y="359.50" width="16.50" height="0.95" fill="#ff008c"/>
<rect x="298.05" y="360.30" width="16.50" height="0.65" fill="#ff0090"/>
<rect x="298.05" y="360.80" width="16.50" height="0.65" fill="#ff0095"/>
<rect x="298.05" y="361.30" width="16.50" height="0.65" fill="#ff0099"/>
<rect x="298.05" y="361.80" width="16.50" height="0.65" fill="#ff009d"/>
<rect x="298.05" y="362.30" width="16.50" height="0.75" fill="#ff00a1"/>
<rect x="298.05" y="362.90" width="16.50" height="0.65" fill="#ff00a6"/>
<rect x="298.05" y="363.40" width="16.50" height="0.65" fill="#ff00aa"/>
<rect x="298.05" y="363.90" width="16.50" height="0.65" fill="#ff00ae"/>
<rect x="298.05" y="364.40" width="16.50" height="0.75" fill="#ff00b3"/>
<rect x="298.05" y="365.00" width="16.50" height="0.65" fill="#ff00b7"/>
<rect x="298.05" y="365.50" width="16.50" height="0.65" fill="#ff00bb"/>
<rect x="298.05" y="366.00" width="16.50" height="0.65" fill="#ff00bf"/>
<rect x="298.05" y="366.50" width="16.50" height="0.65" fill="#ff00c3"/>
<rect x="298.05" y="367.00" width="16.50" height="0.75" fill="#ff00c8"/>
<rect x="298.05" y="367.60" width="16.50" height="0.65" fill="#ff00cc"/>
<rect x="298.05" y="368.10" width="16.50" height="0.65" fill="#ff00d0"/>
<rect x="298.05" y="368.60" width="16.50" height="0.65" fill="#ff00d4"/>
<rect x="298.05" y="369.10" width="16.50" height="0.75" fill="#ff00d9"/>
<rect x="298.05" y="369.70" width="16.50" height="0.65" fill="#ff00dd"/>
<rect x="298.05" y="370.20" width="16.50" height="0.65" fill="#ff00e1"/>
<rect x="298.05" y="370.70" width="16.50" height="0.65" fill="#ff00e6"/>
<rect x="298.05" y="371.20" width="16.50" height="0.65" fill="#ff00ea"/>
<rect x="298.05" y="371.70" width="16.50" height="1.65" fill="#ff00ee"/>
<rect x="298.05" y="373.20" width="16.50" height="2.55" fill="#ff00f2"/>
<rect x="298.05" y="375.60" width="16.50" height="2.65" fill="#ff00f7"/>
<rect x="298.05" y="378.10" width="16.50" height="2.55" fill="#ff00fb"/>
<rect x="298.05" y="380.50" width="16.50" height="2.55" fill="#ff00ff"/>
<rect x="298.05" y="382.90" width="16.50" height="2.65" fill="#fb00ff"/>
<rect x="298.05" y="385.40" width="16.50" height="2.55" fill="#f700ff"/>
<rect x="298.05" y="387.80" width="16.50" height="2.25" fill="#f200ff"/>
<rect x="314.25" y="140.90" width="3.10" height="23.25" fill="#4c00ff"/>
<rect x="314.25" y="164.00" width="3.10" height="23.55" fill="#5100ff"/>
<rect x="314.25" y="187.40" width="3.10" height="0.95" fill="#5500ff"/>
<rect x="314.25" y="188.20" width="3.10" height="0.95" fill="#5900ff"/>
<rect x="314.25" y="189.00" width="3.10" height="1.05" fill="#5d00ff"/>
<rect x="314.25" y="189.90" width="3.10" height="0.95" fill="#6200ff"/>
<rect x="314.25" y="190.70" width="3.10" height="0.95" fill="#6600ff"/>
<rect x="314.25" y="191.50" width="3.10" height="0.95" fill="#6a00ff"/>
<rect x="314.25" y="192.30" width="3.10" height="0.95" fill="#6f00ff"/>
<rect x="314.25" y="193.10" width="3.10" height="1.05" fill="#7300ff"/>
<rect x="314.25" y="194.00" width="3.10" height="0.95" fill="#7700ff"/>
<rect x="314.25" y="194.80" width="3.10" height="0.95" fill="#7b00ff"/>
<rect x="314.25" y="195.60" width="3.10" height="0.65" fill="#8000ff"/>
<rect x="314.25" y="196.10" width="3.10" height="0.25" fill="#8400ff"/>
<rect x="314.25" y="196.20" width="3.10" height="0.35" fill="#8800ff"/>
<rect x="314.25" y="196.40" width="3.10" height="0.35" fill="#8c00ff"/>
<rect x="314.25" y="196.60" width="3.10" height="0.25" fill="#9000ff"/>
<rect x="314.25" y="196.70" width="3.10" height="0.35" fill="#9500ff"/>
<rect x="314.25" y="196.90" width="3.10" height="0.25" fill="#9900ff"/>
<rect x="314.25" y="197.00" width="3.10" height="0.35" fill="#9d00ff"/>
<rect x="314.25" y="197.20" width="3.10" height="0.35" fill="#a200ff"/>
<rect x="314.25" y="197.40" width="3.10" height="0.25" fill="#a600ff"/>
<rect x="314.25" y="197.50" width="3.10" height="0.35" fill="#aa00ff"/>
<rect x="314.25" y="197.70" width="3.10" height="0.25" fill="#ae00ff"/>
<rect x="314.25" y="197.80" width="3.10" height="0.35" fill="#b300ff"/>
<rect x="314.25" y="198.00" width="3.10" height="0.35" fill="#b700ff"/>
<rect x="314.25" y="198.20" width="3.10" height="0.25" fill="#bb00ff"/>
<rect x="314.25" y="198.30" width="3.10" height="0.35" fill="#bf00ff"/>
<rect x="314.25" y="198.50" width="3.10" height="0.25" fill="#c300ff"/>
<rect x="314.25" y="198.60" width="3.10" height="0.35" fill="#c800ff"/>
<rect x="314.25" y="198.80" width="3.10" height="0.35" fill="#cc00ff"/>
<rect x="314.25" y="199.00" width="3.10" height="0.25" fill="#d000ff"/>
<rect x="314.25" y="199.10" width="3.10" height="0.35" fill="#d500ff"/>
<rect x="314.25" y="199.30" width="3.10" height="0.25" fill="#d900ff"/>
<rect x="314.25" y="199.40" width="3.10" height="0.35" fill="#dd00ff"/>
<rect x="314.25" y="199.60" width="3.10" height="0.35" fill="#e100ff"/>
<rect x="314.25" y="199.80" width="3.10" height="0.25" fill="#e600ff"/>
<rect x="314.25" y="199.90" width="3.10" height="0.45" fill="#ea00ff"/>
<rect x="314.25" y="200.20" width="3.10" height="0.55" fill="#ee00ff"/>
<rect x="314.25" y="200.60" width="3.10" height="0.55" fill="#f200ff"/>
<rect x="314.25" y="201.00" width="3.10" height="0.55" fill="#f700ff"/>
<rect x="314.25" y="201.40" width="3.10" height="0.55" fill="#fb00ff"/>
<rect x="314.25" y="201.80" width="3.10" height="0.55" fill="#ff00ff"/>
<rect x="314.25" y="202.20" width="3.10" height="0.55" fill="#ff00fb"/>
<rect x="314.25" y="202.60" width="3.10" height="0.55" fill="#ff00f7"/>
<rect x="314.25" y="203.00" width="3.10" height="0.55" fill="#ff00f2"/>
<rect x="314.25" y="203.40" width="3.10" height="0.55" fill="#ff00ee"/>
<rect x="314.25" y="203.80" width="3.10" height="0.55" fill="#ff00ea"/>
<rect x="314.25" y="204.20" width="3.10" height="0.55" fill="#ff00e6"/>
<rect x="314.25" y="204.60" width="3.10" height="0.55" fill="#ff00e1"/>
<rect x="314.25" y="205.00" width="3.10" height="0.55" fill="#ff00dd"/>
<rect x="314.25" y="205.40" width="3.10" height="0.55" fill="#ff00d9"/>
<rect x="314.25" y="205.80" width="3.10" height="0.55" fill="#ff00d4"/>
<rect x="314.25" y="206.20" width="3.10" height="0.55" fill="#ff00d0"/>
<rect x="314.25" y="206.60" width="3.10" height="0.55" fill="#ff00cc"/>
<rect x="314.25" y="207.00" width="3.10" height="0.55" fill="#ff00c8"/>
<rect x="314.25" y="207.40" width="3.10" height="0.55" fill="#ff00c3"/>
<rect x="314.25" y="207.80" width="3.10" height="0.55" fill="#ff00bf"/>
<rect x="314.25" y="208.20" width="3.10" height="0.55" fill="#ff00bb"/>
<rect x="314.25" y="208.60" width="3.10" height="0.55" fill="#ff00b7"/>
<rect x="314.25" y="209.00" width="3.10" height="0.55" fill="#ff00b3"/>
<rect x="314.25" y="209.40" width="3.10" height="0.55" fill="#ff00ae"/>
<rect x="314.25" y="209.80" width="3.10" height="0.65" fill="#ff00aa"/>
<rect x="314.25" y="210.30" width="3.10" height="0.65" fill="#ff00a6"/>
<rect x="314.25" y="210.80" width="3.10" height="0.65" fill="#ff00a1"/>
<rect x="314.25" y="211.30" width="3.10" height="0.65" fill="#ff009d"/>
<rect x="314.25" y="211.80" width="3.10" height="0.65" fill="#ff0099"/>
<rect x="314.25" y="212.30" width="3.10" height="0.65" fill="#ff0095"/>
<rect x="314.25" y="212.80" width="3.10" height="0.65" fill="#ff0090"/>
<rect x="314.25" y="213.30" width="3.10" height="0.65" fill="#ff008c"/>
<rect x="314.25" y="213.80" width="3.10" height="0.65" fill="#ff0088"/>
<rect x="314.25" y="214.30" width="3.10" height="0.65" fill="#ff0084"/>
<rect x="314.25" y="214.80" width="3.10" height="0.65" fill="#ff0080"/>
<rect x="314.25" y="215.30" width="3.10" height="0.65" fill="#ff007b"/>
<rect x="314.25" y="215.80" width="3.10" height="0.65" fill="#ff0077"/>
<rect x="314.25" y="216.30" width="3.10" height="0.65" fill="#ff0073"/>
<rect x="314.25" y="216.80" width="3.10" height="0.65" fill="#ff006f"/>
<rect x="314.25" y="217.30" width="3.10" height="0.65" fill="#ff006a"/>
<rect x="314.25" y="217.80" width="3.10" height="0.65" fill="#ff0066"/>
<rect x="314.25" y="218.30" width="3.10" height="0.65" fill="#ff0062"/>
<rect x="314.25" y="218.80" width="3.10" height="0.65" fill="#ff005e"/>
<rect x="314.25" y="219.30" width="3.10" height="0.65" fill="#ff0059"/>
<rect x="314.25" y="219.80" width="3.10" height="0.95" fill="#ff0055"/>
<rect x="314.25" y="220.60" width="3.10" height="1.35" fill="#ff0051"/>
<rect x="314.25" y="221.80" width="3.10" height="1.35" fill="#ff004d"/>
<rect x="314.25" y="223.00" width="3.10" height="1.35" fill="#ff0048"/>
<rect x="314.25" y="224.20" width="3.10" height="1.35" fill="#ff0044"/>
<rect x="314.25" y="225.40" width="3.10" height="1.35" fill="#ff0040"/>
<rect x="314.25" y="226.60" width="3.10" height="1.35" fill="#ff003c"/>
<rect x="314.25" y="227.80" width="3.10" height="1.35" fill="#ff0037"/>
<rect x="314.25" y="229.00" width="3.10" height="1.35" fill="#ff0033"/>
<rect x="314.25" y="230.20" width="3.10" height="1.35" fill="#ff002f"/>
<rect x="314.25" y="231.40" width="3.10" height="36.25" fill="#ff002b"/>
<rect x="314.25" y="267.50" width="3.10" height="5.15" fill="#ff002f"/>
<rect x="314.25" y="272.50" width="3.10" height="5.15" fill="#ff0033"/>
<rect x="314.25" y="277.50" width="3.10" height="5.15" fill="#ff0037"/>
<rect x="314.25" y="282.50" width="3.10" height="5.15" fill="#ff003c"/>
<rect x="314.25" y="287.50" width="3.10" height="4.35" fill="#ff0040"/>
<rect x="314.25" y="291.70" width="3.10" height="3.45" fill="#ff0044"/>
<rect x="314.25" y="295.00" width="3.10" height="3.45" fill="#ff0048"/>
<rect x="314.25" y="298.30" width="3.10" height="3.55" fill="#ff004d"/>
<rect x="314.25" y="301.70" width="3.10" height="3.45" fill="#ff0051"/>
<rect x="314.25" y="305.00" width="3.10" height="3.45" fill="#ff0055"/>
<rect x="314.25" y="308.30" width="3.10" height="3.55" fill="#ff0059"/>
<rect x="314.25" y="311.70" width="3.10" height="3.45" fill="#ff005e"/>
<rect x="314.25" y="315.00" width="3.10" height="3.45" fill="#ff0062"/>
<rect x="314.25" y="318.30" width="3.10" height="3.95" fill="#ff0066"/>
<rect x="314.25" y="322.10" width="3.10" height="4.45" fill="#ff006a"/>
<rect x="314.25" y="326.40" width="3.10" height="4.35" fill="#ff006f"/>
<rect x="314.25" y="330.60" width="3.10" height="4.45" fill="#ff0073"/>
<rect x="314.25" y="334.90" width="3.10" height="4.15" fill="#ff0077"/>
<rect x="314.25" y="338.90" width="3.10" height="3.85" fill="#ff007b"/>
<rect x="314.25" y="342.60" width="3.10" height="3.95" fill="#ff0080"/>
<rect x="314.25" y="346.40" width="3.10" height="3.85" fill="#ff0084"/>
<rect x="314.25" y="350.10" width="3.10" height="2.35" fill="#ff0088"/>
<rect x="314.25" y="352.30" width="3.10" height="0.85" fill="#ff0084"/>
<rect x="314.25" y="353.00" width="3.10" height="0.85" fill="#ff0080"/>
<rect x="314.25" y="353.70" width="3.10" height="0.75" fill="#ff007b"/>
<rect x="314.25" y="354.30" width="3.10" height="0.85" fill="#ff0077"/>
<rect x="314.25" y="355.00" width="3.10" height="0.85" fill="#ff0073"/>
<rect x="314.25" y="355.70" width="3.10" height="0.75" fill="#ff006f"/>
<rect x="314.25" y="356.30" width="3.10" height="0.85" fill="#ff006a"/>
<rect x="314.25" y="357.00" width="3.10" height="0.85" fill="#ff0066"/>
<rect x="314.25" y="357.70" width="3.10" height="0.75" fill="#ff0062"/>
<rect x="314.25" y="358.30" width="3.10" height="0.85" fill="#ff005e"/>
<rect x="314.25" y="359.00" width="3.10" height="0.85" fill="#ff0059"/>
<rect x="314.25" y="359.70" width="3.10" height="1.95" fill="#ff0055"/>
<rect x="314.25" y="361.50" width="3.10" height="3.15" fill="#ff0059"/>
<rect x="314.25" y="364.50" width="3.10" height="3.15" fill="#ff005e"/>
<rect x="314.25" y="367.50" width="3.10" height="3.15" fill="#ff0062"/>
<rect x="314.25" y="370.50" width="3.10" height="3.05" fill="#ff0066"/>
<rect x="314.25" y="373.40" width="3.10" height="2.95" fill="#ff006a"/>
<rect x="314.25" y="376.20" width="3.10" height="3.05" fill="#ff006f"/>
<rect x="314.25" y="379.10" width="3.10" height="2.95" fill="#ff0073"/>
<rect x="314.25" y="381.90" width="3.10" height="2.95" fill="#ff0077"/>
<rect x="314.25" y="384.70" width="3.10" height="3.05" fill="#ff007b"/>
<rect x="314.25" y="387.60" width="3.10" height="2.45" fill="#ff0080"/>
<rect x="317.05" y="140.90" width="4.20" height="23.25" fill="#4c00ff"/>
<rect x="317.05" y="164.00" width="4.20" height="24.25" fill="#5100ff"/>
<rect x="317.05" y="188.10" width="4.20" height="2.45" fill="#5500ff"/>
<rect x="317.05" y="190.40" width="4.20" height="2.35" fill="#5900ff"/>
<rect x="317.05" y="192.60" width="4.20" height="2.45" fill="#5d00ff"/>
<rect x="317.05" y="194.90" width="4.20" height="2.45" fill="#6200ff"/>
<rect x="317.05" y="197.20" width="4.20" height="2.45" fill="#6600ff"/>
<rect x="317.05" y="199.50" width="4.20" height="2.45" fill="#6a00ff"/>
<rect x="317.05" y="201.80" width="4.20" height="1.75" fill="#6f00ff"/>
<rect x="317.05" y="203.40" width="4.20" height="0.95" fill="#7300ff"/>
<rect x="317.05" y="204.20" width="4.20" height="0.85" fill="#7700ff"/>
<rect x="317.05" y="204.90" width="4.20" height="0.95" fill="#7b00ff"/>
<rect x="317.05" y="205.70" width="4.20" height="0.95" fill="#8000ff"/>
<rect x="317.05" y="206.50" width="4.20" height="0.95" fill="#8400ff"/>
<rect x="317.05" y="207.30" width="4.20" height="0.95" fill="#8800ff"/>
<rect x="317.05" y="208.10" width="4.20" height="0.85" fill="#8c00ff"/>
<rect x="317.05" y="208.80" width="4.20" height="0.95" fill="#9000ff"/>
<rect x="317.05" y="209.60" width="4.20" height="0.75" fill="#9500ff"/>
<rect x="317.05" y="210.20" width="4.20" height="0.55" fill="#9900ff"/>
<rect x="317.05" y="210.60" width="4.20" height="0.55" fill="#9d00ff"/>
<rect x="317.05" y="211.00" width="4.20" height="0.55" fill="#a200ff"/>
<rect x="317.05" y="211.40" width="4.20" height="0.55" fill="#a600ff"/>
<rect x="317.05" y="211.80" width="4.20" height="0.55" fill="#aa00ff"/>
<rect x="317.05" y="212.20" width="4.20" height="0.55" fill="#ae00ff"/>
<rect x="317.05" y="212.60" width="4.20" height="0.55" fill="#b300ff"/>
<rect x="317.05" y="213.00" width="4.20" height="0.55" fill="#b700ff"/>
<rect x="317.05" y="213.40" width="4.20" height="0.55" fill="#bb00ff"/>
<rect x="317.05" y="213.80" width="4.20" height="0.55" fill="#bf00ff"/>
<rect x="317.05" y="214.20" width="4.20" height="0.55" fill="#c300ff"/>
<rect x="317.05" y="214.60" width="4.20" height="0.55" fill="#c800ff"/>
<rect x="317.05" y="215.00" width="4.20" height="0.55" fill="#cc00ff"/>
<rect x="317.05" y="215.40" width="4.20" height="0.55" fill="#d000ff"/>
<rect x="317.05" y="215.80" width="4.20" height="0.55" fill="#d500ff"/>
<rect x="317.05" y="216.20" width="4.20" height="0.55" fill="#d900ff"/>
<rect x="317.05" y="216.60" width="4.20" height="0.55" fill="#dd00ff"/>
<rect x="317.05" y="217.00" width="4.20" height="0.55" fill="#e100ff"/>
<rect x="317.05" y="217.40" width="4.20" height="0.55" fill="#e600ff"/>
<rect x="317.05" y="217.80" width="4.20" height="0.55" fill="#ea00ff"/>
<rect x="317.05" y="218.20" width="4.20" height="0.55" fill="#ee00ff"/>
<rect x="317.05" y="218.60" width="4.20" height="0.55" fill="#f200ff"/>
<rect x="317.05" y="219.00" width="4.20" height="0.55" fill="#f700ff"/>
<rect x="317.05" y="219.40" width="4.20" height="0.55" fill="#fb00ff"/>
<rect x="317.05" y="219.80" width="4.20" height="0.65" fill="#ff00ff"/>
<rect x="317.05" y="220.30" width="4.20" height="0.65" fill="#ff00fb"/>
<rect x="317.05" y="220.80" width="4.20" height="0.75" fill="#ff00f7"/>
<rect x="317.05" y="221.40" width="4.20" height="0.65" fill="#ff00f2"/>
<rect x="317.05" y="221.90" width="4.20" height="0.75" fill="#ff00ee"/>
<rect x="317.05" y="222.50" width="4.20" height="0.65" fill="#ff00ea"/>
<rect x="317.05" y="223.00" width="4.20" height="0.65" fill="#ff00e6"/>
<rect x="317.05" y="223.50" width="4.20" height="0.75" fill="#ff00e1"/>
<rect x="317.05" y="224.10" width="4.20" height="0.65" fill="#ff00dd"/>
<rect x="317.05" y="224.60" width="4.20" height="0.75" fill="#ff00d9"/>
<rect x="317.05" y="225.20" width="4.20" height="0.65" fill="#ff00d4"/>
<rect x="317.05" y="225.70" width="4.20" height="0.75" fill="#ff00d0"/>
<rect x="317.05" y="226.30" width="4.20" height="0.65" fill="#ff00cc"/>
<rect x="317.05" y="226.80" width="4.20" height="0.75" fill="#ff00c8"/>
<rect x="317.05" y="227.40" width="4.20" height="0.65" fill="#ff00c3"/>
<rect x="317.05" y="227.90" width="4.20" height="0.75" fill="#ff00bf"/>
<rect x="317.05" y="228.50" width="4.20" height="0.65" fill="#ff00bb"/>
<rect x="317.05" y="229.00" width="4.20" height="0.65" fill="#ff00b7"/>
<rect x="317.05" y="229.50" width="4.20" height="0.75" fill="#ff00b3"/>
<rect x="317.05" y="230.10" width="4.20" height="0.65" fill="#ff00ae"/>
<rect x="317.05" y="230.60" width="4.20" height="0.75" fill="#ff00aa"/>
<rect x="317.05" y="231.20" width="4.20" height="0.65" fill="#ff00a6"/>
<rect x="317.05" y="231.70" width="4.20" height="0.95" fill="#ff00a1"/>
<rect x="317.05" y="232.50" width="4.20" height="1.15" fill="#ff009d"/>
<rect x="317.05" y="233.50" width="4.20" height="1.15" fill="#ff0099"/>
<rect x="317.05" y="234.50" width="4.20" height="1.15" fill="#ff0095"/>
<rect x="317.05" y="235.50" width="4.20" height="1.15" fill="#ff0090"/>
<rect x="317.05" y="236.50" width="4.20" height="1.15" fill="#ff008c"/>
<rect x="317.05" y="237.50" width="4.20" height="1.15" fill="#ff0088"/>
<rect x="317.05" y="238.50" width="4.20" height="1.15" fill="#ff0084"/>
<rect x="317.05" y="239.50" width="4.20" height="1.15" fill="#ff0080"/>
<rect x="317.05" y="240.50" width="4.20" height="1.15" fill="#ff007b"/>
<rect x="317.05" y="241.50" width="4.20" height="1.15" fill="#ff0077"/>
<rect x="317.05" y="242.50" width="4.20" height="1.15" fill="#ff0073"/>
<rect x="317.05" y="243.50" width="4.20" height="1.15" fill="#ff006f"/>
<rect x="317.05" y="244.50" width="4.20" height="1.35" fill="#ff006a"/>
<rect x="317.05" y="245.70" width="4.20" height="1.45" fill="#ff0066"/>
<rect x="317.05" y="247.00" width="4.20" height="1.45" fill="#ff0062"/>
<rect x="317.05" y="248.30" width="4.20" height="1.55" fill="#ff005e"/>
<rect x="317.05" y="249.70" width="4.20" height="1.45" fill="#ff0059"/>
<rect x="317.05" y="251.00" width="4.20" height="1.45" fill="#ff0055"/>
<rect x="317.05" y="252.30" width="4.20" height="1.55" fill="#ff0051"/>
<rect x="317.05" y="253.70" width="4.20" height="1.45" fill="#ff004d"/>
<rect x="317.05" y="255.00" width="4.20" height="1.45" fill="#ff0048"/>
<rect x="317.05" y="256.30" width="4.20" height="1.55" fill="#ff0044"/>
<rect x="317.05" y="257.70" width="4.20" height="1.45" fill="#ff0040"/>
<rect x="317.05" y="259.00" width="4.20" height="1.45" fill="#ff003c"/>
<rect x="317.05" y="260.30" width="4.20" height="1.55" fill="#ff0037"/>
<rect x="317.05" y="261.70" width="4.20" height="1.45" fill="#ff0033"/>
<rect x="317.05" y="263.00" width="4.20" height="1.45" fill="#ff002f"/>
<rect x="317.05" y="264.30" width="4.20" height="26.55" fill="#ff002b"/>
<rect x="317.05" y="290.70" width="4.20" height="1.65" fill="#ff002f"/>
<rect x="317.05" y="292.20" width="4.20" height="1.65" fill="#ff0033"/>
<rect x="317.05" y="293.70" width="4.20" height="1.65" fill="#ff0037"/>
<rect x="317.05" y="295.20" width="4.20" height="1.65" fill="#ff003c"/>
<rect x="317.05" y="296.70" width="4.20" height="1.65" fill="#ff0040"/>
<rect x="317.05" y="298.20" width="4.20" height="1.65" fill="#ff0044"/>
<rect x="317.05" y="299.70" width="4.20" height="1.65" fill="#ff0048"/>
<rect x="317.05" y="301.20" width="4.20" height="1.65" fill="#ff004d"/>
<rect x="317.05" y="302.70" width="4.20" height="1.65" fill="#ff0051"/>
<rect x="317.05" y="304.20" width="4.20" height="1.45" fill="#ff0055"/>
<rect x="317.05" y="305.50" width="4.20" height="1.15" fill="#ff0059"/>
<rect x="317.05" y="306.50" width="4.20" height="1.15" fill="#ff005e"/>
<rect x="317.05" y="307.50" width="4.20" height="1.15" fill="#ff0062"/>
<rect x="317.05" y="308.50" width="4.20" height="1.15" fill="#ff0066"/>
<rect x="317.05" y="309.50" width="4.20" height="1.15" fill="#ff006a"/>
<rect x="317.05" y="310.50" width="4.20" height="1.15" fill="#ff006f"/>
<rect x="317.05" y="311.50" width="4.20" height="1.15" fill="#ff0073"/>
<rect x="317.05" y="312.50" width="4.20" height="1.15" fill="#ff0077"/>
<rect x="317.05" y="313.50" width="4.20" height="1.15" fill="#ff007b"/>
<rect x="317.05" y="314.50" width="4.20" height="1.15" fill="#ff0080"/>
<rect x="317.05" y="315.50" width="4.20" height="1.15" fill="#ff0084"/>
<rect x="317.05" y="316.50" width="4.20" height="1.15" fill="#ff0088"/>
<rect x="317.05" y="317.50" width="4.20" height="1.15" fill="#ff008c"/>
<rect x="317.05" y="318.50" width="4.20" height="1.15" fill="#ff0090"/>
<rect x="317.05" y="319.50" width="4.20" height="1.55" fill="#ff0095"/>
<rect x="317.05" y="320.90" width="4.20" height="2.05" fill="#ff0099"/>
<rect x="317.05" y="322.80" width="4.20" height="2.05" fill="#ff009d"/>
<rect x="317.05" y="324.70" width="4.20" height="2.05" fill="#ff00a1"/>
<rect x="317.05" y="326.60" width="4.20" height="2.05" fill="#ff00a6"/>
<rect x="317.05" y="328.50" width="4.20" height="2.05" fill="#ff00aa"/>
<rect x="317.05" y="330.40" width="4.20" height="2.05" fill="#ff00ae"/>
<rect x="317.05" y="332.30" width="4.20" height="2.05" fill="#ff00b3"/>
<rect x="317.05" y="334.20" width="4.20" height="2.05" fill="#ff00b7"/>
<rect x="317.05" y="336.10" width="4.20" height="1.75" fill="#ff00bb"/>
<rect x="317.05" y="337.70" width="4.20" height="1.65" fill="#ff00bf"/>
<rect x="317.05" y="339.20" width="4.20" height="1.65" fill="#ff00c3"/>
<rect x="317.05" y="340.70" width="4.20" height="1.65" fill="#ff00c8"/>
<rect x="317.05" y="342.20" width="4.20" height="1.65" fill="#ff00cc"/>
<rect x="317.05" y="343.70" width="4.20" height="1.65" fill="#ff00d0"/>
<rect x="317.05" y="345.20" width="4.20" height="1.65" fill="#ff00d4"/>
<rect x="317.05" y="346.70" width="4.20" height="1.65" fill="#ff00d9"/>
<rect x="317.05" y="348.20" width="4.20" height="1.65" fill="#ff00dd"/>
<rect x="317.05" y="349.70" width="4.20" height="1.65" fill="#ff00e1"/>
<rect x="317.05" y="351.20" width="4.20" height="1.35" fill="#ff00e6"/>
<rect x="317.05" y="352.40" width="4.20" height="0.85" fill="#ff00ea"/>
<rect x="317.05" y="353.10" width="4.20" height="0.85" fill="#ff00ee"/>
<rect x="317.05" y="353.80" width="4.20" height="0.85" fill="#ff00f2"/>
<rect x="317.05" y="354.50" width="4.20" height="0.95" fill="#ff00f7"/>
<rect x="317.05" y="355.30" width="4.20" height="0.85" fill="#ff00fb"/>
<rect x="317.05" y="356.00" width="4.20" height="0.85" fill="#ff00ff"/>
<rect x="317.05" y="356.70" width="4.20" height="0.95" fill="#fb00ff"/>
<rect x="317.05" y="357.50" width="4.20" height="0.85" fill="#f700ff"/>
<rect x="317.05" y="358.20" width="4.20" height="0.85" fill="#f200ff"/>
<rect x="317.05" y="358.90" width="4.20" height="0.85" fill="#ee00ff"/>
<rect x="317.05" y="359.60" width="4.20" height="1.05" fill="#ea00ff"/>
<rect x="317.05" y="360.50" width="4.20" height="1.25" fill="#e600ff"/>
<rect x="317.05" y="361.60" width="4.20" height="1.25" fill="#e100ff"/>
<rect x="317.05" y="362.70" width="4.20" height="1.25" fill="#dd00ff"/>
<rect x="317.05" y="363.80" width="4.20" height="1.25" fill="#d900ff"/>
<rect x="317.05" y="364.90" width="4.20" height="1.25" fill="#d500ff"/>
<rect x="317.05" y="366.00" width="4.20" height="1.25" fill="#d000ff"/>
<rect x="317.05" y="367.10" width="4.20" height="1.25" fill="#cc00ff"/>
<rect x="317.05" y="368.20" width="4.20" height="1.25" fill="#c800ff"/>
<rect x="317.05" y="369.30" width="4.20" height="1.25" fill="#c300ff"/>
<rect x="317.05" y="370.40" width="4.20" height="1.25" fill="#bf00ff"/>
<rect x="317.05" y="371.50" width="4.20" height="2.05" fill="#bb00ff"/>
<rect x="317.05" y="373.40" width="4.20" height="2.95" fill="#b700ff"/>
<rect x="317.05" y="376.20" width="4.20" height="3.05" fill="#b300ff"/>
<rect x="317.05" y="379.10" width="4.20" height="2.95" fill="#ae00ff"/>
<rect x="317.05" y="381.90" width="4.20" height="2.95" fill="#aa00ff"/>
<rect x="317.05" y="384.70" width="4.20" height="3.05" fill="#a600ff"/>
<rect x="317.05" y="387.60" width="4.20" height="2.45" fill="#a200ff"/>
<rect x="320.95" y="140.90" width="4.90" height="23.25" fill="#4c00ff"/>
<rect x="320.95" y="164.00" width="4.90" height="24.25" fill="#5100ff"/>
<rect x="320.95" y="188.10" width="4.90" height="2.45" fill="#5500ff"/>
<rect x="320.95" y="190.40" width="4.90" height="2.35" fill="#5900ff"/>
<rect x="320.95" y="192.60" width="4.90" height="2.45" fill="#5d00ff"/>
<rect x="320.95" y="194.90" width="4.90" height="2.45" fill="#6200ff"/>
<rect x="320.95" y="197.20" width="4.90" height="2.45" fill="#6600ff"/>
<rect x="320.95" y="199.50" width="4.90" height="2.45" fill="#6a00ff"/>
<rect x="320.95" y="201.80" width="4.90" height="1.75" fill="#6f00ff"/>
<rect x="320.95" y="203.40" width="4.90" height="0.95" fill="#7300ff"/>
<rect x="320.95" y="204.20" width="4.90" height="0.85" fill="#7700ff"/>
<rect x="320.95" y="204.90" width="4.90" height="0.95" fill="#7b00ff"/>
<rect x="320.95" y="205.70" width="4.90" height="0.95" fill="#8000ff"/>
<rect x="320.95" y="206.50" width="4.90" height="0.95" fill="#8400ff"/>
<rect x="320.95" y="207.30" width="4.90" height="0.95" fill="#8800ff"/>
<rect x="320.95" y="208.10" width="4.90" height="0.85" fill="#8c00ff"/>
<rect x="320.95" y="208.80" width="4.90" height="0.95" fill="#9000ff"/>
<rect x="320.95" y="209.60" width="4.90" height="0.75" fill="#9500ff"/>
<rect x="320.95" y="210.20" width="4.90" height="0.55" fill="#9900ff"/>
<rect x="320.95" y="210.60" width="4.90" height="0.55" fill="#9d00ff"/>
<rect x="320.95" y="211.00" width="4.90" height="0.55" fill="#a200ff"/>
<rect x="320.95" y="211.40" width="4.90" height="0.55" fill="#a600ff"/>
<rect x="320.95" y="211.80" width="4.90" height="0.55" fill="#aa00ff"/>
<rect x="320.95" y="212.20" width="4.90" height="0.55" fill="#ae00ff"/>
<rect x="320.95" y="212.60" width="4.90" height="0.55" fill="#b300ff"/>
<rect x="320.95" y="213.00" width="4.90" height="0.55" fill="#b700ff"/>
<rect x="320.95" y="213.40" width="4.90" height="0.55" fill="#bb00ff"/>
<rect x="320.95" y="213.80" width="4.90" height="0.55" fill="#bf00ff"/>
<rect x="320.95" y="214.20" width="4.90" height="0.55" fill="#c300ff"/>
<rect x="320.95" y="214.60" width="4.90" height="0.55" fill="#c800ff"/>
<rect x="320.95" y="215.00" width="4.90" height="0.55" fill="#cc00ff"/>
<rect x="320.95" y="215.40" width="4.90" height="0.55" fill="#d000ff"/>
<rect x="320.95" y="215.80" width="4.90" height="0.55" fill="#d500ff"/>
<rect x="320.95" y="216.20" width="4.90" height="0.55" fill="#d900ff"/>
<rect x="320.95" y="216.60" width="4.90" height="0.55" fill="#dd00ff"/>
<rect x="320.95" y="217.00" width="4.90" height="0.55" fill="#e100ff"/>
<rect x="320.95" y="217.40" width="4.90" height="0.55" fill="#e600ff"/>
<rect x="320.95" y="217.80" width="4.90" height="0.55" fill="#ea00ff"/>
<rect x="320.95" y="218.20" width="4.90" height="0.55" fill="#ee00ff"/>
<rect x="320.95" y="218.60" width="4.90" height="0.55" fill="#f200ff"/>
<rect x="320.95" y="219.00" width="4.90" height="0.55" fill="#f700ff"/>
<rect x="320.95" y="219.40" width="4.90" height="0.55" fill="#fb00ff"/>
<rect x="320.95" y="219.80" width="4.90" height="0.65" fill="#ff00ff"/>
<rect x="320.95" y="220.30" width="4.90" height="0.65" fill="#ff00fb"/>
<rect x="320.95" y="220.80" width="4.90" height="0.75" fill="#ff00f7"/>
<rect x="320.95" y="221.40" width="4.90" height="0.65" fill="#ff00f2"/>
<rect x="320.95" y="221.90" width="4.90" height="0.75" fill="#ff00ee"/>
<rect x="320.95" y="222.50" width="4.90" height="0.65" fill="#ff00ea"/>
<rect x="320.95" y="223.00" width="4.90" height="0.65" fill="#ff00e6"/>
<rect x="320.95" y="223.50" width="4.90" height="0.75" fill="#ff00e1"/>
<rect x="320.95" y="224.10" width="4.90" height="0.65" fill="#ff00dd"/>
<rect x="320.95" y="224.60" width="4.90" height="0.75" fill="#ff00d9"/>
<rect x="320.95" y="225.20" width="4.90" height="0.65" fill="#ff00d4"/>
<rect x="320.95" y="225.70" width="4.90" height="0.75" fill="#ff00d0"/>
<rect x="320.95" y="226.30" width="4.90" height="0.65" fill="#ff00cc"/>
<rect x="320.95" y="226.80" width="4.90" height="0.75" fill="#ff00c8"/>
<rect x="320.95" y="227.40" width="4.90" height="0.65" fill="#ff00c3"/>
<rect x="320.95" y="227.90" width="4.90" height="0.75" fill="#ff00bf"/>
<rect x="320.95" y="228.50" width="4.90" height="0.65" fill="#ff00bb"/>
<rect x="320.95" y="229.00" width="4.90" height="0.65" fill="#ff00b7"/>
<rect x="320.95" y="229.50" width="4.90" height="0.75" fill="#ff00b3"/>
<rect x="320.95" y="230.10" width="4.90" height="0.65" fill="#ff00ae"/>
<rect x="320.95" y="230.60" width="4.90" height="0.75" fill="#ff00aa"/>
<rect x="320.95" y="231.20" width="4.90" height="0.65" fill="#ff00a6"/>
<rect x="320.95" y="231.70" width="4.90" height="0.95" fill="#ff00a1"/>
<rect x="320.95" y="232.50" width="4.90" height="1.15" fill="#ff009d"/>
<rect x="320.95" y="233.50" width="4.90" height="1.15" fill="#ff0099"/>
<rect x="320.95" y="234.50" width="4.90" height="1.15" fill="#ff0095"/>
<rect x="320.95" y="235.50" width="4.90" height="1.15" fill="#ff0090"/>
<rect x="320.95" y="236.50" width="4.90" height="1.15" fill="#ff008c"/>
<rect x="320.95" y="237.50" width="4.90" height="1.15" fill="#ff0088"/>
<rect x="320.95" y="238.50" width="4.90" height="1.15" fill="#ff0084"/>
<rect x="320.95" y="239.50" width="4.90" height="1.15" fill="#ff0080"/>
<rect x="320.95" y="240.50" width="4.90" height="1.15" fill="#ff007b"/>
<rect x="320.95" y="241.50" width="4.90" height="1.15" fill="#ff0077"/>
<rect x="320.95" y="242.50" width="4.90" height="1.15" fill="#ff0073"/>
<rect x="320.95" y="243.50" width="4.90" height="1.15" fill="#ff006f"/>
<rect x="320.95" y="244.50" width="4.90" height="1.35" fill="#ff006a"/>
<rect x="320.95" y="245.70" width="4.90" height="1.45" fill="#ff0066"/>
<rect x="320.95" y="247.00" width="4.90" height="1.45" fill="#ff0062"/>
<rect x="320.95" y="248.30" width="4.90" height="1.55" fill="#ff005e"/>
<rect x="320.95" y="249.70" width="4.90" height="1.45" fill="#ff0059"/>
<rect x="320.95" y="251.00" width="4.90" height="1.45" fill="#ff0055"/>
<rect x="320.95" y="252.30" width="4.90" height="1.55" fill="#ff0051"/>
<rect x="320.95" y="253.70" width="4.90" height="1.45" fill="#ff004d"/>
<rect x="320.95" y="255.00" width="4.90" height="1.45" fill="#ff0048"/>
<rect x="320.95" y="256.30" width="4.90" height="1.55" fill="#ff0044"/>
<rect x="320.95" y="257.70" width="4.90" height="1.45" fill="#ff0040"/>
<rect x="320.95" y="259.00" width="4.90" height="1.45" fill="#ff003c"/>
<rect x="320.95" y="260.30" width="4.90" height="1.55" fill="#ff0037"/>
<rect x="320.95" y="261.70" width="4.90" height="1.45" fill="#ff0033"/>
<rect x="320.95" y="263.00" width="4.90" height="1.45" fill="#ff002f"/>
<rect x="320.95" y="264.30" width="4.90" height="26.55" fill="#ff002b"/>
<rect x="320.95" y="290.70" width="4.90" height="1.65" fill="#ff002f"/>
<rect x="320.95" y="292.20" width="4.90" height="1.65" fill="#ff0033"/>
<rect x="320.95" y="293.70" width="4.90" height="1.65" fill="#ff0037"/>
<rect x="320.95" y="295.20" width="4.90" height="1.65" fill="#ff003c"/>
<rect x="320.95" y="296.70" width="4.90" height="1.65" fill="#ff0040"/>
<rect x="320.95" y="298.20" width="4.90" height="1.65" fill="#ff0044"/>
<rect x="320.95" y="299.70" width="4.90" height="1.65" fill="#ff0048"/>
<rect x="320.95" y="301.20" width="4.90" height="1.65" fill="#ff004d"/>
<rect x="320.95" y="302.70" width="4.90" height="1.65" fill="#ff0051"/>
<rect x="320.95" y="304.20" width="4.90" height="1.45" fill="#ff0055"/>
<rect x="320.95" y="305.50" width="4.90" height="1.15" fill="#ff0059"/>
<rect x="320.95" y="306.50" width="4.90" height="1.15" fill="#ff005e"/>
<rect x="320.95" y="307.50" width="4.90" height="1.15" fill="#ff0062"/>
<rect x="320.95" y="308.50" width="4.90" height="1.15" fill="#ff0066"/>
<rect x="320.95" y="309.50" width="4.90" height="1.15" fill="#ff006a"/>
<rect x="320.95" y="310.50" width="4.90" height="1.15" fill="#ff006f"/>
<rect x="320.95" y="311.50" width="4.90" height="1.15" fill="#ff0073"/>
<rect x="320.95" y="312.50" width="4.90" height="1.15" fill="#ff0077"/>
<rect x="320.95" y="313.50" width="4.90" height="1.15" fill="#ff007b"/>
<rect x="320.95" y="314.50" width="4.90" height="1.15" fill="#ff0080"/>
<rect x="320.95" y="315.50" width="4.90" height="1.15" fill="#ff0084"/>
<rect x="320.95" y="316.50" width="4.90" height="1.15" fill="#ff0088"/>
<rect x="320.95" y="317.50" width="4.90" height="1.15" fill="#ff008c"/>
<rect x="320.95" y="318.50" width="4.90" height="1.15" fill="#ff0090"/>
<rect x="320.95" y="319.50" width="4.90" height="1.45" fill="#ff0095"/>
<rect x="320.95" y="320.80" width="4.90" height="1.65" fill="#ff0099"/>
<rect x="320.95" y="322.30" width="4.90" height="1.75" fill="#ff009d"/>
<rect x="320.95" y="323.90" width="4.90" height="1.65" fill="#ff00a1"/>
<rect x="320.95" y="325.40" width="4.90" height="1.75" fill="#ff00a6"/>
<rect x="320.95" y="327.00" width="4.90" height="1.65" fill="#ff00aa"/>
<rect x="320.95" y="328.50" width="4.90" height="1.65" fill="#ff00ae"/>
<rect x="320.95" y="330.00" width="4.90" height="1.75" fill="#ff00b3"/>
<rect x="320.95" y="331.60" width="4.90" height="1.65" fill="#ff00b7"/>
<rect x="320.95" y="333.10" width="4.90" height="1.75" fill="#ff00bb"/>
<rect x="320.95" y="334.70" width="4.90" height="1.65" fill="#ff00bf"/>
<rect x="320.95" y="336.20" width="4.90" height="1.45" fill="#ff00c3"/>
<rect x="320.95" y="337.50" width="4.90" height="1.25" fill="#ff00c8"/>
<rect x="320.95" y="338.60" width="4.90" height="1.25" fill="#ff00cc"/>
<rect x="320.95" y="339.70" width="4.90" height="1.15" fill="#ff00d0"/>
<rect x="320.95" y="340.70" width="4.90" height="1.25" fill="#ff00d4"/>
<rect x="320.95" y="341.80" width="4.90" height="1.25" fill="#ff00d9"/>
<rect x="320.95" y="342.90" width="4.90" height="1.25" fill="#ff00dd"/>
<rect x="320.95" y="344.00" width="4.90" height="1.15" fill="#ff00e1"/>
<rect x="320.95" y="345.00" width="4.90" height="1.25" fill="#ff00e6"/>
<rect x="320.95" y="346.10" width="4.90" height="1.25" fill="#ff00ea"/>
<rect x="320.95" y="347.20" width="4.90" height="1.15" fill="#ff00ee"/>
<rect x="320.95" y="348.20" width="4.90" height="1.25" fill="#ff00f2"/>
<rect x="320.95" y="349.30" width="4.90" height="1.25" fill="#ff00f7"/>
<rect x="320.95" y="350.40" width="4.90" height="1.25" fill="#ff00fb"/>
<rect x="320.95" y="351.50" width="4.90" height="0.85" fill="#ff00ff"/>
<rect x="320.95" y="352.20" width="4.90" height="0.55" fill="#fb00ff"/>
<rect x="320.95" y="352.60" width="4.90" height="0.55" fill="#f700ff"/>
<rect x="320.95" y="353.00" width="4.90" height="0.55" fill="#f200ff"/>
<rect x="320.95" y="353.40" width="4.90" height="0.55" fill="#ee00ff"/>
<rect x="320.95" y="353.80" width="4.90" height="0.55" fill="#ea00ff"/>
<rect x="320.95" y="354.20" width="4.90" height="0.55" fill="#e600ff"/>
<rect x="320.95" y="354.60" width="4.90" height="0.55" fill="#e100ff"/>
<rect x="320.95" y="355.00" width="4.90" height="0.55" fill="#dd00ff"/>
<rect x="320.95" y="355.40" width="4.90" height="0.55" fill="#d900ff"/>
<rect x="320.95" y="355.80" width="4.90" height="0.55" fill="#d500ff"/>
<rect x="320.95" y="356.20" width="4.90" height="0.55" fill="#d000ff"/>
<rect x="320.95" y="356.60" width="4.90" height="0.55" fill="#cc00ff"/>
<rect x="320.95" y="357.00" width="4.90" height="0.55" fill="#c800ff"/>
<rect x="320.95" y="357.40" width="4.90" height="0.55" fill="#c300ff"/>
<rect x="320.95" y="357.80" width="4.90" height="0.55" fill="#bf00ff"/>
<rect x="320.95" y="358.20" width="4.90" height="0.55" fill="#bb00ff"/>
<rect x="320.95" y="358.60" width="4.90" height="0.55" fill="#b700ff"/>
<rect x="320.95" y="359.00" width="4.90" height="0.55" fill="#b300ff"/>
<rect x="320.95" y="359.40" width="4.90" height="0.55" fill="#ae00ff"/>
<rect x="320.95" y="359.80" width="4.90" height="0.75" fill="#aa00ff"/>
<rect x="320.95" y="360.40" width="4.90" height="0.85" fill="#a600ff"/>
<rect x="320.95" y="361.10" width="4.90" height="0.85" fill="#a200ff"/>
<rect x="320.95" y="361.80" width="4.90" height="0.85" fill="#9d00ff"/>
<rect x="320.95" y="362.50" width="4.90" height="0.85" fill="#9900ff"/>
<rect x="320.95" y="363.20" width="4.90" height="0.85" fill="#9500ff"/>
<rect x="320.95" y="363.90" width="4.90" height="0.85" fill="#9000ff"/>
<rect x="320.95" y="364.60" width="4.90" height="0.85" fill="#8c00ff"/>
<rect x="320.95" y="365.30" width="4.90" height="0.85" fill="#8800ff"/>
<rect x="320.95" y="366.00" width="4.90" height="0.85" fill="#8400ff"/>
<rect x="320.95" y="366.70" width="4.90" height="0.85" fill="#8000ff"/>
<rect x="320.95" y="367.40" width="4.90" height="0.85" fill="#7b00ff"/>
<rect x="320.95" y="368.10" width="4.90" height="0.85" fill="#7700ff"/>
<rect x="320.95" y="368.80" width="4.90" height="0.85" fill="#7300ff"/>
<rect x="320.95" y="369.50" width="4.90" height="0.85" fill="#6f00ff"/>
<rect x="320.95" y="370.20" width="4.90" height="0.85" fill="#6a00ff"/>
<rect x="320.95" y="370.90" width="4.90" height="0.85" fill="#6600ff"/>
<rect x="320.95" y="371.60" width="4.90" height="1.75" fill="#6200ff"/>
<rect x="320.95" y="373.20" width="4.90" height="2.55" fill="#5d00ff"/>
<rect x="320.95" y="375.60" width="4.90" height="2.65" fill="#5900ff"/>
<rect x="320.95" y="378.10" width="4.90" height="2.55" fill="#5500ff"/>
<rect x="320.95" y="380.50" width="4.90" height="2.55" fill="#5100ff"/>
<rect x="320.95" y="382.90" width="4.90" height="2.65" fill="#4c00ff"/>
<rect x="320.95" y="385.40" width="4.90" height="2.55" fill="#4800ff"/>
<rect x="320.95" y="387.80" width="4.90" height="2.25" fill="#4400ff"/>
<rect x="325.55" y="140.90" width="1.60" height="4.85" fill="#aa00ff"/>
<rect x="325.55" y="145.60" width="1.60" height="9.35" fill="#ae00ff"/>
<rect x="325.55" y="154.80" width="1.60" height="9.35" fill="#b300ff"/>
<rect x="325.55" y="164.00" width="1.60" height="9.35" fill="#b700ff"/>
<rect x="325.55" y="173.20" width="1.60" height="9.35" fill="#bb00ff"/>
<rect x="325.55" y="182.40" width="1.60" height="5.15" fill="#bf00ff"/>
<rect x="325.55" y="187.40" width="1.60" height="1.05" fill="#c300ff"/>
<rect x="325.55" y="188.30" width="1.60" height="1.05" fill="#c800ff"/>
<rect x="325.55" y="189.20" width="1.60" height="0.95" fill="#cc00ff"/>
<rect x="325.55" y="190.00" width="1.60" height="1.05" fill="#d000ff"/>
<rect x="325.55" y="190.90" width="1.60" height="1.05" fill="#d500ff"/>
<rect x="325.55" y="191.80" width="1.60" height="0.95" fill="#d900ff"/>
<rect x="325.55" y="192.60" width="1.60" height="1.05" fill="#dd00ff"/>
<rect x="325.55" y="193.50" width="1.60" height="1.05" fill="#e100ff"/>
<rect x="325.55" y="194.40" width="1.60" height="0.95" fill="#e600ff"/>
<rect x="325.55" y="195.20" width="1.60" height="1.05" fill="#ea00ff"/>
<rect x="325.55" y="196.10" width="1.60" height="1.05" fill="#ee00ff"/>
<rect x="325.55" y="197.00" width="1.60" height="0.95" fill="#f200ff"/>
<rect x="325.55" y="197.80" width="1.60" height="1.05" fill="#f700ff"/>
<rect x="325.55" y="198.70" width="1.60" height="1.05" fill="#fb00ff"/>
<rect x="325.55" y="199.60" width="1.60" height="2.15" fill="#ff00ff"/>
<rect x="325.55" y="201.60" width="1.60" height="3.35" fill="#ff00fb"/>
<rect x="325.55" y="204.80" width="1.60" height="3.35" fill="#ff00f7"/>
<rect x="325.55" y="208.00" width="1.60" height="3.35" fill="#ff00f2"/>
<rect x="325.55" y="211.20" width="1.60" height="3.35" fill="#ff00ee"/>
<rect x="325.55" y="214.40" width="1.60" height="3.35" fill="#ff00ea"/>
<rect x="325.55" y="217.60" width="1.60" height="3.35" fill="#ff00e6"/>
<rect x="325.55" y="220.80" width="1.60" height="3.35" fill="#ff00e1"/>
<rect x="325.55" y="224.00" width="1.60" height="3.35" fill="#ff00dd"/>
<rect x="325.55" y="227.20" width="1.60" height="3.35" fill="#ff00d9"/>
<rect x="325.55" y="230.40" width="1.60" height="2.55" fill="#ff00d4"/>
<rect x="325.55" y="232.80" width="1.60" height="1.85" fill="#ff00d0"/>
<rect x="325.55" y="234.50" width="1.60" height="1.75" fill="#ff00cc"/>
<rect x="325.55" y="236.10" width="1.60" height="1.85" fill="#ff00c8"/>
<rect x="325.55" y="237.80" width="1.60" height="1.75" fill="#ff00c3"/>
<rect x="325.55" y="239.40" width="1.60" height="1.85" fill="#ff00bf"/>
<rect x="325.55" y="241.10" width="1.60" height="1.75" fill="#ff00bb"/>
<rect x="325.55" y="242.70" width="1.60" height="1.85" fill="#ff00b7"/>
<rect x="325.55" y="244.40" width="1.60" height="1.75" fill="#ff00b3"/>
<rect x="325.55" y="246.00" width="1.60" height="1.85" fill="#ff00ae"/>
<rect x="325.55" y="247.70" width="1.60" height="1.75" fill="#ff00aa"/>
<rect x="325.55" y="249.30" width="1.60" height="1.85" fill="#ff00a6"/>
<rect x="325.55" y="251.00" width="1.60" height="1.75" fill="#ff00a1"/>
<rect x="325.55" y="252.60" width="1.60" height="1.85" fill="#ff009d"/>
<rect x="325.55" y="254.30" width="1.60" height="1.75" fill="#ff0099"/>
<rect x="325.55" y="255.90" width="1.60" height="1.85" fill="#ff0095"/>
<rect x="325.55" y="257.60" width="1.60" height="1.75" fill="#ff0090"/>
<rect x="325.55" y="259.20" width="1.60" height="1.85" fill="#ff008c"/>
<rect x="325.55" y="260.90" width="1.60" height="1.75" fill="#ff0088"/>
<rect x="325.55" y="262.50" width="1.60" height="1.85" fill="#ff0084"/>
<rect x="325.55" y="264.20" width="1.60" height="2.25" fill="#ff0080"/>
<rect x="325.55" y="266.30" width="1.60" height="2.65" fill="#ff0084"/>
<rect x="325.55" y="268.80" width="1.60" height="2.65" fill="#ff0088"/>
<rect x="325.55" y="271.30" width="1.60" height="2.65" fill="#ff008c"/>
<rect x="325.55" y="273.80" width="1.60" height="2.65" fill="#ff0090"/>
<rect x="325.55" y="276.30" width="1.60" height="2.65" fill="#ff0095"/>
<rect x="325.55" y="278.80" width="1.60" height="2.65" fill="#ff0099"/>
<rect x="325.55" y="281.30" width="1.60" height="2.65" fill="#ff009d"/>
<rect x="325.55" y="283.80" width="1.60" height="2.55" fill="#ff00a1"/>
<rect x="325.55" y="286.20" width="1.60" height="2.65" fill="#ff00a6"/>
<rect x="325.55" y="288.70" width="1.60" height="2.15" fill="#ff00aa"/>
<rect x="325.55" y="290.70" width="1.60" height="1.65" fill="#ff00ae"/>
<rect x="325.55" y="292.20" width="1.60" height="1.65" fill="#ff00b3"/>
<rect x="325.55" y="293.70" width="1.60" height="1.65" fill="#ff00b7"/>
<rect x="325.55" y="295.20" width="1.60" height="1.65" fill="#ff00bb"/>
<rect x="325.55" y="296.70" width="1.60" height="1.65" fill="#ff00bf"/>
<rect x="325.55" y="298.20" width="1.60" height="1.65" fill="#ff00c3"/>
<rect x="325.55" y="299.70" width="1.60" height="1.65" fill="#ff00c8"/>
<rect x="325.55" y="301.20" width="1.60" height="1.65" fill="#ff00cc"/>
<rect x="325.55" y="302.70" width="1.60" height="1.65" fill="#ff00d0"/>
<rect x="325.55" y="304.20" width="1.60" height="1.65" fill="#ff00d4"/>
<rect x="325.55" y="305.70" width="1.60" height="1.65" fill="#ff00d9"/>
<rect x="325.55" y="307.20" width="1.60" height="1.65" fill="#ff00dd"/>
<rect x="325.55" y="308.70" width="1.60" height="1.65" fill="#ff00e1"/>
<rect x="325.55" y="310.20" width="1.60" height="1.65" fill="#ff00e6"/>
<rect x="325.55" y="311.70" width="1.60" height="1.65" fill="#ff00ea"/>
<rect x="325.55" y="313.20" width="1.60" height="1.65" fill="#ff00ee"/>
<rect x="325.55" y="314.70" width="1.60" height="1.65" fill="#ff00f2"/>
<rect x="325.55" y="316.20" width="1.60" height="1.65" fill="#ff00f7"/>
<rect x="325.55" y="317.70" width="1.60" height="1.65" fill="#ff00fb"/>
<rect x="325.55" y="319.20" width="1.60" height="2.65" fill="#ff00ff"/>
<rect x="325.55" y="321.70" width="1.60" height="3.55" fill="#fb00ff"/>
<rect x="325.55" y="325.10" width="1.60" height="3.55" fill="#f700ff"/>
<rect x="325.55" y="328.50" width="1.60" height="3.55" fill="#f200ff"/>
<rect x="325.55" y="331.90" width="1.60" height="3.55" fill="#ee00ff"/>
<rect x="325.55" y="335.30" width="1.60" height="2.25" fill="#ea00ff"/>
<rect x="325.55" y="337.40" width="1.60" height="0.85" fill="#e600ff"/>
<rect x="325.55" y="338.10" width="1.60" height="0.95" fill="#e100ff"/>
<rect x="325.55" y="338.90" width="1.60" height="0.85" fill="#dd00ff"/>
<rect x="325.55" y="339.60" width="1.60" height="0.95" fill="#d900ff"/>
<rect x="325.55" y="340.40" width="1.60" height="0.85" fill="#d500ff"/>
<rect x="325.55" y="341.10" width="1.60" height="0.95" fill="#d000ff"/>
<rect x="325.55" y="341.90" width="1.60" height="0.85" fill="#cc00ff"/>
<rect x="325.55" y="342.60" width="1.60" height="0.95" fill="#c800ff"/>
<rect x="325.55" y="343.40" width="1.60" height="0.85" fill="#c300ff"/>
<rect x="325.55" y="344.10" width="1.60" height="0.95" fill="#bf00ff"/>
<rect x="325.55" y="344.90" width="1.60" height="0.85" fill="#bb00ff"/>
<rect x="325.55" y="345.60" width="1.60" height="0.95" fill="#b700ff"/>
<rect x="325.55" y="346.40" width="1.60" height="0.85" fill="#b300ff"/>
<rect x="325.55" y="347.10" width="1.60" height="0.95" fill="#ae00ff"/>
<rect x="325.55" y="347.90" width="1.60" height="0.85" fill="#aa00ff"/>
<rect x="325.55" y="348.60" width="1.60" height="0.95" fill="#a600ff"/>
<rect x="325.55" y="349.40" width="1.60" height="0.85" fill="#a200ff"/>
<rect x="325.55" y="350.10" width="1.60" height="0.95" fill="#9d00ff"/>
<rect x="325.55" y="350.90" width="1.60" height="0.85" fill="#9900ff"/>
<rect x="325.55" y="351.60" width="1.60" height="0.95" fill="#9500ff"/>
<rect x="325.55" y="352.40" width="1.60" height="0.95" fill="#9000ff"/>
<rect x="325.55" y="353.20" width="1.60" height="0.95" fill="#8c00ff"/>
<rect x="325.55" y="354.00" width="1.60" height="0.95" fill="#8800ff"/>
<rect x="325.55" y="354.80" width="1.60" height="0.95" fill="#8400ff"/>
<rect x="325.55" y="355.60" width="1.60" height="0.95" fill="#8000ff"/>
<rect x="325.55" y="356.40" width="1.60" height="0.95" fill="#7b00ff"/>
<rect x="325.55" y="357.20" width="1.60" height="0.95" fill="#7700ff"/>
<rect x="325.55" y="358.00" width="1.60" height="0.95" fill="#7300ff"/>
<rect x="325.55" y="358.80" width="1.60" height="0.95" fill="#6f00ff"/>
<rect x="325.55" y="359.60" width="1.60" height="0.95" fill="#6a00ff"/>
<rect x="325.55" y="360.40" width="1.60" height="0.95" fill="#6600ff"/>
<rect x="325.55" y="361.20" width="1.60" height="0.95" fill="#6200ff"/>
<rect x="325.55" y="362.00" width="1.60" height="0.95" fill="#5d00ff"/>
<rect x="325.55" y="362.80" width="1.60" height="0.95" fill="#5900ff"/>
<rect x="325.55" y="363.60" width="1.60" height="0.95" fill="#5500ff"/>
<rect x="325.55" y="364.40" width="1.60" height="0.95" fill="#5100ff"/>
<rect x="325.55" y="365.20" width="1.60" height="0.95" fill="#4c00ff"/>
<rect x="325.55" y="366.00" width="1.60" height="0.95" fill="#4800ff"/>
<rect x="325.55" y="366.80" width="1.60" height="0.95" fill="#4400ff"/>
<rect x="325.55" y="367.60" width="1.60" height="0.95" fill="#4000ff"/>
<rect x="325.55" y="368.40" width="1.60" height="0.95" fill="#3c00ff"/>
<rect x="325.55" y="369.20" width="1.60" height="0.95" fill="#3700ff"/>
<rect x="325.55" y="370.00" width="1.60" height="0.95" fill="#3300ff"/>
<rect x="325.55" y="370.80" width="1.60" height="0.95" fill="#2f00ff"/>
<rect x="325.55" y="371.60" width="1.60" height="18.45" fill="#2a00ff"/>
</g>
<g stroke="#b0b0b0" stroke-width="1.3" stroke-dasharray="1.3 3.63" fill="none">
<path d="M39.15 215.31H210.35"/>
<path d="M210.05 265.60H380.40"/>
</g>
<text x="44.6" y="210.8" font-size="12.4" fill="#adadad" class="g">650</text>
<text x="214.7" y="262.4" font-size="12.4" fill="#adadad" class="g">650</text>
<defs><clipPath id="cl"><rect x="40.20" y="0.50" width="170.15" height="139.90"/></clipPath>
<clipPath id="cr"><rect x="210.35" y="0.50" width="170.05" height="139.90"/></clipPath></defs>
<g clip-path="url(#cl)" stroke="#ababab" stroke-width="0.9" fill="none">
<path d="M46.4 74.8V93.2M43.1 74.8H49.7M43.1 93.2H49.7M55.1 43.3V64.3M51.8 43.3H58.4M51.8 64.3H58.4M76.3 19.9V41.4M73.0 19.9H79.6M73.0 41.4H79.6M90.6 85.5V108.2M87.3 85.5H93.9M87.3 108.2H93.9M90.8 122.7V147.0M87.5 122.7H94.1M87.5 147.0H94.1M111.0 43.6V75.7M107.7 43.6H114.3M107.7 75.7H114.3M108.9 67.2V89.4M105.6 67.2H112.2M105.6 89.4H112.2M111.3 81.4V106.6M108.0 81.4H114.6M108.0 106.6H114.6M127.4 46.5V66.7M124.1 46.5H130.7M124.1 66.7H130.7M126.7 52.4V77.0M123.4 52.4H130.0M123.4 77.0H130.0M143.6 41.5V64.3M140.3 41.5H146.9M140.3 64.3H146.9M143.1 50.9V72.1M139.8 50.9H146.4M139.8 72.1H146.4M146.4 55.7V79.2M143.1 55.7H149.7M143.1 79.2H149.7M149.3 -5.3V16.5M146.0 -5.3H152.6M146.0 16.5H152.6M146.4 90.2V114.1M143.1 90.2H149.7M143.1 114.1H149.7M161.1 9.5V31.5M157.8 9.5H164.4M157.8 31.5H164.4M164.3 36.2V59.7M161.0 36.2H167.6M161.0 59.7H167.6M159.5 56.5V79.3M156.2 56.5H162.8M156.2 79.3H162.8M164.0 57.6V77.9M160.7 57.6H167.3M160.7 77.9H167.3M196.3 45.0V64.6M193.0 45.0H199.6M193.0 64.6H199.6M197.6 60.5V78.2M194.3 60.5H200.9M194.3 78.2H200.9M198.8 64.4V84.0M195.5 64.4H202.1M195.5 84.0H202.1M203.8 61.5V82.5M200.5 61.5H207.1M200.5 82.5H207.1M196.3 80.6V101.0M193.0 80.6H199.6M193.0 101.0H199.6M203.8 75.3V96.7M200.5 75.3H207.1M200.5 96.7H207.1"/>
<circle cx="46.4" cy="84.0" r="3.05"/>
<circle cx="55.1" cy="53.9" r="3.05"/>
<circle cx="76.3" cy="30.6" r="3.05"/>
<circle cx="90.6" cy="96.7" r="3.05"/>
<circle cx="90.8" cy="135.0" r="3.05"/>
<circle cx="111.0" cy="59.7" r="3.05"/>
<circle cx="108.9" cy="78.4" r="3.05"/>
<circle cx="111.3" cy="94.0" r="3.05"/>
<circle cx="127.4" cy="56.6" r="3.05"/>
<circle cx="126.7" cy="64.8" r="3.05"/>
<circle cx="143.6" cy="52.9" r="3.05"/>
<circle cx="143.1" cy="61.5" r="3.05"/>
<circle cx="146.4" cy="67.6" r="3.05"/>
<circle cx="149.3" cy="5.6" r="3.05"/>
<circle cx="146.4" cy="102.2" r="3.05"/>
<circle cx="161.1" cy="20.6" r="3.05"/>
<circle cx="164.3" cy="48.0" r="3.05"/>
<circle cx="159.5" cy="67.8" r="3.05"/>
<circle cx="164.0" cy="67.8" r="3.05"/>
<circle cx="196.3" cy="54.8" r="3.05"/>
<circle cx="197.6" cy="69.5" r="3.05"/>
<circle cx="198.8" cy="74.6" r="3.05"/>
<circle cx="203.8" cy="72.0" r="3.05"/>
<circle cx="196.3" cy="90.8" r="3.05"/>
<circle cx="203.8" cy="85.8" r="3.05"/>
</g>
<g clip-path="url(#cr)" stroke="#ababab" stroke-width="0.9" fill="none">
<path d="M216.6 74.8V93.2M213.3 74.8H219.9M213.3 93.2H219.9M225.3 43.3V64.3M222.0 43.3H228.6M222.0 64.3H228.6M246.5 19.9V41.4M243.2 19.9H249.8M243.2 41.4H249.8M260.8 85.5V108.2M257.5 85.5H264.1M257.5 108.2H264.1M261.0 122.7V147.0M257.7 122.7H264.3M257.7 147.0H264.3M281.2 43.6V75.7M277.9 43.6H284.6M277.9 75.7H284.6M279.1 67.2V89.4M275.8 67.2H282.4M275.8 89.4H282.4M281.5 81.4V106.6M278.2 81.4H284.8M278.2 106.6H284.8M297.6 46.5V66.7M294.3 46.5H300.9M294.3 66.7H300.9M296.9 52.4V77.0M293.6 52.4H300.2M293.6 77.0H300.2M313.8 41.5V64.3M310.5 41.5H317.1M310.5 64.3H317.1M313.3 50.9V72.1M310.0 50.9H316.6M310.0 72.1H316.6M316.6 55.7V79.2M313.3 55.7H319.9M313.3 79.2H319.9M319.5 -5.3V16.5M316.2 -5.3H322.8M316.2 16.5H322.8M316.6 90.2V114.1M313.3 90.2H319.9M313.3 114.1H319.9M331.3 9.5V31.5M328.0 9.5H334.6M328.0 31.5H334.6M334.5 36.2V59.7M331.2 36.2H337.8M331.2 59.7H337.8M329.8 56.5V79.3M326.4 56.5H333.1M326.4 79.3H333.1M334.2 57.6V77.9M330.9 57.6H337.6M330.9 77.9H337.6M366.5 45.0V64.6M363.2 45.0H369.8M363.2 64.6H369.8M367.8 60.5V78.2M364.5 60.5H371.1M364.5 78.2H371.1M369.0 64.4V84.0M365.7 64.4H372.3M365.7 84.0H372.3M374.0 61.5V82.5M370.7 61.5H377.3M370.7 82.5H377.3M366.5 80.6V101.0M363.2 80.6H369.8M363.2 101.0H369.8M374.0 75.3V96.7M370.7 75.3H377.3M370.7 96.7H377.3"/>
<circle cx="216.6" cy="84.0" r="3.05"/>
<circle cx="225.3" cy="53.9" r="3.05"/>
<circle cx="246.5" cy="30.6" r="3.05"/>
<circle cx="260.8" cy="96.7" r="3.05"/>
<circle cx="261.0" cy="135.0" r="3.05"/>
<circle cx="281.2" cy="59.7" r="3.05"/>
<circle cx="279.1" cy="78.4" r="3.05"/>
<circle cx="281.5" cy="94.0" r="3.05"/>
<circle cx="297.6" cy="56.6" r="3.05"/>
<circle cx="296.9" cy="64.8" r="3.05"/>
<circle cx="313.8" cy="52.9" r="3.05"/>
<circle cx="313.3" cy="61.5" r="3.05"/>
<circle cx="316.6" cy="67.6" r="3.05"/>
<circle cx="319.5" cy="5.6" r="3.05"/>
<circle cx="316.6" cy="102.2" r="3.05"/>
<circle cx="331.3" cy="20.6" r="3.05"/>
<circle cx="334.5" cy="48.0" r="3.05"/>
<circle cx="329.8" cy="67.8" r="3.05"/>
<circle cx="334.2" cy="67.8" r="3.05"/>
<circle cx="366.5" cy="54.8" r="3.05"/>
<circle cx="367.8" cy="69.5" r="3.05"/>
<circle cx="369.0" cy="74.6" r="3.05"/>
<circle cx="374.0" cy="72.0" r="3.05"/>
<circle cx="366.5" cy="90.8" r="3.05"/>
<circle cx="374.0" cy="85.8" r="3.05"/>
</g>
<g fill="none">
<path d="M39.60 0.10H381.00" stroke="#111" stroke-width="1.3"/>
<path d="M40.20 0V390.70M210.35 0V390.70M380.40 0V390.70" stroke="#4e4e4e" stroke-width="1.4"/>
<path d="M40.20 140.40H380.40M40.20 390.20H380.40" stroke="#2a2a2a" stroke-width="1.0"/>
<path d="M40.20 16.27h-5M40.20 34.33h-5M40.20 52.39h-5M40.20 70.45h-5M40.20 88.51h-5M40.20 106.57h-5M40.20 124.63h-5M40.20 373.81h2.8M40.20 362.69h2.8M40.20 354.81h2.8M40.20 348.69h2.8M40.20 343.70h2.8M40.20 339.47h2.8M40.20 335.82h2.8M40.20 332.59h2.8M40.20 329.70h4.8M40.20 310.71h2.8M40.20 299.59h2.8M40.20 291.71h2.8M40.20 285.59h2.8M40.20 280.60h2.8M40.20 276.37h2.8M40.20 272.72h2.8M40.20 269.49h2.8M40.20 266.60h4.8M40.20 247.61h2.8M40.20 236.49h2.8M40.20 228.61h2.8M40.20 222.49h2.8M40.20 217.50h2.8M40.20 213.27h2.8M40.20 209.62h2.8M40.20 206.39h2.8M40.20 203.50h4.8M40.20 184.51h2.8M40.20 173.39h2.8M40.20 165.51h2.8M40.20 159.39h2.8M40.20 154.40h2.8M40.20 150.17h2.8M40.20 146.52h2.8M40.20 143.29h2.8M210.35 361.85h-5M210.35 313.73h-5M210.35 265.60h-5M210.35 217.48h-5M210.35 169.35h-5" stroke="#2a2a2a" stroke-width="1.0"/>
<path d="M40.20 390.20v4.7M210.35 390.20v4.7M67.08 390.20v4.7M237.21 390.20v4.7M93.95 390.20v4.7M264.07 390.20v4.7M120.83 390.20v4.7M290.93 390.20v4.7M147.70 390.20v4.7M317.79 390.20v4.7M174.57 390.20v4.7M344.65 390.20v4.7M201.45 390.20v4.7M371.51 390.20v4.7" stroke="#4e4e4e" stroke-width="1.4"/>
</g>
<text transform="translate(28.20 16.27) rotate(-90)" text-anchor="middle">6</text>
<text transform="translate(28.20 34.33) rotate(-90)" text-anchor="middle">4</text>
<text transform="translate(28.20 52.39) rotate(-90)" text-anchor="middle">2</text>
<text transform="translate(28.20 70.45) rotate(-90)" text-anchor="middle">0</text>
<text transform="translate(28.20 106.57) rotate(-90)" text-anchor="middle">−4</text>
<text transform="translate(33.1 140.10) rotate(-90)" text-anchor="middle">10<tspan dy="-6.3" dx="-0.5" font-size="8.2">4</tspan></text>
<text transform="translate(33.1 203.20) rotate(-90)" text-anchor="middle">10<tspan dy="-6.3" dx="-0.5" font-size="8.2">3</tspan></text>
<text transform="translate(33.1 266.30) rotate(-90)" text-anchor="middle">10<tspan dy="-6.3" dx="-0.5" font-size="8.2">2</tspan></text>
<text transform="translate(33.1 329.40) rotate(-90)" text-anchor="middle">10<tspan dy="-6.3" dx="-0.5" font-size="8.2">1</tspan></text>
<text transform="translate(198.40 361.85) rotate(-90)" text-anchor="middle">550</text>
<text transform="translate(198.40 313.73) rotate(-90)" text-anchor="middle">600</text>
<text transform="translate(198.40 265.60) rotate(-90)" text-anchor="middle">650</text>
<text transform="translate(198.40 217.48) rotate(-90)" text-anchor="middle">700</text>
<text transform="translate(198.40 169.35) rotate(-90)" text-anchor="middle">750</text>
<text x="40.20" y="407.0" text-anchor="middle">0</text>
<text x="67.08" y="407.0" text-anchor="middle">500</text>
<text x="120.83" y="407.0" text-anchor="middle">1500</text>
<text x="174.57" y="407.0" text-anchor="middle">2500</text>
<text x="237.21" y="407.0" text-anchor="middle">500</text>
<text x="290.93" y="407.0" text-anchor="middle">1500</text>
<text x="344.65" y="407.0" text-anchor="middle">2500</text>
<text transform="translate(9.60 70.20) rotate(-90)" text-anchor="middle">RV [m/s]</text>
<text transform="translate(9.60 264.40) rotate(-90)" text-anchor="middle">Period [day]</text>
<text x="210.6" y="428.2" text-anchor="middle" font-size="13.1">BJD−2455255.7322</text>
<defs><linearGradient id="cb" x1="0" y1="1" x2="0" y2="0">
<stop offset="0.0000" stop-color="#ff0000"/>
<stop offset="0.0208" stop-color="#ff2000"/>
<stop offset="0.0417" stop-color="#ff4000"/>
<stop offset="0.0625" stop-color="#ff6000"/>
<stop offset="0.0833" stop-color="#ff8000"/>
<stop offset="0.1042" stop-color="#ff9f00"/>
<stop offset="0.1250" stop-color="#ffbf00"/>
<stop offset="0.1458" stop-color="#ffdf00"/>
<stop offset="0.1667" stop-color="#ffff00"/>
<stop offset="0.1875" stop-color="#dfff00"/>
<stop offset="0.2083" stop-color="#bfff00"/>
<stop offset="0.2292" stop-color="#9fff00"/>
<stop offset="0.2500" stop-color="#80ff00"/>
<stop offset="0.2708" stop-color="#60ff00"/>
<stop offset="0.2917" stop-color="#40ff00"/>
<stop offset="0.3125" stop-color="#20ff00"/>
<stop offset="0.3333" stop-color="#00ff00"/>
<stop offset="0.3542" stop-color="#00ff20"/>
<stop offset="0.3750" stop-color="#00ff40"/>
<stop offset="0.3958" stop-color="#00ff60"/>
<stop offset="0.4167" stop-color="#00ff80"/>
<stop offset="0.4375" stop-color="#00ff9f"/>
<stop offset="0.4583" stop-color="#00ffbf"/>
<stop offset="0.4792" stop-color="#00ffdf"/>
<stop offset="0.5000" stop-color="#00ffff"/>
<stop offset="0.5208" stop-color="#00dfff"/>
<stop offset="0.5417" stop-color="#00bfff"/>
<stop offset="0.5625" stop-color="#009fff"/>
<stop offset="0.5833" stop-color="#0080ff"/>
<stop offset="0.6042" stop-color="#0060ff"/>
<stop offset="0.6250" stop-color="#0040ff"/>
<stop offset="0.6458" stop-color="#0020ff"/>
<stop offset="0.6667" stop-color="#0000ff"/>
<stop offset="0.6875" stop-color="#2000ff"/>
<stop offset="0.7083" stop-color="#4000ff"/>
<stop offset="0.7292" stop-color="#6000ff"/>
<stop offset="0.7500" stop-color="#8000ff"/>
<stop offset="0.7708" stop-color="#9f00ff"/>
<stop offset="0.7917" stop-color="#bf00ff"/>
<stop offset="0.8125" stop-color="#df00ff"/>
<stop offset="0.8333" stop-color="#ff00ff"/>
<stop offset="0.8542" stop-color="#ff00df"/>
<stop offset="0.8750" stop-color="#ff00bf"/>
<stop offset="0.8958" stop-color="#ff009f"/>
<stop offset="0.9167" stop-color="#ff0080"/>
<stop offset="0.9375" stop-color="#ff0060"/>
<stop offset="0.9583" stop-color="#ff0040"/>
<stop offset="0.9792" stop-color="#ff0020"/>
<stop offset="1.0000" stop-color="#ff0000"/>
</linearGradient></defs>
<rect x="401.10" y="152.80" width="5.70" height="224.80" fill="url(#cb)"/>
<text x="415.8" y="157.85">1</text>
<text x="415.8" y="213.98">0</text>
<text x="415.8" y="270.11">−1</text>
<text x="415.8" y="326.24">−2</text>
<path d="M406.80 153.60h4.4M406.80 209.73h4.4M406.80 265.86h4.4M406.80 321.99h4.4" stroke="#2a2a2a" stroke-width="1.0" fill="none"/>
</svg>
</body></html>
